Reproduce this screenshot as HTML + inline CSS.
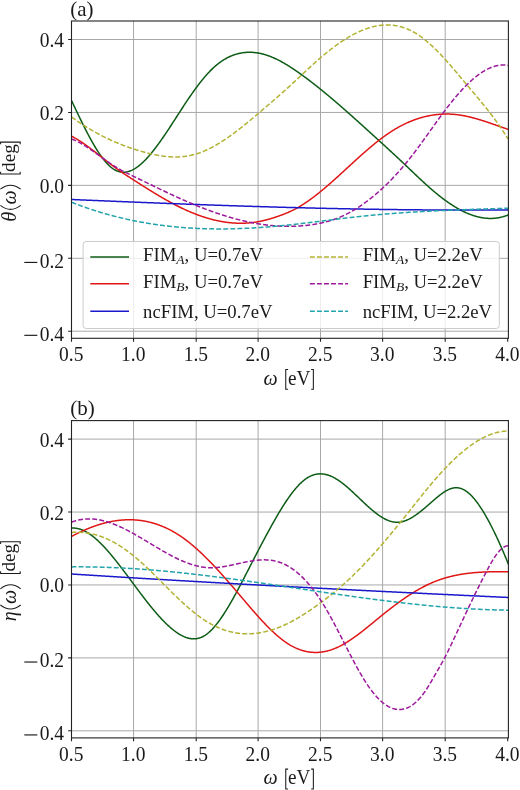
<!DOCTYPE html>
<html><head><meta charset="utf-8"><title>plot</title>
<style>
html,body{margin:0;padding:0;background:#fff;width:520px;height:790px;overflow:hidden}
svg{display:block;will-change:transform}
.t{font-family:"Liberation Serif",serif;font-size:19.50px;fill:#1a1a1a}
.lt{font-family:"Liberation Serif",serif;font-size:18.7px;fill:#1a1a1a}
</style></head><body>
<svg width="520" height="790" viewBox="0 0 520 790">
<rect width="520" height="790" fill="#fff"/>
<clipPath id="clip0"><rect x="71.50" y="21.00" width="436.90" height="317.30"/></clipPath>
<path d="M133.55 21.00 V338.30 M196.20 21.00 V338.30 M258.10 21.00 V338.30 M320.50 21.00 V338.30 M382.60 21.00 V338.30 M445.20 21.00 V338.30 M71.50 39.50 H508.40 M71.50 112.45 H508.40 M71.50 185.35 H508.40 M71.50 258.30 H508.40 M71.50 331.20 H508.40" stroke="#a8a8a8" stroke-width="1" fill="none"/>
<g clip-path="url(#clip0)" fill="none" stroke-width="1.50" stroke-linejoin="round">
<path d="M71.50 100.54 L72.0 101.60 72.5 102.66 73.0 103.71 73.5 104.77 74.0 105.82 74.5 106.88 75.0 107.93 75.5 108.98 76.0 110.03 76.5 111.08 77.0 112.13 77.5 113.18 78.0 114.22 78.5 115.26 79.0 116.29 79.5 117.33 80.0 118.36 80.5 119.39 81.0 120.41 81.5 121.43 82.0 122.45 82.5 123.46 83.0 124.46 83.5 125.47 84.0 126.46 84.5 127.46 85.0 128.44 85.5 129.43 86.0 130.40 86.5 131.37 87.0 132.34 87.5 133.29 88.0 134.24 88.5 135.19 89.0 136.13 89.5 137.06 90.0 137.98 90.5 138.89 91.0 139.80 91.5 140.70 92.0 141.59 92.5 142.47 93.0 143.35 93.5 144.21 94.0 145.07 94.5 145.91 95.0 146.75 95.5 147.58 96.0 148.39 96.5 149.20 97.0 150.00 97.5 150.78 98.0 151.56 98.5 152.32 99.0 153.08 99.5 153.82 100.0 154.55 100.5 155.27 101.0 155.97 101.5 156.67 102.0 157.35 102.5 158.02 103.0 158.67 103.5 159.31 104.0 159.94 104.5 160.56 105.0 161.16 105.5 161.75 106.0 162.32 106.5 162.88 107.0 163.43 107.5 163.96 108.0 164.47 108.5 164.97 109.0 165.46 109.5 165.93 110.0 166.38 110.5 166.82 111.0 167.24 111.5 167.64 112.0 168.03 112.5 168.40 113.0 168.76 113.5 169.09 114.0 169.41 114.5 169.71 115.0 170.00 115.5 170.26 116.0 170.51 116.5 170.74 117.0 170.95 117.5 171.15 118.0 171.33 118.5 171.50 119.0 171.64 119.5 171.77 120.0 171.89 120.5 171.99 121.0 172.07 121.5 172.13 122.0 172.19 122.5 172.22 123.0 172.24 123.5 172.25 124.0 172.24 124.5 172.21 125.0 172.17 125.5 172.12 126.0 172.05 126.5 171.97 127.0 171.87 127.5 171.76 128.0 171.63 128.5 171.49 129.0 171.34 129.5 171.18 130.0 171.00 130.5 170.81 131.0 170.60 131.5 170.39 132.0 170.16 132.5 169.91 133.0 169.66 133.5 169.39 134.0 169.11 134.5 168.82 135.0 168.52 135.5 168.20 136.0 167.88 136.5 167.54 137.0 167.19 137.5 166.84 138.0 166.47 138.5 166.09 139.0 165.69 139.5 165.29 140.0 164.88 140.5 164.46 141.0 164.03 141.5 163.59 142.0 163.14 142.5 162.68 143.0 162.21 143.5 161.73 144.0 161.24 144.5 160.75 145.0 160.24 145.5 159.73 146.0 159.20 146.5 158.67 147.0 158.13 147.5 157.59 148.0 157.03 148.5 156.47 149.0 155.90 149.5 155.33 150.0 154.74 150.5 154.15 151.0 153.55 151.5 152.95 152.0 152.34 152.5 151.72 153.0 151.09 153.5 150.46 154.0 149.83 154.5 149.18 155.0 148.54 155.5 147.88 156.0 147.22 156.5 146.56 157.0 145.89 157.5 145.21 158.0 144.53 158.5 143.85 159.0 143.16 159.5 142.46 160.0 141.76 160.5 141.06 161.0 140.35 161.5 139.64 162.0 138.92 162.5 138.20 163.0 137.48 163.5 136.75 164.0 136.02 164.5 135.28 165.0 134.55 165.5 133.81 166.0 133.06 166.5 132.32 167.0 131.57 167.5 130.82 168.0 130.06 168.5 129.31 169.0 128.55 169.5 127.79 170.0 127.02 170.5 126.26 171.0 125.50 171.5 124.73 172.0 123.96 172.5 123.19 173.0 122.42 173.5 121.65 174.0 120.87 174.5 120.10 175.0 119.33 175.5 118.55 176.0 117.78 176.5 117.00 177.0 116.23 177.5 115.46 178.0 114.68 178.5 113.91 179.0 113.13 179.5 112.36 180.0 111.59 180.5 110.82 181.0 110.05 181.5 109.28 182.0 108.51 182.5 107.74 183.0 106.98 183.5 106.21 184.0 105.45 184.5 104.69 185.0 103.94 185.5 103.18 186.0 102.43 186.5 101.68 187.0 100.93 187.5 100.18 188.0 99.44 188.5 98.70 189.0 97.97 189.5 97.23 190.0 96.50 190.5 95.78 191.0 95.05 191.5 94.34 192.0 93.62 192.5 92.91 193.0 92.20 193.5 91.50 194.0 90.80 194.5 90.10 195.0 89.41 195.5 88.72 196.0 88.04 196.5 87.36 197.0 86.69 197.5 86.02 198.0 85.35 198.5 84.70 199.0 84.04 199.5 83.39 200.0 82.75 200.5 82.11 201.0 81.48 201.5 80.85 202.0 80.23 202.5 79.61 203.0 79.00 203.5 78.40 204.0 77.80 204.5 77.21 205.0 76.62 205.5 76.04 206.0 75.47 206.5 74.90 207.0 74.34 207.5 73.79 208.0 73.24 208.5 72.70 209.0 72.17 209.5 71.64 210.0 71.13 210.5 70.61 211.0 70.11 211.5 69.61 212.0 69.12 212.5 68.64 213.0 68.17 213.5 67.70 214.0 67.25 214.5 66.80 215.0 66.35 215.5 65.92 216.0 65.49 216.5 65.07 217.0 64.66 217.5 64.26 218.0 63.86 218.5 63.47 219.0 63.09 219.5 62.72 220.0 62.35 220.5 61.99 221.0 61.64 221.5 61.29 222.0 60.95 222.5 60.62 223.0 60.30 223.5 59.98 224.0 59.67 224.5 59.37 225.0 59.07 225.5 58.79 226.0 58.50 226.5 58.23 227.0 57.96 227.5 57.70 228.0 57.44 228.5 57.20 229.0 56.95 229.5 56.72 230.0 56.49 230.5 56.27 231.0 56.05 231.5 55.84 232.0 55.64 232.5 55.45 233.0 55.26 233.5 55.07 234.0 54.89 234.5 54.72 235.0 54.56 235.5 54.40 236.0 54.25 236.5 54.10 237.0 53.96 237.5 53.82 238.0 53.69 238.5 53.57 239.0 53.45 239.5 53.34 240.0 53.24 240.5 53.14 241.0 53.04 241.5 52.95 242.0 52.87 242.5 52.79 243.0 52.72 243.5 52.65 244.0 52.59 244.5 52.54 245.0 52.49 245.5 52.44 246.0 52.40 246.5 52.37 247.0 52.34 247.5 52.31 248.0 52.30 248.5 52.28 249.0 52.27 249.5 52.27 250.0 52.27 250.5 52.28 251.0 52.30 251.5 52.31 252.0 52.34 252.5 52.36 253.0 52.40 253.5 52.44 254.0 52.48 254.5 52.53 255.0 52.58 255.5 52.64 256.0 52.70 256.5 52.77 257.0 52.84 257.5 52.92 258.0 53.00 258.5 53.09 259.0 53.18 259.5 53.28 260.0 53.38 260.5 53.48 261.0 53.59 261.5 53.71 262.0 53.83 262.5 53.95 263.0 54.08 263.5 54.22 264.0 54.35 264.5 54.50 265.0 54.64 265.5 54.79 266.0 54.95 266.5 55.11 267.0 55.27 267.5 55.44 268.0 55.62 268.5 55.79 269.0 55.98 269.5 56.16 270.0 56.35 270.5 56.54 271.0 56.74 271.5 56.94 272.0 57.15 272.5 57.36 273.0 57.57 273.5 57.79 274.0 58.01 274.5 58.24 275.0 58.46 275.5 58.70 276.0 58.93 276.5 59.17 277.0 59.41 277.5 59.66 278.0 59.91 278.5 60.16 279.0 60.42 279.5 60.68 280.0 60.94 280.5 61.20 281.0 61.47 281.5 61.75 282.0 62.02 282.5 62.30 283.0 62.58 283.5 62.86 284.0 63.15 284.5 63.44 285.0 63.73 285.5 64.03 286.0 64.33 286.5 64.63 287.0 64.93 287.5 65.23 288.0 65.54 288.5 65.85 289.0 66.17 289.5 66.48 290.0 66.80 290.5 67.12 291.0 67.44 291.5 67.77 292.0 68.09 292.5 68.42 293.0 68.75 293.5 69.09 294.0 69.42 294.5 69.76 295.0 70.10 295.5 70.44 296.0 70.78 296.5 71.13 297.0 71.47 297.5 71.82 298.0 72.17 298.5 72.52 299.0 72.87 299.5 73.23 300.0 73.58 300.5 73.94 301.0 74.30 301.5 74.66 302.0 75.02 302.5 75.38 303.0 75.75 303.5 76.11 304.0 76.48 304.5 76.84 305.0 77.21 305.5 77.58 306.0 77.95 306.5 78.33 307.0 78.70 307.5 79.08 308.0 79.45 308.5 79.83 309.0 80.21 309.5 80.59 310.0 80.97 310.5 81.35 311.0 81.73 311.5 82.12 312.0 82.50 312.5 82.89 313.0 83.28 313.5 83.67 314.0 84.06 314.5 84.45 315.0 84.84 315.5 85.23 316.0 85.63 316.5 86.02 317.0 86.42 317.5 86.81 318.0 87.21 318.5 87.61 319.0 88.01 319.5 88.41 320.0 88.82 320.5 89.22 321.0 89.62 321.5 90.03 322.0 90.44 322.5 90.84 323.0 91.25 323.5 91.66 324.0 92.07 324.5 92.48 325.0 92.89 325.5 93.30 326.0 93.72 326.5 94.13 327.0 94.55 327.5 94.96 328.0 95.38 328.5 95.80 329.0 96.21 329.5 96.63 330.0 97.05 330.5 97.47 331.0 97.90 331.5 98.32 332.0 98.74 332.5 99.17 333.0 99.59 333.5 100.02 334.0 100.44 334.5 100.87 335.0 101.30 335.5 101.72 336.0 102.15 336.5 102.58 337.0 103.01 337.5 103.44 338.0 103.87 338.5 104.31 339.0 104.74 339.5 105.17 340.0 105.61 340.5 106.04 341.0 106.48 341.5 106.91 342.0 107.35 342.5 107.78 343.0 108.22 343.5 108.66 344.0 109.10 344.5 109.54 345.0 109.98 345.5 110.42 346.0 110.86 346.5 111.30 347.0 111.74 347.5 112.18 348.0 112.62 348.5 113.07 349.0 113.51 349.5 113.95 350.0 114.40 350.5 114.84 351.0 115.29 351.5 115.73 352.0 116.18 352.5 116.63 353.0 117.07 353.5 117.52 354.0 117.97 354.5 118.41 355.0 118.86 355.5 119.31 356.0 119.76 356.5 120.21 357.0 120.66 357.5 121.11 358.0 121.56 358.5 122.01 359.0 122.46 359.5 122.91 360.0 123.36 360.5 123.81 361.0 124.26 361.5 124.71 362.0 125.16 362.5 125.61 363.0 126.06 363.5 126.52 364.0 126.97 364.5 127.42 365.0 127.87 365.5 128.33 366.0 128.78 366.5 129.23 367.0 129.69 367.5 130.14 368.0 130.59 368.5 131.05 369.0 131.50 369.5 131.95 370.0 132.41 370.5 132.86 371.0 133.31 371.5 133.77 372.0 134.22 372.5 134.67 373.0 135.13 373.5 135.58 374.0 136.04 374.5 136.49 375.0 136.94 375.5 137.40 376.0 137.85 376.5 138.31 377.0 138.76 377.5 139.22 378.0 139.67 378.5 140.13 379.0 140.58 379.5 141.04 380.0 141.49 380.5 141.95 381.0 142.41 381.5 142.86 382.0 143.32 382.5 143.77 383.0 144.23 383.5 144.69 384.0 145.15 384.5 145.60 385.0 146.06 385.5 146.52 386.0 146.98 386.5 147.44 387.0 147.90 387.5 148.36 388.0 148.82 388.5 149.28 389.0 149.74 389.5 150.20 390.0 150.66 390.5 151.12 391.0 151.58 391.5 152.04 392.0 152.50 392.5 152.97 393.0 153.43 393.5 153.89 394.0 154.36 394.5 154.82 395.0 155.29 395.5 155.75 396.0 156.22 396.5 156.68 397.0 157.15 397.5 157.61 398.0 158.08 398.5 158.55 399.0 159.02 399.5 159.49 400.0 159.95 400.5 160.42 401.0 160.89 401.5 161.36 402.0 161.84 402.5 162.31 403.0 162.78 403.5 163.25 404.0 163.72 404.5 164.20 405.0 164.67 405.5 165.15 406.0 165.62 406.5 166.10 407.0 166.57 407.5 167.05 408.0 167.53 408.5 168.00 409.0 168.48 409.5 168.96 410.0 169.43 410.5 169.91 411.0 170.39 411.5 170.86 412.0 171.34 412.5 171.82 413.0 172.29 413.5 172.77 414.0 173.25 414.5 173.72 415.0 174.20 415.5 174.67 416.0 175.15 416.5 175.62 417.0 176.09 417.5 176.56 418.0 177.04 418.5 177.51 419.0 177.98 419.5 178.45 420.0 178.91 420.5 179.38 421.0 179.85 421.5 180.31 422.0 180.78 422.5 181.24 423.0 181.70 423.5 182.16 424.0 182.62 424.5 183.08 425.0 183.54 425.5 183.99 426.0 184.45 426.5 184.90 427.0 185.35 427.5 185.80 428.0 186.24 428.5 186.69 429.0 187.13 429.5 187.58 430.0 188.02 430.5 188.45 431.0 188.89 431.5 189.32 432.0 189.76 432.5 190.19 433.0 190.61 433.5 191.04 434.0 191.46 434.5 191.88 435.0 192.30 435.5 192.72 436.0 193.13 436.5 193.54 437.0 193.95 437.5 194.36 438.0 194.76 438.5 195.17 439.0 195.57 439.5 195.96 440.0 196.36 440.5 196.75 441.0 197.14 441.5 197.52 442.0 197.91 442.5 198.29 443.0 198.67 443.5 199.04 444.0 199.42 444.5 199.79 445.0 200.15 445.5 200.52 446.0 200.88 446.5 201.24 447.0 201.59 447.5 201.95 448.0 202.30 448.5 202.64 449.0 202.99 449.5 203.33 450.0 203.67 450.5 204.00 451.0 204.33 451.5 204.66 452.0 204.99 452.5 205.31 453.0 205.63 453.5 205.94 454.0 206.25 454.5 206.56 455.0 206.87 455.5 207.17 456.0 207.47 456.5 207.76 457.0 208.06 457.5 208.35 458.0 208.63 458.5 208.91 459.0 209.19 459.5 209.46 460.0 209.73 460.5 210.00 461.0 210.27 461.5 210.52 462.0 210.78 462.5 211.03 463.0 211.28 463.5 211.53 464.0 211.77 464.5 212.01 465.0 212.24 465.5 212.47 466.0 212.69 466.5 212.92 467.0 213.13 467.5 213.35 468.0 213.56 468.5 213.76 469.0 213.96 469.5 214.16 470.0 214.35 470.5 214.54 471.0 214.73 471.5 214.91 472.0 215.09 472.5 215.26 473.0 215.43 473.5 215.59 474.0 215.75 474.5 215.91 475.0 216.06 475.5 216.20 476.0 216.35 476.5 216.48 477.0 216.62 477.5 216.74 478.0 216.87 478.5 216.99 479.0 217.10 479.5 217.21 480.0 217.32 480.5 217.42 481.0 217.52 481.5 217.61 482.0 217.69 482.5 217.78 483.0 217.85 483.5 217.93 484.0 217.99 484.5 218.06 485.0 218.12 485.5 218.17 486.0 218.22 486.5 218.26 487.0 218.30 487.5 218.33 488.0 218.36 488.5 218.38 489.0 218.40 489.5 218.41 490.0 218.42 490.5 218.42 491.0 218.42 491.5 218.41 492.0 218.40 492.5 218.38 493.0 218.36 493.5 218.33 494.0 218.29 494.5 218.25 495.0 218.21 495.5 218.16 496.0 218.10 496.5 218.04 497.0 217.97 497.5 217.90 498.0 217.82 498.5 217.74 499.0 217.65 499.5 217.55 500.0 217.45 500.5 217.34 501.0 217.23 501.5 217.11 502.0 216.99 502.5 216.86 503.0 216.73 503.5 216.58 504.0 216.44 504.5 216.28 505.0 216.13 505.5 215.96 506.0 215.79 506.5 215.61 507.0 215.43 507.5 215.24 508.0 215.05 508.1 215.01" stroke="#0c5c16"/>
<path d="M71.50 136.19 L72.0 136.44 72.5 136.70 73.0 136.96 73.5 137.23 74.0 137.50 74.5 137.78 75.0 138.06 75.5 138.34 76.0 138.63 76.5 138.92 77.0 139.22 77.5 139.52 78.0 139.83 78.5 140.14 79.0 140.45 79.5 140.77 80.0 141.08 80.5 141.41 81.0 141.73 81.5 142.06 82.0 142.40 82.5 142.73 83.0 143.07 83.5 143.42 84.0 143.76 84.5 144.11 85.0 144.46 85.5 144.81 86.0 145.17 86.5 145.53 87.0 145.89 87.5 146.25 88.0 146.62 88.5 146.99 89.0 147.36 89.5 147.73 90.0 148.10 90.5 148.48 91.0 148.85 91.5 149.23 92.0 149.61 92.5 150.00 93.0 150.38 93.5 150.76 94.0 151.15 94.5 151.54 95.0 151.93 95.5 152.32 96.0 152.71 96.5 153.10 97.0 153.49 97.5 153.88 98.0 154.28 98.5 154.67 99.0 155.06 99.5 155.46 100.0 155.85 100.5 156.25 101.0 156.64 101.5 157.04 102.0 157.43 102.5 157.83 103.0 158.22 103.5 158.62 104.0 159.01 104.5 159.41 105.0 159.80 105.5 160.19 106.0 160.59 106.5 160.98 107.0 161.37 107.5 161.76 108.0 162.15 108.5 162.53 109.0 162.92 109.5 163.30 110.0 163.69 110.5 164.07 111.0 164.45 111.5 164.83 112.0 165.21 112.5 165.58 113.0 165.96 113.5 166.33 114.0 166.70 114.5 167.07 115.0 167.43 115.5 167.80 116.0 168.16 116.5 168.52 117.0 168.88 117.5 169.23 118.0 169.58 118.5 169.94 119.0 170.28 119.5 170.63 120.0 170.98 120.5 171.32 121.0 171.67 121.5 172.01 122.0 172.35 122.5 172.68 123.0 173.02 123.5 173.36 124.0 173.69 124.5 174.03 125.0 174.36 125.5 174.69 126.0 175.02 126.5 175.35 127.0 175.68 127.5 176.00 128.0 176.33 128.5 176.65 129.0 176.98 129.5 177.30 130.0 177.63 130.5 177.95 131.0 178.27 131.5 178.60 132.0 178.92 132.5 179.24 133.0 179.56 133.5 179.88 134.0 180.21 134.5 180.53 135.0 180.85 135.5 181.17 136.0 181.49 136.5 181.81 137.0 182.13 137.5 182.45 138.0 182.77 138.5 183.09 139.0 183.41 139.5 183.73 140.0 184.05 140.5 184.36 141.0 184.68 141.5 185.00 142.0 185.32 142.5 185.63 143.0 185.95 143.5 186.27 144.0 186.58 144.5 186.90 145.0 187.21 145.5 187.53 146.0 187.84 146.5 188.15 147.0 188.47 147.5 188.78 148.0 189.09 148.5 189.40 149.0 189.71 149.5 190.02 150.0 190.33 150.5 190.64 151.0 190.95 151.5 191.26 152.0 191.56 152.5 191.87 153.0 192.18 153.5 192.48 154.0 192.78 154.5 193.09 155.0 193.39 155.5 193.69 156.0 193.99 156.5 194.29 157.0 194.59 157.5 194.89 158.0 195.19 158.5 195.49 159.0 195.78 159.5 196.08 160.0 196.37 160.5 196.67 161.0 196.96 161.5 197.25 162.0 197.54 162.5 197.83 163.0 198.12 163.5 198.41 164.0 198.69 164.5 198.98 165.0 199.26 165.5 199.55 166.0 199.83 166.5 200.11 167.0 200.39 167.5 200.67 168.0 200.95 168.5 201.22 169.0 201.50 169.5 201.77 170.0 202.05 170.5 202.32 171.0 202.59 171.5 202.86 172.0 203.13 172.5 203.39 173.0 203.66 173.5 203.92 174.0 204.19 174.5 204.45 175.0 204.71 175.5 204.97 176.0 205.23 176.5 205.48 177.0 205.74 177.5 205.99 178.0 206.24 178.5 206.49 179.0 206.74 179.5 206.99 180.0 207.24 180.5 207.48 181.0 207.73 181.5 207.97 182.0 208.21 182.5 208.45 183.0 208.68 183.5 208.92 184.0 209.15 184.5 209.38 185.0 209.61 185.5 209.84 186.0 210.07 186.5 210.30 187.0 210.52 187.5 210.74 188.0 210.96 188.5 211.18 189.0 211.40 189.5 211.61 190.0 211.83 190.5 212.04 191.0 212.25 191.5 212.46 192.0 212.66 192.5 212.87 193.0 213.07 193.5 213.27 194.0 213.47 194.5 213.67 195.0 213.87 195.5 214.06 196.0 214.25 196.5 214.44 197.0 214.63 197.5 214.82 198.0 215.01 198.5 215.19 199.0 215.37 199.5 215.55 200.0 215.73 200.5 215.90 201.0 216.08 201.5 216.25 202.0 216.42 202.5 216.59 203.0 216.75 203.5 216.92 204.0 217.08 204.5 217.24 205.0 217.40 205.5 217.56 206.0 217.71 206.5 217.86 207.0 218.01 207.5 218.16 208.0 218.31 208.5 218.46 209.0 218.60 209.5 218.74 210.0 218.88 210.5 219.01 211.0 219.15 211.5 219.28 212.0 219.41 212.5 219.54 213.0 219.67 213.5 219.79 214.0 219.91 214.5 220.04 215.0 220.15 215.5 220.27 216.0 220.38 216.5 220.50 217.0 220.61 217.5 220.71 218.0 220.82 218.5 220.92 219.0 221.02 219.5 221.12 220.0 221.22 220.5 221.31 221.0 221.41 221.5 221.50 222.0 221.59 222.5 221.67 223.0 221.76 223.5 221.84 224.0 221.92 224.5 221.99 225.0 222.07 225.5 222.14 226.0 222.21 226.5 222.28 227.0 222.35 227.5 222.41 228.0 222.47 228.5 222.53 229.0 222.59 229.5 222.64 230.0 222.69 230.5 222.74 231.0 222.79 231.5 222.84 232.0 222.88 232.5 222.92 233.0 222.96 233.5 222.99 234.0 223.03 234.5 223.06 235.0 223.09 235.5 223.11 236.0 223.14 236.5 223.16 237.0 223.18 237.5 223.20 238.0 223.21 238.5 223.22 239.0 223.23 239.5 223.24 240.0 223.24 240.5 223.25 241.0 223.24 241.5 223.24 242.0 223.24 242.5 223.23 243.0 223.22 243.5 223.21 244.0 223.19 244.5 223.17 245.0 223.15 245.5 223.13 246.0 223.10 246.5 223.08 247.0 223.04 247.5 223.01 248.0 222.98 248.5 222.94 249.0 222.90 249.5 222.85 250.0 222.81 250.5 222.76 251.0 222.71 251.5 222.65 252.0 222.60 252.5 222.54 253.0 222.48 253.5 222.41 254.0 222.34 254.5 222.27 255.0 222.20 255.5 222.13 256.0 222.05 256.5 221.97 257.0 221.88 257.5 221.80 258.0 221.71 258.5 221.62 259.0 221.53 259.5 221.43 260.0 221.33 260.5 221.23 261.0 221.13 261.5 221.02 262.0 220.91 262.5 220.80 263.0 220.69 263.5 220.58 264.0 220.46 264.5 220.34 265.0 220.22 265.5 220.09 266.0 219.97 266.5 219.84 267.0 219.71 267.5 219.57 268.0 219.44 268.5 219.30 269.0 219.16 269.5 219.02 270.0 218.88 270.5 218.73 271.0 218.58 271.5 218.43 272.0 218.28 272.5 218.13 273.0 217.97 273.5 217.81 274.0 217.66 274.5 217.49 275.0 217.33 275.5 217.17 276.0 217.00 276.5 216.83 277.0 216.66 277.5 216.49 278.0 216.32 278.5 216.14 279.0 215.96 279.5 215.79 280.0 215.61 280.5 215.42 281.0 215.24 281.5 215.05 282.0 214.87 282.5 214.68 283.0 214.49 283.5 214.29 284.0 214.10 284.5 213.90 285.0 213.70 285.5 213.50 286.0 213.29 286.5 213.08 287.0 212.87 287.5 212.66 288.0 212.44 288.5 212.22 289.0 212.00 289.5 211.78 290.0 211.55 290.5 211.32 291.0 211.09 291.5 210.85 292.0 210.61 292.5 210.37 293.0 210.12 293.5 209.87 294.0 209.62 294.5 209.36 295.0 209.10 295.5 208.84 296.0 208.57 296.5 208.30 297.0 208.02 297.5 207.74 298.0 207.46 298.5 207.17 299.0 206.89 299.5 206.59 300.0 206.30 300.5 206.00 301.0 205.69 301.5 205.39 302.0 205.08 302.5 204.76 303.0 204.45 303.5 204.13 304.0 203.80 304.5 203.48 305.0 203.15 305.5 202.82 306.0 202.48 306.5 202.14 307.0 201.80 307.5 201.46 308.0 201.11 308.5 200.76 309.0 200.41 309.5 200.05 310.0 199.70 310.5 199.34 311.0 198.97 311.5 198.61 312.0 198.24 312.5 197.87 313.0 197.49 313.5 197.12 314.0 196.74 314.5 196.36 315.0 195.97 315.5 195.59 316.0 195.20 316.5 194.81 317.0 194.42 317.5 194.02 318.0 193.63 318.5 193.23 319.0 192.83 319.5 192.42 320.0 192.02 320.5 191.61 321.0 191.20 321.5 190.79 322.0 190.38 322.5 189.97 323.0 189.55 323.5 189.13 324.0 188.71 324.5 188.29 325.0 187.87 325.5 187.44 326.0 187.02 326.5 186.59 327.0 186.16 327.5 185.73 328.0 185.30 328.5 184.86 329.0 184.43 329.5 183.99 330.0 183.56 330.5 183.12 331.0 182.68 331.5 182.24 332.0 181.79 332.5 181.35 333.0 180.91 333.5 180.46 334.0 180.01 334.5 179.57 335.0 179.12 335.5 178.67 336.0 178.22 336.5 177.77 337.0 177.32 337.5 176.86 338.0 176.41 338.5 175.96 339.0 175.50 339.5 175.05 340.0 174.59 340.5 174.13 341.0 173.68 341.5 173.22 342.0 172.76 342.5 172.30 343.0 171.85 343.5 171.39 344.0 170.93 344.5 170.47 345.0 170.01 345.5 169.55 346.0 169.09 346.5 168.63 347.0 168.17 347.5 167.71 348.0 167.25 348.5 166.79 349.0 166.33 349.5 165.87 350.0 165.41 350.5 164.95 351.0 164.50 351.5 164.04 352.0 163.58 352.5 163.12 353.0 162.66 353.5 162.20 354.0 161.75 354.5 161.29 355.0 160.84 355.5 160.38 356.0 159.93 356.5 159.47 357.0 159.02 357.5 158.56 358.0 158.11 358.5 157.66 359.0 157.21 359.5 156.76 360.0 156.31 360.5 155.86 361.0 155.42 361.5 154.97 362.0 154.53 362.5 154.08 363.0 153.64 363.5 153.20 364.0 152.76 364.5 152.32 365.0 151.88 365.5 151.44 366.0 151.01 366.5 150.57 367.0 150.14 367.5 149.71 368.0 149.28 368.5 148.85 369.0 148.42 369.5 148.00 370.0 147.57 370.5 147.15 371.0 146.73 371.5 146.31 372.0 145.90 372.5 145.48 373.0 145.07 373.5 144.66 374.0 144.25 374.5 143.84 375.0 143.43 375.5 143.03 376.0 142.63 376.5 142.23 377.0 141.83 377.5 141.43 378.0 141.04 378.5 140.65 379.0 140.26 379.5 139.87 380.0 139.49 380.5 139.11 381.0 138.73 381.5 138.35 382.0 137.97 382.5 137.60 383.0 137.23 383.5 136.87 384.0 136.50 384.5 136.14 385.0 135.78 385.5 135.42 386.0 135.07 386.5 134.72 387.0 134.37 387.5 134.02 388.0 133.68 388.5 133.34 389.0 133.01 389.5 132.67 390.0 132.34 390.5 132.01 391.0 131.69 391.5 131.37 392.0 131.05 392.5 130.73 393.0 130.42 393.5 130.11 394.0 129.81 394.5 129.50 395.0 129.20 395.5 128.91 396.0 128.61 396.5 128.32 397.0 128.03 397.5 127.75 398.0 127.46 398.5 127.19 399.0 126.91 399.5 126.64 400.0 126.37 400.5 126.10 401.0 125.83 401.5 125.57 402.0 125.31 402.5 125.06 403.0 124.81 403.5 124.56 404.0 124.31 404.5 124.07 405.0 123.83 405.5 123.59 406.0 123.36 406.5 123.13 407.0 122.90 407.5 122.67 408.0 122.45 408.5 122.23 409.0 122.01 409.5 121.80 410.0 121.59 410.5 121.38 411.0 121.18 411.5 120.97 412.0 120.78 412.5 120.58 413.0 120.39 413.5 120.20 414.0 120.01 414.5 119.82 415.0 119.64 415.5 119.47 416.0 119.29 416.5 119.12 417.0 118.95 417.5 118.78 418.0 118.62 418.5 118.46 419.0 118.30 419.5 118.14 420.0 117.99 420.5 117.84 421.0 117.70 421.5 117.55 422.0 117.41 422.5 117.28 423.0 117.14 423.5 117.01 424.0 116.88 424.5 116.75 425.0 116.63 425.5 116.51 426.0 116.39 426.5 116.28 427.0 116.17 427.5 116.06 428.0 115.95 428.5 115.85 429.0 115.75 429.5 115.65 430.0 115.56 430.5 115.47 431.0 115.38 431.5 115.29 432.0 115.21 432.5 115.13 433.0 115.06 433.5 114.98 434.0 114.91 434.5 114.84 435.0 114.78 435.5 114.71 436.0 114.65 436.5 114.60 437.0 114.54 437.5 114.49 438.0 114.44 438.5 114.40 439.0 114.35 439.5 114.31 440.0 114.28 440.5 114.24 441.0 114.21 441.5 114.18 442.0 114.16 442.5 114.13 443.0 114.11 443.5 114.09 444.0 114.08 444.5 114.07 445.0 114.06 445.5 114.05 446.0 114.05 446.5 114.05 447.0 114.05 447.5 114.05 448.0 114.06 448.5 114.07 449.0 114.09 449.5 114.10 450.0 114.12 450.5 114.14 451.0 114.17 451.5 114.19 452.0 114.22 452.5 114.26 453.0 114.29 453.5 114.33 454.0 114.37 454.5 114.42 455.0 114.46 455.5 114.51 456.0 114.56 456.5 114.62 457.0 114.68 457.5 114.74 458.0 114.80 458.5 114.87 459.0 114.93 459.5 115.01 460.0 115.08 460.5 115.16 461.0 115.24 461.5 115.32 462.0 115.40 462.5 115.49 463.0 115.58 463.5 115.67 464.0 115.76 464.5 115.86 465.0 115.96 465.5 116.06 466.0 116.16 466.5 116.27 467.0 116.37 467.5 116.48 468.0 116.60 468.5 116.71 469.0 116.83 469.5 116.94 470.0 117.06 470.5 117.18 471.0 117.31 471.5 117.43 472.0 117.56 472.5 117.69 473.0 117.82 473.5 117.95 474.0 118.09 474.5 118.22 475.0 118.36 475.5 118.50 476.0 118.64 476.5 118.79 477.0 118.93 477.5 119.07 478.0 119.22 478.5 119.37 479.0 119.52 479.5 119.67 480.0 119.82 480.5 119.97 481.0 120.13 481.5 120.29 482.0 120.44 482.5 120.60 483.0 120.76 483.5 120.92 484.0 121.08 484.5 121.24 485.0 121.41 485.5 121.57 486.0 121.74 486.5 121.90 487.0 122.07 487.5 122.24 488.0 122.40 488.5 122.57 489.0 122.74 489.5 122.91 490.0 123.08 490.5 123.25 491.0 123.43 491.5 123.60 492.0 123.77 492.5 123.94 493.0 124.12 493.5 124.29 494.0 124.47 494.5 124.64 495.0 124.82 495.5 124.99 496.0 125.17 496.5 125.34 497.0 125.52 497.5 125.69 498.0 125.87 498.5 126.05 499.0 126.22 499.5 126.40 500.0 126.57 500.5 126.75 501.0 126.92 501.5 127.10 502.0 127.28 502.5 127.45 503.0 127.62 503.5 127.80 504.0 127.97 504.5 128.15 505.0 128.32 505.5 128.49 506.0 128.66 506.5 128.84 507.0 129.01 507.5 129.18 508.0 129.35 508.1 129.38" stroke="#e01616"/>
<path d="M71.50 199.49 L72.0 199.51 72.5 199.54 73.0 199.56 73.5 199.58 74.0 199.60 74.5 199.62 75.0 199.64 75.5 199.66 76.0 199.69 76.5 199.71 77.0 199.73 77.5 199.75 78.0 199.77 78.5 199.79 79.0 199.81 79.5 199.83 80.0 199.86 80.5 199.88 81.0 199.90 81.5 199.92 82.0 199.94 82.5 199.96 83.0 199.98 83.5 200.00 84.0 200.03 84.5 200.05 85.0 200.07 85.5 200.09 86.0 200.11 86.5 200.13 87.0 200.15 87.5 200.17 88.0 200.20 88.5 200.22 89.0 200.24 89.5 200.26 90.0 200.28 90.5 200.30 91.0 200.32 91.5 200.34 92.0 200.36 92.5 200.39 93.0 200.41 93.5 200.43 94.0 200.45 94.5 200.47 95.0 200.49 95.5 200.51 96.0 200.53 96.5 200.55 97.0 200.57 97.5 200.60 98.0 200.62 98.5 200.64 99.0 200.66 99.5 200.68 100.0 200.70 100.5 200.72 101.0 200.74 101.5 200.76 102.0 200.78 102.5 200.81 103.0 200.83 103.5 200.85 104.0 200.87 104.5 200.89 105.0 200.91 105.5 200.93 106.0 200.95 106.5 200.97 107.0 200.99 107.5 201.01 108.0 201.03 108.5 201.05 109.0 201.08 109.5 201.10 110.0 201.12 110.5 201.14 111.0 201.16 111.5 201.18 112.0 201.20 112.5 201.22 113.0 201.24 113.5 201.26 114.0 201.28 114.5 201.30 115.0 201.32 115.5 201.34 116.0 201.36 116.5 201.39 117.0 201.41 117.5 201.43 118.0 201.45 118.5 201.47 119.0 201.49 119.5 201.51 120.0 201.53 120.5 201.55 121.0 201.57 121.5 201.59 122.0 201.61 122.5 201.63 123.0 201.65 123.5 201.67 124.0 201.69 124.5 201.71 125.0 201.73 125.5 201.75 126.0 201.77 126.5 201.79 127.0 201.82 127.5 201.84 128.0 201.86 128.5 201.88 129.0 201.90 129.5 201.92 130.0 201.94 130.5 201.96 131.0 201.98 131.5 202.00 132.0 202.02 132.5 202.04 133.0 202.06 133.5 202.08 134.0 202.10 134.5 202.12 135.0 202.14 135.5 202.16 136.0 202.18 136.5 202.20 137.0 202.22 137.5 202.24 138.0 202.26 138.5 202.28 139.0 202.30 139.5 202.32 140.0 202.34 140.5 202.36 141.0 202.38 141.5 202.40 142.0 202.42 142.5 202.44 143.0 202.46 143.5 202.48 144.0 202.50 144.5 202.52 145.0 202.54 145.5 202.56 146.0 202.58 146.5 202.60 147.0 202.62 147.5 202.64 148.0 202.66 148.5 202.68 149.0 202.70 149.5 202.72 150.0 202.74 150.5 202.76 151.0 202.77 151.5 202.79 152.0 202.81 152.5 202.83 153.0 202.85 153.5 202.87 154.0 202.89 154.5 202.91 155.0 202.93 155.5 202.95 156.0 202.97 156.5 202.99 157.0 203.01 157.5 203.03 158.0 203.05 158.5 203.07 159.0 203.09 159.5 203.11 160.0 203.13 160.5 203.15 161.0 203.16 161.5 203.18 162.0 203.20 162.5 203.22 163.0 203.24 163.5 203.26 164.0 203.28 164.5 203.30 165.0 203.32 165.5 203.34 166.0 203.36 166.5 203.38 167.0 203.40 167.5 203.42 168.0 203.43 168.5 203.45 169.0 203.47 169.5 203.49 170.0 203.51 170.5 203.53 171.0 203.55 171.5 203.57 172.0 203.59 172.5 203.61 173.0 203.62 173.5 203.64 174.0 203.66 174.5 203.68 175.0 203.70 175.5 203.72 176.0 203.74 176.5 203.76 177.0 203.78 177.5 203.79 178.0 203.81 178.5 203.83 179.0 203.85 179.5 203.87 180.0 203.89 180.5 203.91 181.0 203.93 181.5 203.94 182.0 203.96 182.5 203.98 183.0 204.00 183.5 204.02 184.0 204.04 184.5 204.06 185.0 204.07 185.5 204.09 186.0 204.11 186.5 204.13 187.0 204.15 187.5 204.17 188.0 204.18 188.5 204.20 189.0 204.22 189.5 204.24 190.0 204.26 190.5 204.28 191.0 204.29 191.5 204.31 192.0 204.33 192.5 204.35 193.0 204.37 193.5 204.39 194.0 204.40 194.5 204.42 195.0 204.44 195.5 204.46 196.0 204.48 196.5 204.50 197.0 204.51 197.5 204.53 198.0 204.55 198.5 204.57 199.0 204.59 199.5 204.60 200.0 204.62 200.5 204.64 201.0 204.66 201.5 204.67 202.0 204.69 202.5 204.71 203.0 204.73 203.5 204.75 204.0 204.76 204.5 204.78 205.0 204.80 205.5 204.82 206.0 204.83 206.5 204.85 207.0 204.87 207.5 204.89 208.0 204.91 208.5 204.92 209.0 204.94 209.5 204.96 210.0 204.98 210.5 204.99 211.0 205.01 211.5 205.03 212.0 205.05 212.5 205.06 213.0 205.08 213.5 205.10 214.0 205.12 214.5 205.13 215.0 205.15 215.5 205.17 216.0 205.18 216.5 205.20 217.0 205.22 217.5 205.24 218.0 205.25 218.5 205.27 219.0 205.29 219.5 205.30 220.0 205.32 220.5 205.34 221.0 205.36 221.5 205.37 222.0 205.39 222.5 205.41 223.0 205.42 223.5 205.44 224.0 205.46 224.5 205.48 225.0 205.49 225.5 205.51 226.0 205.53 226.5 205.54 227.0 205.56 227.5 205.58 228.0 205.59 228.5 205.61 229.0 205.63 229.5 205.64 230.0 205.66 230.5 205.68 231.0 205.69 231.5 205.71 232.0 205.73 232.5 205.74 233.0 205.76 233.5 205.78 234.0 205.79 234.5 205.81 235.0 205.82 235.5 205.84 236.0 205.86 236.5 205.87 237.0 205.89 237.5 205.91 238.0 205.92 238.5 205.94 239.0 205.96 239.5 205.97 240.0 205.99 240.5 206.00 241.0 206.02 241.5 206.04 242.0 206.05 242.5 206.07 243.0 206.08 243.5 206.10 244.0 206.12 244.5 206.13 245.0 206.15 245.5 206.16 246.0 206.18 246.5 206.20 247.0 206.21 247.5 206.23 248.0 206.24 248.5 206.26 249.0 206.28 249.5 206.29 250.0 206.31 250.5 206.32 251.0 206.34 251.5 206.35 252.0 206.37 252.5 206.38 253.0 206.40 253.5 206.42 254.0 206.43 254.5 206.45 255.0 206.46 255.5 206.48 256.0 206.49 256.5 206.51 257.0 206.52 257.5 206.54 258.0 206.55 258.5 206.57 259.0 206.58 259.5 206.60 260.0 206.62 260.5 206.63 261.0 206.65 261.5 206.66 262.0 206.68 262.5 206.69 263.0 206.71 263.5 206.72 264.0 206.74 264.5 206.75 265.0 206.77 265.5 206.78 266.0 206.80 266.5 206.81 267.0 206.82 267.5 206.84 268.0 206.85 268.5 206.87 269.0 206.88 269.5 206.90 270.0 206.91 270.5 206.93 271.0 206.94 271.5 206.96 272.0 206.97 272.5 206.99 273.0 207.00 273.5 207.01 274.0 207.03 274.5 207.04 275.0 207.06 275.5 207.07 276.0 207.09 276.5 207.10 277.0 207.12 277.5 207.13 278.0 207.14 278.5 207.16 279.0 207.17 279.5 207.19 280.0 207.20 280.5 207.21 281.0 207.23 281.5 207.24 282.0 207.26 282.5 207.27 283.0 207.28 283.5 207.30 284.0 207.31 284.5 207.33 285.0 207.34 285.5 207.35 286.0 207.37 286.5 207.38 287.0 207.39 287.5 207.41 288.0 207.42 288.5 207.44 289.0 207.45 289.5 207.46 290.0 207.48 290.5 207.49 291.0 207.50 291.5 207.52 292.0 207.53 292.5 207.54 293.0 207.56 293.5 207.57 294.0 207.58 294.5 207.60 295.0 207.61 295.5 207.62 296.0 207.64 296.5 207.65 297.0 207.66 297.5 207.68 298.0 207.69 298.5 207.70 299.0 207.72 299.5 207.73 300.0 207.74 300.5 207.75 301.0 207.77 301.5 207.78 302.0 207.79 302.5 207.81 303.0 207.82 303.5 207.83 304.0 207.84 304.5 207.86 305.0 207.87 305.5 207.88 306.0 207.89 306.5 207.91 307.0 207.92 307.5 207.93 308.0 207.94 308.5 207.96 309.0 207.97 309.5 207.98 310.0 207.99 310.5 208.01 311.0 208.02 311.5 208.03 312.0 208.04 312.5 208.05 313.0 208.07 313.5 208.08 314.0 208.09 314.5 208.10 315.0 208.11 315.5 208.13 316.0 208.14 316.5 208.15 317.0 208.16 317.5 208.17 318.0 208.19 318.5 208.20 319.0 208.21 319.5 208.22 320.0 208.23 320.5 208.24 321.0 208.26 321.5 208.27 322.0 208.28 322.5 208.29 323.0 208.30 323.5 208.31 324.0 208.33 324.5 208.34 325.0 208.35 325.5 208.36 326.0 208.37 326.5 208.38 327.0 208.39 327.5 208.40 328.0 208.42 328.5 208.43 329.0 208.44 329.5 208.45 330.0 208.46 330.5 208.47 331.0 208.48 331.5 208.49 332.0 208.50 332.5 208.51 333.0 208.53 333.5 208.54 334.0 208.55 334.5 208.56 335.0 208.57 335.5 208.58 336.0 208.59 336.5 208.60 337.0 208.61 337.5 208.62 338.0 208.63 338.5 208.64 339.0 208.65 339.5 208.66 340.0 208.67 340.5 208.68 341.0 208.69 341.5 208.70 342.0 208.71 342.5 208.73 343.0 208.74 343.5 208.75 344.0 208.76 344.5 208.77 345.0 208.78 345.5 208.79 346.0 208.80 346.5 208.81 347.0 208.82 347.5 208.83 348.0 208.83 348.5 208.84 349.0 208.85 349.5 208.86 350.0 208.87 350.5 208.88 351.0 208.89 351.5 208.90 352.0 208.91 352.5 208.92 353.0 208.93 353.5 208.94 354.0 208.95 354.5 208.96 355.0 208.97 355.5 208.98 356.0 208.99 356.5 209.00 357.0 209.01 357.5 209.01 358.0 209.02 358.5 209.03 359.0 209.04 359.5 209.05 360.0 209.06 360.5 209.07 361.0 209.08 361.5 209.09 362.0 209.10 362.5 209.10 363.0 209.11 363.5 209.12 364.0 209.13 364.5 209.14 365.0 209.15 365.5 209.16 366.0 209.16 366.5 209.17 367.0 209.18 367.5 209.19 368.0 209.20 368.5 209.21 369.0 209.21 369.5 209.22 370.0 209.23 370.5 209.24 371.0 209.25 371.5 209.26 372.0 209.26 372.5 209.27 373.0 209.28 373.5 209.29 374.0 209.30 374.5 209.30 375.0 209.31 375.5 209.32 376.0 209.33 376.5 209.33 377.0 209.34 377.5 209.35 378.0 209.36 378.5 209.37 379.0 209.37 379.5 209.38 380.0 209.39 380.5 209.40 381.0 209.40 381.5 209.41 382.0 209.42 382.5 209.42 383.0 209.43 383.5 209.44 384.0 209.45 384.5 209.45 385.0 209.46 385.5 209.47 386.0 209.47 386.5 209.48 387.0 209.49 387.5 209.50 388.0 209.50 388.5 209.51 389.0 209.52 389.5 209.52 390.0 209.53 390.5 209.54 391.0 209.54 391.5 209.55 392.0 209.56 392.5 209.56 393.0 209.57 393.5 209.57 394.0 209.58 394.5 209.59 395.0 209.59 395.5 209.60 396.0 209.61 396.5 209.61 397.0 209.62 397.5 209.62 398.0 209.63 398.5 209.64 399.0 209.64 399.5 209.65 400.0 209.65 400.5 209.66 401.0 209.67 401.5 209.67 402.0 209.68 402.5 209.68 403.0 209.69 403.5 209.69 404.0 209.70 404.5 209.71 405.0 209.71 405.5 209.72 406.0 209.72 406.5 209.73 407.0 209.73 407.5 209.74 408.0 209.74 408.5 209.75 409.0 209.75 409.5 209.76 410.0 209.76 410.5 209.77 411.0 209.77 411.5 209.78 412.0 209.78 412.5 209.79 413.0 209.79 413.5 209.80 414.0 209.80 414.5 209.81 415.0 209.81 415.5 209.82 416.0 209.82 416.5 209.83 417.0 209.83 417.5 209.84 418.0 209.84 418.5 209.84 419.0 209.85 419.5 209.85 420.0 209.86 420.5 209.86 421.0 209.87 421.5 209.87 422.0 209.87 422.5 209.88 423.0 209.88 423.5 209.89 424.0 209.89 424.5 209.89 425.0 209.90 425.5 209.90 426.0 209.90 426.5 209.91 427.0 209.91 427.5 209.92 428.0 209.92 428.5 209.92 429.0 209.93 429.5 209.93 430.0 209.93 430.5 209.94 431.0 209.94 431.5 209.94 432.0 209.95 432.5 209.95 433.0 209.95 433.5 209.96 434.0 209.96 434.5 209.96 435.0 209.96 435.5 209.97 436.0 209.97 436.5 209.97 437.0 209.98 437.5 209.98 438.0 209.98 438.5 209.98 439.0 209.99 439.5 209.99 440.0 209.99 440.5 209.99 441.0 210.00 441.5 210.00 442.0 210.00 442.5 210.00 443.0 210.01 443.5 210.01 444.0 210.01 444.5 210.01 445.0 210.01 445.5 210.02 446.0 210.02 446.5 210.02 447.0 210.02 447.5 210.02 448.0 210.03 448.5 210.03 449.0 210.03 449.5 210.03 450.0 210.03 450.5 210.03 451.0 210.04 451.5 210.04 452.0 210.04 452.5 210.04 453.0 210.04 453.5 210.04 454.0 210.04 454.5 210.04 455.0 210.05 455.5 210.05 456.0 210.05 456.5 210.05 457.0 210.05 457.5 210.05 458.0 210.05 458.5 210.05 459.0 210.05 459.5 210.05 460.0 210.05 460.5 210.06 461.0 210.06 461.5 210.06 462.0 210.06 462.5 210.06 463.0 210.06 463.5 210.06 464.0 210.06 464.5 210.06 465.0 210.06 465.5 210.06 466.0 210.06 466.5 210.06 467.0 210.06 467.5 210.06 468.0 210.06 468.5 210.06 469.0 210.06 469.5 210.06 470.0 210.06 470.5 210.06 471.0 210.06 471.5 210.06 472.0 210.06 472.5 210.06 473.0 210.06 473.5 210.06 474.0 210.06 474.5 210.05 475.0 210.05 475.5 210.05 476.0 210.05 476.5 210.05 477.0 210.05 477.5 210.05 478.0 210.05 478.5 210.05 479.0 210.05 479.5 210.05 480.0 210.04 480.5 210.04 481.0 210.04 481.5 210.04 482.0 210.04 482.5 210.04 483.0 210.04 483.5 210.03 484.0 210.03 484.5 210.03 485.0 210.03 485.5 210.03 486.0 210.03 486.5 210.02 487.0 210.02 487.5 210.02 488.0 210.02 488.5 210.02 489.0 210.01 489.5 210.01 490.0 210.01 490.5 210.01 491.0 210.01 491.5 210.00 492.0 210.00 492.5 210.00 493.0 210.00 493.5 209.99 494.0 209.99 494.5 209.99 495.0 209.99 495.5 209.98 496.0 209.98 496.5 209.98 497.0 209.97 497.5 209.97 498.0 209.97 498.5 209.97 499.0 209.96 499.5 209.96 500.0 209.96 500.5 209.95 501.0 209.95 501.5 209.95 502.0 209.94 502.5 209.94 503.0 209.94 503.5 209.93 504.0 209.93 504.5 209.93 505.0 209.92 505.5 209.92 506.0 209.91 506.5 209.91 507.0 209.91 507.5 209.90 508.0 209.90" stroke="#1a18cc"/>
<path d="M71.50 116.92 L72.0 117.28 72.5 117.65 73.0 118.01 73.5 118.37 74.0 118.73 74.5 119.08 75.0 119.44 75.5 119.79 76.0 120.14 76.5 120.49 77.0 120.83 77.5 121.18 78.0 121.52 78.5 121.86 79.0 122.20 79.5 122.54 80.0 122.87 80.5 123.21 81.0 123.54 81.5 123.87 82.0 124.19 82.5 124.52 83.0 124.84 83.5 125.17 84.0 125.49 84.5 125.80 85.0 126.12 85.5 126.43 86.0 126.75 86.5 127.06 87.0 127.37 87.5 127.68 88.0 127.98 88.5 128.28 89.0 128.59 89.5 128.89 90.0 129.19 90.5 129.48 91.0 129.78 91.5 130.07 92.0 130.36 92.5 130.65 93.0 130.94 93.5 131.23 94.0 131.51 94.5 131.79 95.0 132.07 95.5 132.35 96.0 132.63 96.5 132.91 97.0 133.18 97.5 133.45 98.0 133.72 98.5 133.99 99.0 134.26 99.5 134.53 100.0 134.79 100.5 135.05 101.0 135.31 101.5 135.57 102.0 135.83 102.5 136.08 103.0 136.34 103.5 136.59 104.0 136.84 104.5 137.09 105.0 137.34 105.5 137.59 106.0 137.83 106.5 138.07 107.0 138.31 107.5 138.55 108.0 138.79 108.5 139.03 109.0 139.26 109.5 139.50 110.0 139.73 110.5 139.96 111.0 140.19 111.5 140.41 112.0 140.64 112.5 140.86 113.0 141.09 113.5 141.31 114.0 141.53 114.5 141.74 115.0 141.96 115.5 142.17 116.0 142.39 116.5 142.60 117.0 142.81 117.5 143.02 118.0 143.23 118.5 143.43 119.0 143.64 119.5 143.84 120.0 144.04 120.5 144.24 121.0 144.44 121.5 144.64 122.0 144.83 122.5 145.03 123.0 145.22 123.5 145.41 124.0 145.60 124.5 145.79 125.0 145.98 125.5 146.16 126.0 146.35 126.5 146.53 127.0 146.71 127.5 146.89 128.0 147.07 128.5 147.25 129.0 147.43 129.5 147.60 130.0 147.77 130.5 147.95 131.0 148.12 131.5 148.29 132.0 148.45 132.5 148.62 133.0 148.79 133.5 148.95 134.0 149.11 134.5 149.28 135.0 149.44 135.5 149.59 136.0 149.75 136.5 149.91 137.0 150.06 137.5 150.22 138.0 150.37 138.5 150.52 139.0 150.67 139.5 150.82 140.0 150.97 140.5 151.11 141.0 151.26 141.5 151.40 142.0 151.55 142.5 151.69 143.0 151.83 143.5 151.97 144.0 152.10 144.5 152.24 145.0 152.38 145.5 152.51 146.0 152.64 146.5 152.77 147.0 152.90 147.5 153.03 148.0 153.16 148.5 153.28 149.0 153.40 149.5 153.53 150.0 153.65 150.5 153.77 151.0 153.88 151.5 154.00 152.0 154.11 152.5 154.22 153.0 154.33 153.5 154.44 154.0 154.55 154.5 154.65 155.0 154.76 155.5 154.86 156.0 154.96 156.5 155.05 157.0 155.15 157.5 155.24 158.0 155.33 158.5 155.42 159.0 155.51 159.5 155.59 160.0 155.67 160.5 155.75 161.0 155.83 161.5 155.91 162.0 155.98 162.5 156.05 163.0 156.12 163.5 156.19 164.0 156.25 164.5 156.31 165.0 156.37 165.5 156.43 166.0 156.48 166.5 156.53 167.0 156.58 167.5 156.63 168.0 156.67 168.5 156.71 169.0 156.75 169.5 156.78 170.0 156.82 170.5 156.85 171.0 156.87 171.5 156.90 172.0 156.92 172.5 156.94 173.0 156.95 173.5 156.97 174.0 156.98 174.5 156.98 175.0 156.99 175.5 156.99 176.0 156.98 176.5 156.98 177.0 156.97 177.5 156.96 178.0 156.94 178.5 156.92 179.0 156.90 179.5 156.88 180.0 156.85 180.5 156.82 181.0 156.78 181.5 156.74 182.0 156.70 182.5 156.66 183.0 156.61 183.5 156.56 184.0 156.50 184.5 156.44 185.0 156.38 185.5 156.31 186.0 156.24 186.5 156.17 187.0 156.09 187.5 156.01 188.0 155.92 188.5 155.83 189.0 155.74 189.5 155.64 190.0 155.54 190.5 155.44 191.0 155.33 191.5 155.22 192.0 155.10 192.5 154.98 193.0 154.85 193.5 154.73 194.0 154.59 194.5 154.46 195.0 154.32 195.5 154.17 196.0 154.02 196.5 153.87 197.0 153.71 197.5 153.55 198.0 153.38 198.5 153.22 199.0 153.04 199.5 152.87 200.0 152.69 200.5 152.50 201.0 152.32 201.5 152.12 202.0 151.93 202.5 151.73 203.0 151.53 203.5 151.32 204.0 151.11 204.5 150.90 205.0 150.68 205.5 150.46 206.0 150.24 206.5 150.01 207.0 149.78 207.5 149.55 208.0 149.31 208.5 149.07 209.0 148.83 209.5 148.58 210.0 148.33 210.5 148.08 211.0 147.82 211.5 147.56 212.0 147.30 212.5 147.04 213.0 146.77 213.5 146.50 214.0 146.22 214.5 145.94 215.0 145.66 215.5 145.38 216.0 145.09 216.5 144.81 217.0 144.51 217.5 144.22 218.0 143.92 218.5 143.62 219.0 143.32 219.5 143.01 220.0 142.71 220.5 142.39 221.0 142.08 221.5 141.77 222.0 141.45 222.5 141.13 223.0 140.80 223.5 140.48 224.0 140.15 224.5 139.82 225.0 139.49 225.5 139.15 226.0 138.81 226.5 138.47 227.0 138.13 227.5 137.79 228.0 137.44 228.5 137.09 229.0 136.74 229.5 136.39 230.0 136.03 230.5 135.67 231.0 135.32 231.5 134.95 232.0 134.59 232.5 134.23 233.0 133.86 233.5 133.49 234.0 133.12 234.5 132.75 235.0 132.37 235.5 132.00 236.0 131.62 236.5 131.24 237.0 130.86 237.5 130.48 238.0 130.09 238.5 129.71 239.0 129.32 239.5 128.93 240.0 128.54 240.5 128.15 241.0 127.75 241.5 127.36 242.0 126.96 242.5 126.56 243.0 126.17 243.5 125.77 244.0 125.36 244.5 124.96 245.0 124.56 245.5 124.15 246.0 123.75 246.5 123.34 247.0 122.93 247.5 122.52 248.0 122.11 248.5 121.70 249.0 121.28 249.5 120.87 250.0 120.46 250.5 120.04 251.0 119.62 251.5 119.21 252.0 118.79 252.5 118.37 253.0 117.95 253.5 117.53 254.0 117.11 254.5 116.69 255.0 116.26 255.5 115.84 256.0 115.42 256.5 114.99 257.0 114.57 257.5 114.14 258.0 113.72 258.5 113.29 259.0 112.86 259.5 112.44 260.0 112.01 260.5 111.58 261.0 111.15 261.5 110.72 262.0 110.30 262.5 109.87 263.0 109.44 263.5 109.01 264.0 108.58 264.5 108.15 265.0 107.72 265.5 107.29 266.0 106.86 266.5 106.43 267.0 106.00 267.5 105.57 268.0 105.14 268.5 104.71 269.0 104.28 269.5 103.85 270.0 103.42 270.5 102.99 271.0 102.56 271.5 102.13 272.0 101.70 272.5 101.27 273.0 100.84 273.5 100.41 274.0 99.98 274.5 99.54 275.0 99.11 275.5 98.68 276.0 98.24 276.5 97.81 277.0 97.38 277.5 96.94 278.0 96.50 278.5 96.07 279.0 95.63 279.5 95.19 280.0 94.75 280.5 94.32 281.0 93.88 281.5 93.44 282.0 92.99 282.5 92.55 283.0 92.11 283.5 91.67 284.0 91.22 284.5 90.78 285.0 90.33 285.5 89.88 286.0 89.43 286.5 88.98 287.0 88.53 287.5 88.08 288.0 87.63 288.5 87.18 289.0 86.72 289.5 86.26 290.0 85.81 290.5 85.35 291.0 84.89 291.5 84.43 292.0 83.97 292.5 83.50 293.0 83.04 293.5 82.58 294.0 82.11 294.5 81.65 295.0 81.18 295.5 80.71 296.0 80.24 296.5 79.78 297.0 79.31 297.5 78.84 298.0 78.37 298.5 77.90 299.0 77.43 299.5 76.96 300.0 76.49 300.5 76.02 301.0 75.55 301.5 75.08 302.0 74.61 302.5 74.14 303.0 73.67 303.5 73.20 304.0 72.73 304.5 72.27 305.0 71.80 305.5 71.33 306.0 70.86 306.5 70.40 307.0 69.93 307.5 69.47 308.0 69.00 308.5 68.54 309.0 68.08 309.5 67.62 310.0 67.16 310.5 66.70 311.0 66.24 311.5 65.79 312.0 65.33 312.5 64.88 313.0 64.42 313.5 63.97 314.0 63.52 314.5 63.07 315.0 62.63 315.5 62.18 316.0 61.74 316.5 61.30 317.0 60.86 317.5 60.42 318.0 59.98 318.5 59.54 319.0 59.11 319.5 58.68 320.0 58.25 320.5 57.82 321.0 57.39 321.5 56.97 322.0 56.54 322.5 56.12 323.0 55.70 323.5 55.28 324.0 54.87 324.5 54.45 325.0 54.04 325.5 53.63 326.0 53.22 326.5 52.82 327.0 52.41 327.5 52.01 328.0 51.61 328.5 51.21 329.0 50.81 329.5 50.42 330.0 50.03 330.5 49.64 331.0 49.25 331.5 48.86 332.0 48.48 332.5 48.10 333.0 47.72 333.5 47.35 334.0 46.97 334.5 46.60 335.0 46.23 335.5 45.86 336.0 45.50 336.5 45.14 337.0 44.78 337.5 44.42 338.0 44.07 338.5 43.71 339.0 43.36 339.5 43.02 340.0 42.67 340.5 42.33 341.0 41.99 341.5 41.65 342.0 41.32 342.5 40.99 343.0 40.66 343.5 40.34 344.0 40.01 344.5 39.69 345.0 39.37 345.5 39.06 346.0 38.75 346.5 38.44 347.0 38.13 347.5 37.83 348.0 37.53 348.5 37.23 349.0 36.94 349.5 36.65 350.0 36.36 350.5 36.07 351.0 35.79 351.5 35.51 352.0 35.24 352.5 34.96 353.0 34.69 353.5 34.43 354.0 34.16 354.5 33.90 355.0 33.65 355.5 33.39 356.0 33.14 356.5 32.90 357.0 32.65 357.5 32.41 358.0 32.18 358.5 31.94 359.0 31.71 359.5 31.49 360.0 31.26 360.5 31.04 361.0 30.83 361.5 30.61 362.0 30.40 362.5 30.20 363.0 30.00 363.5 29.80 364.0 29.60 364.5 29.41 365.0 29.22 365.5 29.04 366.0 28.86 366.5 28.68 367.0 28.51 367.5 28.34 368.0 28.18 368.5 28.02 369.0 27.86 369.5 27.71 370.0 27.56 370.5 27.41 371.0 27.27 371.5 27.13 372.0 27.00 372.5 26.87 373.0 26.74 373.5 26.62 374.0 26.51 374.5 26.39 375.0 26.28 375.5 26.18 376.0 26.08 376.5 25.98 377.0 25.89 377.5 25.80 378.0 25.71 378.5 25.63 379.0 25.56 379.5 25.49 380.0 25.42 380.5 25.36 381.0 25.30 381.5 25.25 382.0 25.20 382.5 25.15 383.0 25.11 383.5 25.08 384.0 25.05 384.5 25.02 385.0 25.00 385.5 24.98 386.0 24.97 386.5 24.96 387.0 24.95 387.5 24.95 388.0 24.96 388.5 24.97 389.0 24.98 389.5 25.00 390.0 25.03 390.5 25.06 391.0 25.09 391.5 25.13 392.0 25.17 392.5 25.22 393.0 25.28 393.5 25.34 394.0 25.40 394.5 25.47 395.0 25.54 395.5 25.62 396.0 25.70 396.5 25.79 397.0 25.88 397.5 25.98 398.0 26.09 398.5 26.20 399.0 26.31 399.5 26.43 400.0 26.55 400.5 26.68 401.0 26.82 401.5 26.96 402.0 27.11 402.5 27.26 403.0 27.41 403.5 27.57 404.0 27.74 404.5 27.91 405.0 28.09 405.5 28.28 406.0 28.46 406.5 28.66 407.0 28.86 407.5 29.06 408.0 29.28 408.5 29.49 409.0 29.71 409.5 29.94 410.0 30.18 410.5 30.41 411.0 30.66 411.5 30.91 412.0 31.17 412.5 31.43 413.0 31.70 413.5 31.97 414.0 32.25 414.5 32.54 415.0 32.83 415.5 33.12 416.0 33.43 416.5 33.74 417.0 34.05 417.5 34.37 418.0 34.70 418.5 35.03 419.0 35.37 419.5 35.71 420.0 36.06 420.5 36.41 421.0 36.77 421.5 37.13 422.0 37.50 422.5 37.88 423.0 38.26 423.5 38.64 424.0 39.03 424.5 39.43 425.0 39.83 425.5 40.23 426.0 40.64 426.5 41.06 427.0 41.47 427.5 41.90 428.0 42.33 428.5 42.76 429.0 43.20 429.5 43.64 430.0 44.08 430.5 44.53 431.0 44.99 431.5 45.45 432.0 45.91 432.5 46.37 433.0 46.85 433.5 47.32 434.0 47.80 434.5 48.28 435.0 48.77 435.5 49.26 436.0 49.75 436.5 50.25 437.0 50.75 437.5 51.25 438.0 51.76 438.5 52.27 439.0 52.79 439.5 53.30 440.0 53.83 440.5 54.35 441.0 54.88 441.5 55.41 442.0 55.94 442.5 56.48 443.0 57.02 443.5 57.56 444.0 58.10 444.5 58.65 445.0 59.20 445.5 59.76 446.0 60.31 446.5 60.87 447.0 61.43 447.5 61.99 448.0 62.56 448.5 63.13 449.0 63.70 449.5 64.27 450.0 64.84 450.5 65.42 451.0 65.99 451.5 66.57 452.0 67.15 452.5 67.74 453.0 68.32 453.5 68.91 454.0 69.49 454.5 70.08 455.0 70.67 455.5 71.26 456.0 71.85 456.5 72.44 457.0 73.04 457.5 73.63 458.0 74.23 458.5 74.82 459.0 75.42 459.5 76.02 460.0 76.61 460.5 77.21 461.0 77.81 461.5 78.41 462.0 79.01 462.5 79.61 463.0 80.21 463.5 80.80 464.0 81.40 464.5 82.00 465.0 82.60 465.5 83.20 466.0 83.80 466.5 84.39 467.0 84.99 467.5 85.59 468.0 86.18 468.5 86.77 469.0 87.37 469.5 87.96 470.0 88.56 470.5 89.15 471.0 89.74 471.5 90.33 472.0 90.92 472.5 91.52 473.0 92.11 473.5 92.70 474.0 93.29 474.5 93.89 475.0 94.48 475.5 95.07 476.0 95.67 476.5 96.26 477.0 96.86 477.5 97.46 478.0 98.05 478.5 98.65 479.0 99.25 479.5 99.85 480.0 100.46 480.5 101.06 481.0 101.67 481.5 102.27 482.0 102.88 482.5 103.49 483.0 104.11 483.5 104.72 484.0 105.34 484.5 105.95 485.0 106.57 485.5 107.20 486.0 107.82 486.5 108.45 487.0 109.08 487.5 109.71 488.0 110.35 488.5 110.99 489.0 111.63 489.5 112.27 490.0 112.92 490.5 113.57 491.0 114.22 491.5 114.88 492.0 115.54 492.5 116.20 493.0 116.87 493.5 117.54 494.0 118.21 494.5 118.89 495.0 119.58 495.5 120.26 496.0 120.95 496.5 121.65 497.0 122.35 497.5 123.05 498.0 123.76 498.5 124.47 499.0 125.18 499.5 125.91 500.0 126.63 500.5 127.36 501.0 128.10 501.5 128.84 502.0 129.59 502.5 130.34 503.0 131.09 503.5 131.86 504.0 132.62 504.5 133.40 505.0 134.18 505.5 134.96 506.0 135.75 506.5 136.55 507.0 137.35 507.5 138.16 508.0 138.97" stroke="#b2b232" stroke-dasharray="4.9 2.15"/>
<path d="M71.50 138.98 L72.0 139.17 72.5 139.36 73.0 139.56 73.5 139.76 74.0 139.97 74.5 140.18 75.0 140.40 75.5 140.63 76.0 140.86 76.5 141.10 77.0 141.34 77.5 141.59 78.0 141.84 78.5 142.10 79.0 142.36 79.5 142.62 80.0 142.90 80.5 143.17 81.0 143.45 81.5 143.74 82.0 144.02 82.5 144.32 83.0 144.61 83.5 144.91 84.0 145.22 84.5 145.53 85.0 145.84 85.5 146.15 86.0 146.47 86.5 146.79 87.0 147.11 87.5 147.44 88.0 147.77 88.5 148.10 89.0 148.44 89.5 148.77 90.0 149.11 90.5 149.45 91.0 149.80 91.5 150.14 92.0 150.49 92.5 150.84 93.0 151.19 93.5 151.54 94.0 151.90 94.5 152.25 95.0 152.61 95.5 152.97 96.0 153.32 96.5 153.68 97.0 154.04 97.5 154.40 98.0 154.77 98.5 155.13 99.0 155.49 99.5 155.85 100.0 156.21 100.5 156.58 101.0 156.94 101.5 157.30 102.0 157.66 102.5 158.02 103.0 158.38 103.5 158.74 104.0 159.10 104.5 159.46 105.0 159.81 105.5 160.17 106.0 160.52 106.5 160.87 107.0 161.22 107.5 161.57 108.0 161.92 108.5 162.27 109.0 162.61 109.5 162.95 110.0 163.29 110.5 163.63 111.0 163.96 111.5 164.30 112.0 164.63 112.5 164.95 113.0 165.28 113.5 165.60 114.0 165.91 114.5 166.23 115.0 166.54 115.5 166.85 116.0 167.15 116.5 167.45 117.0 167.75 117.5 168.05 118.0 168.34 118.5 168.63 119.0 168.91 119.5 169.19 120.0 169.48 120.5 169.75 121.0 170.03 121.5 170.30 122.0 170.57 122.5 170.84 123.0 171.11 123.5 171.37 124.0 171.63 124.5 171.89 125.0 172.15 125.5 172.41 126.0 172.66 126.5 172.91 127.0 173.17 127.5 173.42 128.0 173.67 128.5 173.91 129.0 174.16 129.5 174.41 130.0 174.65 130.5 174.89 131.0 175.14 131.5 175.38 132.0 175.62 132.5 175.86 133.0 176.10 133.5 176.34 134.0 176.58 134.5 176.82 135.0 177.06 135.5 177.30 136.0 177.54 136.5 177.78 137.0 178.02 137.5 178.26 138.0 178.50 138.5 178.74 139.0 178.98 139.5 179.22 140.0 179.46 140.5 179.70 141.0 179.94 141.5 180.18 142.0 180.43 142.5 180.67 143.0 180.91 143.5 181.15 144.0 181.39 144.5 181.63 145.0 181.88 145.5 182.12 146.0 182.36 146.5 182.60 147.0 182.84 147.5 183.09 148.0 183.33 148.5 183.57 149.0 183.81 149.5 184.06 150.0 184.30 150.5 184.54 151.0 184.78 151.5 185.02 152.0 185.27 152.5 185.51 153.0 185.75 153.5 185.99 154.0 186.23 154.5 186.48 155.0 186.72 155.5 186.96 156.0 187.20 156.5 187.44 157.0 187.68 157.5 187.92 158.0 188.16 158.5 188.40 159.0 188.64 159.5 188.88 160.0 189.12 160.5 189.36 161.0 189.60 161.5 189.84 162.0 190.08 162.5 190.32 163.0 190.56 163.5 190.80 164.0 191.04 164.5 191.27 165.0 191.51 165.5 191.75 166.0 191.99 166.5 192.22 167.0 192.46 167.5 192.70 168.0 192.93 168.5 193.17 169.0 193.40 169.5 193.64 170.0 193.87 170.5 194.11 171.0 194.34 171.5 194.57 172.0 194.80 172.5 195.04 173.0 195.27 173.5 195.50 174.0 195.73 174.5 195.96 175.0 196.19 175.5 196.42 176.0 196.65 176.5 196.88 177.0 197.11 177.5 197.34 178.0 197.56 178.5 197.79 179.0 198.02 179.5 198.24 180.0 198.47 180.5 198.69 181.0 198.92 181.5 199.14 182.0 199.36 182.5 199.58 183.0 199.81 183.5 200.03 184.0 200.25 184.5 200.47 185.0 200.69 185.5 200.91 186.0 201.12 186.5 201.34 187.0 201.56 187.5 201.77 188.0 201.99 188.5 202.20 189.0 202.42 189.5 202.63 190.0 202.84 190.5 203.06 191.0 203.27 191.5 203.48 192.0 203.69 192.5 203.90 193.0 204.11 193.5 204.31 194.0 204.52 194.5 204.73 195.0 204.93 195.5 205.14 196.0 205.34 196.5 205.55 197.0 205.75 197.5 205.95 198.0 206.15 198.5 206.35 199.0 206.55 199.5 206.75 200.0 206.95 200.5 207.15 201.0 207.34 201.5 207.54 202.0 207.73 202.5 207.93 203.0 208.12 203.5 208.32 204.0 208.51 204.5 208.70 205.0 208.89 205.5 209.08 206.0 209.27 206.5 209.46 207.0 209.64 207.5 209.83 208.0 210.02 208.5 210.20 209.0 210.39 209.5 210.57 210.0 210.75 210.5 210.93 211.0 211.11 211.5 211.29 212.0 211.47 212.5 211.65 213.0 211.83 213.5 212.00 214.0 212.18 214.5 212.35 215.0 212.53 215.5 212.70 216.0 212.87 216.5 213.04 217.0 213.21 217.5 213.38 218.0 213.55 218.5 213.72 219.0 213.89 219.5 214.05 220.0 214.22 220.5 214.38 221.0 214.54 221.5 214.70 222.0 214.87 222.5 215.03 223.0 215.19 223.5 215.34 224.0 215.50 224.5 215.66 225.0 215.81 225.5 215.97 226.0 216.12 226.5 216.27 227.0 216.42 227.5 216.57 228.0 216.72 228.5 216.87 229.0 217.02 229.5 217.17 230.0 217.31 230.5 217.46 231.0 217.60 231.5 217.74 232.0 217.89 232.5 218.03 233.0 218.17 233.5 218.30 234.0 218.44 234.5 218.58 235.0 218.71 235.5 218.85 236.0 218.98 236.5 219.11 237.0 219.24 237.5 219.37 238.0 219.50 238.5 219.63 239.0 219.76 239.5 219.88 240.0 220.01 240.5 220.13 241.0 220.26 241.5 220.38 242.0 220.50 242.5 220.62 243.0 220.74 243.5 220.85 244.0 220.97 244.5 221.08 245.0 221.20 245.5 221.31 246.0 221.42 246.5 221.53 247.0 221.64 247.5 221.75 248.0 221.86 248.5 221.96 249.0 222.07 249.5 222.17 250.0 222.27 250.5 222.37 251.0 222.47 251.5 222.57 252.0 222.67 252.5 222.77 253.0 222.86 253.5 222.96 254.0 223.05 254.5 223.14 255.0 223.23 255.5 223.32 256.0 223.41 256.5 223.50 257.0 223.58 257.5 223.67 258.0 223.75 258.5 223.83 259.0 223.91 259.5 223.99 260.0 224.07 260.5 224.15 261.0 224.23 261.5 224.30 262.0 224.37 262.5 224.45 263.0 224.52 263.5 224.59 264.0 224.65 264.5 224.72 265.0 224.79 265.5 224.85 266.0 224.92 266.5 224.98 267.0 225.04 267.5 225.10 268.0 225.16 268.5 225.21 269.0 225.27 269.5 225.32 270.0 225.37 270.5 225.43 271.0 225.48 271.5 225.53 272.0 225.57 272.5 225.62 273.0 225.66 273.5 225.71 274.0 225.75 274.5 225.79 275.0 225.83 275.5 225.87 276.0 225.90 276.5 225.94 277.0 225.97 277.5 226.01 278.0 226.04 278.5 226.07 279.0 226.10 279.5 226.12 280.0 226.15 280.5 226.17 281.0 226.19 281.5 226.22 282.0 226.24 282.5 226.25 283.0 226.27 283.5 226.29 284.0 226.30 284.5 226.31 285.0 226.33 285.5 226.34 286.0 226.34 286.5 226.35 287.0 226.36 287.5 226.36 288.0 226.36 288.5 226.36 289.0 226.36 289.5 226.36 290.0 226.36 290.5 226.35 291.0 226.35 291.5 226.34 292.0 226.33 292.5 226.32 293.0 226.31 293.5 226.30 294.0 226.28 294.5 226.26 295.0 226.24 295.5 226.23 296.0 226.20 296.5 226.18 297.0 226.16 297.5 226.13 298.0 226.10 298.5 226.07 299.0 226.04 299.5 226.01 300.0 225.98 300.5 225.94 301.0 225.91 301.5 225.87 302.0 225.83 302.5 225.79 303.0 225.74 303.5 225.70 304.0 225.65 304.5 225.60 305.0 225.55 305.5 225.50 306.0 225.45 306.5 225.40 307.0 225.34 307.5 225.28 308.0 225.22 308.5 225.16 309.0 225.10 309.5 225.04 310.0 224.97 310.5 224.90 311.0 224.83 311.5 224.76 312.0 224.69 312.5 224.62 313.0 224.54 313.5 224.46 314.0 224.38 314.5 224.30 315.0 224.22 315.5 224.13 316.0 224.04 316.5 223.95 317.0 223.86 317.5 223.77 318.0 223.67 318.5 223.58 319.0 223.48 319.5 223.38 320.0 223.27 320.5 223.17 321.0 223.06 321.5 222.95 322.0 222.84 322.5 222.72 323.0 222.60 323.5 222.49 324.0 222.36 324.5 222.24 325.0 222.11 325.5 221.99 326.0 221.86 326.5 221.72 327.0 221.59 327.5 221.45 328.0 221.31 328.5 221.17 329.0 221.02 329.5 220.87 330.0 220.72 330.5 220.57 331.0 220.41 331.5 220.25 332.0 220.09 332.5 219.93 333.0 219.76 333.5 219.59 334.0 219.42 334.5 219.25 335.0 219.07 335.5 218.89 336.0 218.71 336.5 218.52 337.0 218.33 337.5 218.14 338.0 217.95 338.5 217.75 339.0 217.55 339.5 217.35 340.0 217.14 340.5 216.93 341.0 216.72 341.5 216.51 342.0 216.29 342.5 216.07 343.0 215.84 343.5 215.61 344.0 215.38 344.5 215.15 345.0 214.91 345.5 214.67 346.0 214.43 346.5 214.18 347.0 213.93 347.5 213.68 348.0 213.42 348.5 213.16 349.0 212.89 349.5 212.63 350.0 212.36 350.5 212.08 351.0 211.81 351.5 211.53 352.0 211.24 352.5 210.95 353.0 210.66 353.5 210.37 354.0 210.07 354.5 209.77 355.0 209.47 355.5 209.16 356.0 208.85 356.5 208.54 357.0 208.23 357.5 207.91 358.0 207.58 358.5 207.26 359.0 206.93 359.5 206.60 360.0 206.26 360.5 205.93 361.0 205.59 361.5 205.24 362.0 204.90 362.5 204.55 363.0 204.19 363.5 203.84 364.0 203.48 364.5 203.12 365.0 202.76 365.5 202.39 366.0 202.02 366.5 201.65 367.0 201.27 367.5 200.89 368.0 200.51 368.5 200.13 369.0 199.74 369.5 199.35 370.0 198.96 370.5 198.56 371.0 198.16 371.5 197.76 372.0 197.36 372.5 196.95 373.0 196.55 373.5 196.13 374.0 195.72 374.5 195.30 375.0 194.88 375.5 194.46 376.0 194.04 376.5 193.61 377.0 193.18 377.5 192.75 378.0 192.31 378.5 191.87 379.0 191.43 379.5 190.98 380.0 190.54 380.5 190.09 381.0 189.63 381.5 189.18 382.0 188.72 382.5 188.26 383.0 187.79 383.5 187.33 384.0 186.86 384.5 186.38 385.0 185.91 385.5 185.43 386.0 184.95 386.5 184.46 387.0 183.97 387.5 183.48 388.0 182.99 388.5 182.49 389.0 181.99 389.5 181.49 390.0 180.99 390.5 180.48 391.0 179.97 391.5 179.45 392.0 178.93 392.5 178.41 393.0 177.89 393.5 177.36 394.0 176.83 394.5 176.30 395.0 175.76 395.5 175.22 396.0 174.68 396.5 174.14 397.0 173.59 397.5 173.04 398.0 172.48 398.5 171.93 399.0 171.36 399.5 170.80 400.0 170.23 400.5 169.66 401.0 169.09 401.5 168.51 402.0 167.93 402.5 167.35 403.0 166.76 403.5 166.17 404.0 165.58 404.5 164.99 405.0 164.39 405.5 163.78 406.0 163.18 406.5 162.57 407.0 161.96 407.5 161.34 408.0 160.72 408.5 160.10 409.0 159.47 409.5 158.85 410.0 158.21 410.5 157.58 411.0 156.94 411.5 156.30 412.0 155.65 412.5 155.00 413.0 154.35 413.5 153.70 414.0 153.04 414.5 152.38 415.0 151.72 415.5 151.06 416.0 150.39 416.5 149.72 417.0 149.05 417.5 148.38 418.0 147.70 418.5 147.02 419.0 146.34 419.5 145.66 420.0 144.98 420.5 144.30 421.0 143.61 421.5 142.92 422.0 142.23 422.5 141.54 423.0 140.85 423.5 140.16 424.0 139.46 424.5 138.77 425.0 138.07 425.5 137.37 426.0 136.68 426.5 135.98 427.0 135.28 427.5 134.58 428.0 133.88 428.5 133.18 429.0 132.48 429.5 131.78 430.0 131.08 430.5 130.38 431.0 129.68 431.5 128.98 432.0 128.28 432.5 127.58 433.0 126.88 433.5 126.18 434.0 125.48 434.5 124.78 435.0 124.09 435.5 123.39 436.0 122.70 436.5 122.00 437.0 121.31 437.5 120.62 438.0 119.93 438.5 119.24 439.0 118.55 439.5 117.87 440.0 117.18 440.5 116.50 441.0 115.82 441.5 115.14 442.0 114.46 442.5 113.79 443.0 113.11 443.5 112.44 444.0 111.77 444.5 111.11 445.0 110.44 445.5 109.78 446.0 109.12 446.5 108.46 447.0 107.81 447.5 107.16 448.0 106.51 448.5 105.87 449.0 105.23 449.5 104.59 450.0 103.95 450.5 103.32 451.0 102.69 451.5 102.06 452.0 101.44 452.5 100.82 453.0 100.21 453.5 99.60 454.0 98.99 454.5 98.39 455.0 97.79 455.5 97.19 456.0 96.60 456.5 96.01 457.0 95.43 457.5 94.85 458.0 94.27 458.5 93.70 459.0 93.14 459.5 92.57 460.0 92.02 460.5 91.46 461.0 90.91 461.5 90.37 462.0 89.83 462.5 89.29 463.0 88.76 463.5 88.23 464.0 87.71 464.5 87.19 465.0 86.68 465.5 86.17 466.0 85.66 466.5 85.16 467.0 84.67 467.5 84.18 468.0 83.69 468.5 83.21 469.0 82.74 469.5 82.27 470.0 81.80 470.5 81.34 471.0 80.89 471.5 80.44 472.0 79.99 472.5 79.55 473.0 79.12 473.5 78.69 474.0 78.27 474.5 77.85 475.0 77.44 475.5 77.03 476.0 76.63 476.5 76.24 477.0 75.85 477.5 75.47 478.0 75.09 478.5 74.72 479.0 74.35 479.5 73.99 480.0 73.64 480.5 73.29 481.0 72.95 481.5 72.62 482.0 72.29 482.5 71.97 483.0 71.66 483.5 71.35 484.0 71.05 484.5 70.75 485.0 70.46 485.5 70.18 486.0 69.91 486.5 69.64 487.0 69.38 487.5 69.12 488.0 68.88 488.5 68.64 489.0 68.40 489.5 68.18 490.0 67.96 490.5 67.75 491.0 67.54 491.5 67.35 492.0 67.16 492.5 66.98 493.0 66.80 493.5 66.64 494.0 66.48 494.5 66.33 495.0 66.19 495.5 66.05 496.0 65.92 496.5 65.81 497.0 65.69 497.5 65.59 498.0 65.50 498.5 65.41 499.0 65.33 499.5 65.26 500.0 65.20 500.5 65.15 501.0 65.10 501.5 65.06 502.0 65.04 502.5 65.02 503.0 65.01 503.5 65.01 504.0 65.01 504.5 65.03 505.0 65.05 505.5 65.09 506.0 65.13 506.5 65.18 507.0 65.24 507.5 65.31 508.0 65.39" stroke="#9c189c" stroke-dasharray="4.9 2.15"/>
<path d="M71.50 202.23 L72.0 202.42 72.5 202.62 73.0 202.82 73.5 203.01 74.0 203.21 74.5 203.40 75.0 203.59 75.5 203.79 76.0 203.98 76.5 204.17 77.0 204.36 77.5 204.54 78.0 204.73 78.5 204.92 79.0 205.11 79.5 205.29 80.0 205.48 80.5 205.66 81.0 205.84 81.5 206.02 82.0 206.20 82.5 206.38 83.0 206.56 83.5 206.74 84.0 206.92 84.5 207.10 85.0 207.27 85.5 207.45 86.0 207.62 86.5 207.80 87.0 207.97 87.5 208.14 88.0 208.31 88.5 208.48 89.0 208.65 89.5 208.82 90.0 208.99 90.5 209.16 91.0 209.32 91.5 209.49 92.0 209.65 92.5 209.82 93.0 209.98 93.5 210.14 94.0 210.30 94.5 210.46 95.0 210.62 95.5 210.78 96.0 210.94 96.5 211.10 97.0 211.26 97.5 211.41 98.0 211.57 98.5 211.72 99.0 211.87 99.5 212.03 100.0 212.18 100.5 212.33 101.0 212.48 101.5 212.63 102.0 212.78 102.5 212.93 103.0 213.07 103.5 213.22 104.0 213.37 104.5 213.51 105.0 213.66 105.5 213.80 106.0 213.94 106.5 214.08 107.0 214.23 107.5 214.37 108.0 214.50 108.5 214.64 109.0 214.78 109.5 214.92 110.0 215.06 110.5 215.19 111.0 215.33 111.5 215.46 112.0 215.59 112.5 215.73 113.0 215.86 113.5 215.99 114.0 216.12 114.5 216.25 115.0 216.38 115.5 216.51 116.0 216.64 116.5 216.76 117.0 216.89 117.5 217.01 118.0 217.14 118.5 217.26 119.0 217.39 119.5 217.51 120.0 217.63 120.5 217.75 121.0 217.87 121.5 217.99 122.0 218.11 122.5 218.23 123.0 218.34 123.5 218.46 124.0 218.58 124.5 218.69 125.0 218.81 125.5 218.92 126.0 219.03 126.5 219.14 127.0 219.26 127.5 219.37 128.0 219.48 128.5 219.59 129.0 219.69 129.5 219.80 130.0 219.91 130.5 220.02 131.0 220.12 131.5 220.23 132.0 220.33 132.5 220.43 133.0 220.54 133.5 220.64 134.0 220.74 134.5 220.84 135.0 220.94 135.5 221.04 136.0 221.14 136.5 221.24 137.0 221.34 137.5 221.43 138.0 221.53 138.5 221.62 139.0 221.72 139.5 221.81 140.0 221.91 140.5 222.00 141.0 222.09 141.5 222.18 142.0 222.27 142.5 222.36 143.0 222.45 143.5 222.54 144.0 222.63 144.5 222.72 145.0 222.80 145.5 222.89 146.0 222.97 146.5 223.06 147.0 223.14 147.5 223.22 148.0 223.31 148.5 223.39 149.0 223.47 149.5 223.55 150.0 223.63 150.5 223.71 151.0 223.79 151.5 223.87 152.0 223.94 152.5 224.02 153.0 224.10 153.5 224.17 154.0 224.25 154.5 224.32 155.0 224.39 155.5 224.47 156.0 224.54 156.5 224.61 157.0 224.68 157.5 224.75 158.0 224.82 158.5 224.89 159.0 224.96 159.5 225.03 160.0 225.09 160.5 225.16 161.0 225.23 161.5 225.29 162.0 225.35 162.5 225.42 163.0 225.48 163.5 225.54 164.0 225.61 164.5 225.67 165.0 225.73 165.5 225.79 166.0 225.85 166.5 225.91 167.0 225.97 167.5 226.02 168.0 226.08 168.5 226.14 169.0 226.19 169.5 226.25 170.0 226.30 170.5 226.36 171.0 226.41 171.5 226.46 172.0 226.52 172.5 226.57 173.0 226.62 173.5 226.67 174.0 226.72 174.5 226.77 175.0 226.82 175.5 226.86 176.0 226.91 176.5 226.96 177.0 227.00 177.5 227.05 178.0 227.10 178.5 227.14 179.0 227.18 179.5 227.23 180.0 227.27 180.5 227.31 181.0 227.35 181.5 227.39 182.0 227.44 182.5 227.48 183.0 227.51 183.5 227.55 184.0 227.59 184.5 227.63 185.0 227.67 185.5 227.70 186.0 227.74 186.5 227.77 187.0 227.81 187.5 227.84 188.0 227.88 188.5 227.91 189.0 227.94 189.5 227.97 190.0 228.01 190.5 228.04 191.0 228.07 191.5 228.10 192.0 228.13 192.5 228.15 193.0 228.18 193.5 228.21 194.0 228.24 194.5 228.26 195.0 228.29 195.5 228.31 196.0 228.34 196.5 228.36 197.0 228.39 197.5 228.41 198.0 228.43 198.5 228.46 199.0 228.48 199.5 228.50 200.0 228.52 200.5 228.54 201.0 228.56 201.5 228.58 202.0 228.60 202.5 228.61 203.0 228.63 203.5 228.65 204.0 228.66 204.5 228.68 205.0 228.70 205.5 228.71 206.0 228.72 206.5 228.74 207.0 228.75 207.5 228.76 208.0 228.78 208.5 228.79 209.0 228.80 209.5 228.81 210.0 228.82 210.5 228.83 211.0 228.84 211.5 228.85 212.0 228.86 212.5 228.86 213.0 228.87 213.5 228.88 214.0 228.88 214.5 228.89 215.0 228.90 215.5 228.90 216.0 228.90 216.5 228.91 217.0 228.91 217.5 228.91 218.0 228.92 218.5 228.92 219.0 228.92 219.5 228.92 220.0 228.92 220.5 228.92 221.0 228.92 221.5 228.92 222.0 228.92 222.5 228.92 223.0 228.91 223.5 228.91 224.0 228.91 224.5 228.90 225.0 228.90 225.5 228.89 226.0 228.89 226.5 228.88 227.0 228.88 227.5 228.87 228.0 228.86 228.5 228.86 229.0 228.85 229.5 228.84 230.0 228.83 230.5 228.82 231.0 228.81 231.5 228.80 232.0 228.79 232.5 228.78 233.0 228.77 233.5 228.76 234.0 228.74 234.5 228.73 235.0 228.72 235.5 228.70 236.0 228.69 236.5 228.67 237.0 228.66 237.5 228.64 238.0 228.63 238.5 228.61 239.0 228.59 239.5 228.58 240.0 228.56 240.5 228.54 241.0 228.52 241.5 228.50 242.0 228.48 242.5 228.46 243.0 228.44 243.5 228.42 244.0 228.40 244.5 228.38 245.0 228.36 245.5 228.34 246.0 228.31 246.5 228.29 247.0 228.27 247.5 228.24 248.0 228.22 248.5 228.19 249.0 228.17 249.5 228.14 250.0 228.12 250.5 228.09 251.0 228.06 251.5 228.04 252.0 228.01 252.5 227.98 253.0 227.95 253.5 227.92 254.0 227.89 254.5 227.86 255.0 227.83 255.5 227.80 256.0 227.77 256.5 227.74 257.0 227.71 257.5 227.68 258.0 227.65 258.5 227.61 259.0 227.58 259.5 227.55 260.0 227.51 260.5 227.48 261.0 227.45 261.5 227.41 262.0 227.37 262.5 227.34 263.0 227.30 263.5 227.27 264.0 227.23 264.5 227.19 265.0 227.16 265.5 227.12 266.0 227.08 266.5 227.04 267.0 227.00 267.5 226.96 268.0 226.92 268.5 226.88 269.0 226.84 269.5 226.80 270.0 226.76 270.5 226.72 271.0 226.68 271.5 226.63 272.0 226.59 272.5 226.55 273.0 226.51 273.5 226.46 274.0 226.42 274.5 226.37 275.0 226.33 275.5 226.29 276.0 226.24 276.5 226.19 277.0 226.15 277.5 226.10 278.0 226.06 278.5 226.01 279.0 225.96 279.5 225.91 280.0 225.87 280.5 225.82 281.0 225.77 281.5 225.72 282.0 225.67 282.5 225.62 283.0 225.57 283.5 225.52 284.0 225.47 284.5 225.42 285.0 225.37 285.5 225.32 286.0 225.27 286.5 225.22 287.0 225.16 287.5 225.11 288.0 225.06 288.5 225.00 289.0 224.95 289.5 224.90 290.0 224.84 290.5 224.79 291.0 224.74 291.5 224.68 292.0 224.63 292.5 224.57 293.0 224.52 293.5 224.46 294.0 224.40 294.5 224.35 295.0 224.29 295.5 224.24 296.0 224.18 296.5 224.12 297.0 224.06 297.5 224.01 298.0 223.95 298.5 223.89 299.0 223.83 299.5 223.78 300.0 223.72 300.5 223.66 301.0 223.60 301.5 223.54 302.0 223.48 302.5 223.42 303.0 223.36 303.5 223.30 304.0 223.25 304.5 223.19 305.0 223.13 305.5 223.07 306.0 223.01 306.5 222.94 307.0 222.88 307.5 222.82 308.0 222.76 308.5 222.70 309.0 222.64 309.5 222.58 310.0 222.52 310.5 222.46 311.0 222.40 311.5 222.33 312.0 222.27 312.5 222.21 313.0 222.15 313.5 222.09 314.0 222.02 314.5 221.96 315.0 221.90 315.5 221.84 316.0 221.78 316.5 221.71 317.0 221.65 317.5 221.59 318.0 221.53 318.5 221.46 319.0 221.40 319.5 221.34 320.0 221.27 320.5 221.21 321.0 221.15 321.5 221.09 322.0 221.02 322.5 220.96 323.0 220.90 323.5 220.83 324.0 220.77 324.5 220.71 325.0 220.65 325.5 220.58 326.0 220.52 326.5 220.46 327.0 220.39 327.5 220.33 328.0 220.27 328.5 220.21 329.0 220.14 329.5 220.08 330.0 220.02 330.5 219.95 331.0 219.89 331.5 219.83 332.0 219.77 332.5 219.70 333.0 219.64 333.5 219.58 334.0 219.52 334.5 219.45 335.0 219.39 335.5 219.33 336.0 219.27 336.5 219.21 337.0 219.14 337.5 219.08 338.0 219.02 338.5 218.96 339.0 218.90 339.5 218.84 340.0 218.78 340.5 218.71 341.0 218.65 341.5 218.59 342.0 218.53 342.5 218.47 343.0 218.41 343.5 218.35 344.0 218.29 344.5 218.23 345.0 218.17 345.5 218.11 346.0 218.05 346.5 217.99 347.0 217.93 347.5 217.87 348.0 217.81 348.5 217.75 349.0 217.70 349.5 217.64 350.0 217.58 350.5 217.52 351.0 217.46 351.5 217.41 352.0 217.35 352.5 217.29 353.0 217.23 353.5 217.18 354.0 217.12 354.5 217.06 355.0 217.01 355.5 216.95 356.0 216.90 356.5 216.84 357.0 216.79 357.5 216.73 358.0 216.68 358.5 216.62 359.0 216.57 359.5 216.51 360.0 216.46 360.5 216.41 361.0 216.35 361.5 216.30 362.0 216.25 362.5 216.20 363.0 216.14 363.5 216.09 364.0 216.04 364.5 215.99 365.0 215.94 365.5 215.89 366.0 215.84 366.5 215.79 367.0 215.74 367.5 215.69 368.0 215.64 368.5 215.59 369.0 215.54 369.5 215.49 370.0 215.44 370.5 215.39 371.0 215.34 371.5 215.30 372.0 215.25 372.5 215.20 373.0 215.15 373.5 215.11 374.0 215.06 374.5 215.02 375.0 214.97 375.5 214.92 376.0 214.88 376.5 214.83 377.0 214.79 377.5 214.74 378.0 214.70 378.5 214.65 379.0 214.61 379.5 214.56 380.0 214.52 380.5 214.48 381.0 214.43 381.5 214.39 382.0 214.35 382.5 214.30 383.0 214.26 383.5 214.22 384.0 214.18 384.5 214.14 385.0 214.09 385.5 214.05 386.0 214.01 386.5 213.97 387.0 213.93 387.5 213.89 388.0 213.85 388.5 213.81 389.0 213.77 389.5 213.73 390.0 213.69 390.5 213.65 391.0 213.61 391.5 213.57 392.0 213.54 392.5 213.50 393.0 213.46 393.5 213.42 394.0 213.38 394.5 213.35 395.0 213.31 395.5 213.27 396.0 213.23 396.5 213.20 397.0 213.16 397.5 213.12 398.0 213.09 398.5 213.05 399.0 213.02 399.5 212.98 400.0 212.95 400.5 212.91 401.0 212.88 401.5 212.84 402.0 212.81 402.5 212.77 403.0 212.74 403.5 212.70 404.0 212.67 404.5 212.64 405.0 212.60 405.5 212.57 406.0 212.54 406.5 212.50 407.0 212.47 407.5 212.44 408.0 212.40 408.5 212.37 409.0 212.34 409.5 212.31 410.0 212.28 410.5 212.24 411.0 212.21 411.5 212.18 412.0 212.15 412.5 212.12 413.0 212.09 413.5 212.06 414.0 212.03 414.5 212.00 415.0 211.97 415.5 211.94 416.0 211.91 416.5 211.88 417.0 211.85 417.5 211.82 418.0 211.79 418.5 211.76 419.0 211.73 419.5 211.70 420.0 211.68 420.5 211.65 421.0 211.62 421.5 211.59 422.0 211.56 422.5 211.54 423.0 211.51 423.5 211.48 424.0 211.45 424.5 211.43 425.0 211.40 425.5 211.37 426.0 211.35 426.5 211.32 427.0 211.29 427.5 211.27 428.0 211.24 428.5 211.21 429.0 211.19 429.5 211.16 430.0 211.14 430.5 211.11 431.0 211.09 431.5 211.06 432.0 211.04 432.5 211.01 433.0 210.99 433.5 210.96 434.0 210.94 434.5 210.91 435.0 210.89 435.5 210.86 436.0 210.84 436.5 210.82 437.0 210.79 437.5 210.77 438.0 210.75 438.5 210.72 439.0 210.70 439.5 210.68 440.0 210.65 440.5 210.63 441.0 210.61 441.5 210.58 442.0 210.56 442.5 210.54 443.0 210.52 443.5 210.49 444.0 210.47 444.5 210.45 445.0 210.43 445.5 210.41 446.0 210.38 446.5 210.36 447.0 210.34 447.5 210.32 448.0 210.30 448.5 210.28 449.0 210.26 449.5 210.24 450.0 210.21 450.5 210.19 451.0 210.17 451.5 210.15 452.0 210.13 452.5 210.11 453.0 210.09 453.5 210.07 454.0 210.05 454.5 210.03 455.0 210.01 455.5 209.99 456.0 209.97 456.5 209.95 457.0 209.93 457.5 209.91 458.0 209.89 458.5 209.87 459.0 209.85 459.5 209.83 460.0 209.82 460.5 209.80 461.0 209.78 461.5 209.76 462.0 209.74 462.5 209.72 463.0 209.70 463.5 209.68 464.0 209.67 464.5 209.65 465.0 209.63 465.5 209.61 466.0 209.59 466.5 209.57 467.0 209.56 467.5 209.54 468.0 209.52 468.5 209.50 469.0 209.48 469.5 209.47 470.0 209.45 470.5 209.43 471.0 209.41 471.5 209.40 472.0 209.38 472.5 209.36 473.0 209.34 473.5 209.33 474.0 209.31 474.5 209.29 475.0 209.27 475.5 209.26 476.0 209.24 476.5 209.22 477.0 209.21 477.5 209.19 478.0 209.17 478.5 209.16 479.0 209.14 479.5 209.12 480.0 209.11 480.5 209.09 481.0 209.07 481.5 209.06 482.0 209.04 482.5 209.02 483.0 209.01 483.5 208.99 484.0 208.97 484.5 208.96 485.0 208.94 485.5 208.92 486.0 208.91 486.5 208.89 487.0 208.88 487.5 208.86 488.0 208.84 488.5 208.83 489.0 208.81 489.5 208.80 490.0 208.78 490.5 208.76 491.0 208.75 491.5 208.73 492.0 208.72 492.5 208.70 493.0 208.68 493.5 208.67 494.0 208.65 494.5 208.64 495.0 208.62 495.5 208.60 496.0 208.59 496.5 208.57 497.0 208.56 497.5 208.54 498.0 208.53 498.5 208.51 499.0 208.49 499.5 208.48 500.0 208.46 500.5 208.45 501.0 208.43 501.5 208.42 502.0 208.40 502.5 208.38 503.0 208.37 503.5 208.35 504.0 208.34 504.5 208.32 505.0 208.31 505.5 208.29 506.0 208.27 506.5 208.26 507.0 208.24 507.5 208.23 508.0 208.21 508.1 208.21" stroke="#22a4ac" stroke-dasharray="4.9 2.15"/>
</g>
<rect x="83.10" y="241.50" width="416.20" height="87.00" rx="3" ry="3" fill="#fff" fill-opacity="0.8" stroke="#cccccc" stroke-width="1"/>
<path d="M90.3 256.90 H129" stroke="#0c5c16" stroke-width="1.50"/>
<path d="M309.9 256.90 H348" stroke="#b2b232" stroke-width="1.50" stroke-dasharray="4.9 2.15"/>
<text x="143.10" y="260.50" class="lt">FIM<tspan font-style="italic" font-size="13.5" dy="3.5">A</tspan><tspan dy="-3.5">, U=0.7eV</tspan></text>
<text x="362.70" y="260.50" class="lt">FIM<tspan font-style="italic" font-size="13.5" dy="3.5">A</tspan><tspan dy="-3.5">, U=2.2eV</tspan></text>
<path d="M90.3 283.80 H129" stroke="#e01616" stroke-width="1.50"/>
<path d="M309.9 283.80 H348" stroke="#9c189c" stroke-width="1.50" stroke-dasharray="4.9 2.15"/>
<text x="143.10" y="287.80" class="lt">FIM<tspan font-style="italic" font-size="13.5" dy="3.5">B</tspan><tspan dy="-3.5">, U=0.7eV</tspan></text>
<text x="362.70" y="287.80" class="lt">FIM<tspan font-style="italic" font-size="13.5" dy="3.5">B</tspan><tspan dy="-3.5">, U=2.2eV</tspan></text>
<path d="M90.3 311.20 H129" stroke="#1a18cc" stroke-width="1.50"/>
<path d="M309.9 311.20 H348" stroke="#22a4ac" stroke-width="1.50" stroke-dasharray="4.9 2.15"/>
<text x="143.10" y="318.30" class="lt">ncFIM, U=0.7eV</text>
<text x="362.70" y="318.30" class="lt">ncFIM, U=2.2eV</text>
<rect x="71.50" y="21.00" width="436.90" height="317.30" fill="none" stroke="#222" stroke-width="1.1"/>
<path d="M71.50 338.30 v3.4 M133.55 338.30 v3.4 M196.20 338.30 v3.4 M258.10 338.30 v3.4 M320.50 338.30 v3.4 M382.60 338.30 v3.4 M445.20 338.30 v3.4 M507.70 338.30 v3.4 M71.50 39.50 h-3.4 M71.50 112.45 h-3.4 M71.50 185.35 h-3.4 M71.50 258.30 h-3.4 M71.50 331.20 h-3.4" stroke="#222" stroke-width="1.1" fill="none"/>
<text transform="translate(71.20 360.90) scale(1 1.075)" text-anchor="middle" class="t">0.5</text>
<text transform="translate(133.25 360.90) scale(1 1.075)" text-anchor="middle" class="t">1.0</text>
<text transform="translate(195.90 360.90) scale(1 1.075)" text-anchor="middle" class="t">1.5</text>
<text transform="translate(257.80 360.90) scale(1 1.075)" text-anchor="middle" class="t">2.0</text>
<text transform="translate(320.20 360.90) scale(1 1.075)" text-anchor="middle" class="t">2.5</text>
<text transform="translate(382.30 360.90) scale(1 1.075)" text-anchor="middle" class="t">3.0</text>
<text transform="translate(444.90 360.90) scale(1 1.075)" text-anchor="middle" class="t">3.5</text>
<text transform="translate(507.40 360.90) scale(1 1.075)" text-anchor="middle" class="t">4.0</text>
<text transform="translate(64.00 47.00) scale(1 1.075)" text-anchor="end" class="t">0.4</text>
<text transform="translate(64.00 119.95) scale(1 1.075)" text-anchor="end" class="t">0.2</text>
<text transform="translate(64.00 192.85) scale(1 1.075)" text-anchor="end" class="t">0.0</text>
<text transform="translate(64.00 267.80) scale(1 1.075)" text-anchor="end" class="t">0.2</text>
<rect x="24.3" y="261.85" width="13" height="1.15" fill="#1a1a1a"/>
<text transform="translate(64.00 340.70) scale(1 1.075)" text-anchor="end" class="t">0.4</text>
<rect x="24.3" y="334.75" width="13" height="1.15" fill="#1a1a1a"/>
<text x="263.4" y="384.50" class="t" style="font-size:20px;font-style:italic">ω</text>
<path d="M288.1 369.50 H285.75 V389.30 H288.1 M311.2 369.50 H313.35 V389.30 H311.2" stroke="#1a1a1a" stroke-width="1.05" fill="none"/>
<text x="288.0" y="384.50" class="t" style="font-size:20px" textLength="22.4" lengthAdjust="spacingAndGlyphs">eV</text>
<g transform="translate(15.7 0) rotate(-90)"><text x="-221.80" y="0" class="t" style="font-size:20.5px;font-style:italic">θ</text><text x="-204.52" y="0" class="t" style="font-size:20px;font-style:italic">ω</text><text x="-171.90" y="-0.8" class="t" style="font-size:19.5px" textLength="27.6" lengthAdjust="spacingAndGlyphs">deg</text></g>
<path d="M0.4 205.40 Q10.5 213.40 20.7 205.40 M0.4 189.20 Q10.5 181.20 20.7 189.20 M0.6 171.70 V173.90 H20.2 V171.70 M0.6 144.30 V142.10 H20.2 V144.30" stroke="#1a1a1a" stroke-width="1.05" fill="none"/>
<text x="70.30" y="15.60" class="t" style="font-size:21px">(a)</text>
<clipPath id="clip399"><rect x="71.50" y="420.60" width="436.90" height="317.30"/></clipPath>
<path d="M133.55 420.60 V737.90 M196.20 420.60 V737.90 M258.10 420.60 V737.90 M320.50 420.60 V737.90 M382.60 420.60 V737.90 M445.20 420.60 V737.90 M71.50 439.10 H508.40 M71.50 512.05 H508.40 M71.50 584.95 H508.40 M71.50 657.90 H508.40 M71.50 730.80 H508.40" stroke="#a8a8a8" stroke-width="1" fill="none"/>
<g clip-path="url(#clip399)" fill="none" stroke-width="1.50" stroke-linejoin="round">
<path d="M71.50 528.11 L72.0 528.07 72.5 528.05 73.0 528.05 73.5 528.05 74.0 528.07 74.5 528.10 75.0 528.14 75.5 528.19 76.0 528.25 76.5 528.33 77.0 528.41 77.5 528.51 78.0 528.62 78.5 528.74 79.0 528.87 79.5 529.01 80.0 529.16 80.5 529.32 81.0 529.49 81.5 529.67 82.0 529.87 82.5 530.07 83.0 530.28 83.5 530.50 84.0 530.74 84.5 530.98 85.0 531.23 85.5 531.49 86.0 531.76 86.5 532.04 87.0 532.33 87.5 532.63 88.0 532.93 88.5 533.25 89.0 533.57 89.5 533.91 90.0 534.25 90.5 534.60 91.0 534.95 91.5 535.32 92.0 535.69 92.5 536.07 93.0 536.46 93.5 536.86 94.0 537.26 94.5 537.68 95.0 538.09 95.5 538.52 96.0 538.95 96.5 539.40 97.0 539.84 97.5 540.30 98.0 540.76 98.5 541.23 99.0 541.70 99.5 542.18 100.0 542.67 100.5 543.16 101.0 543.66 101.5 544.16 102.0 544.67 102.5 545.19 103.0 545.71 103.5 546.24 104.0 546.77 104.5 547.31 105.0 547.85 105.5 548.40 106.0 548.95 106.5 549.51 107.0 550.07 107.5 550.64 108.0 551.21 108.5 551.79 109.0 552.37 109.5 552.95 110.0 553.54 110.5 554.14 111.0 554.73 111.5 555.33 112.0 555.94 112.5 556.54 113.0 557.15 113.5 557.77 114.0 558.39 114.5 559.01 115.0 559.63 115.5 560.26 116.0 560.88 116.5 561.52 117.0 562.15 117.5 562.79 118.0 563.43 118.5 564.07 119.0 564.71 119.5 565.36 120.0 566.00 120.5 566.65 121.0 567.31 121.5 567.96 122.0 568.61 122.5 569.27 123.0 569.93 123.5 570.59 124.0 571.25 124.5 571.91 125.0 572.58 125.5 573.24 126.0 573.91 126.5 574.57 127.0 575.24 127.5 575.91 128.0 576.58 128.5 577.25 129.0 577.92 129.5 578.59 130.0 579.27 130.5 579.94 131.0 580.61 131.5 581.28 132.0 581.96 132.5 582.63 133.0 583.30 133.5 583.97 134.0 584.65 134.5 585.32 135.0 585.99 135.5 586.66 136.0 587.33 136.5 588.00 137.0 588.67 137.5 589.34 138.0 590.01 138.5 590.67 139.0 591.34 139.5 592.00 140.0 592.67 140.5 593.33 141.0 593.99 141.5 594.65 142.0 595.31 142.5 595.96 143.0 596.62 143.5 597.27 144.0 597.92 144.5 598.57 145.0 599.22 145.5 599.86 146.0 600.51 146.5 601.15 147.0 601.78 147.5 602.42 148.0 603.05 148.5 603.68 149.0 604.31 149.5 604.94 150.0 605.56 150.5 606.18 151.0 606.79 151.5 607.41 152.0 608.02 152.5 608.63 153.0 609.23 153.5 609.83 154.0 610.43 154.5 611.02 155.0 611.61 155.5 612.19 156.0 612.78 156.5 613.35 157.0 613.93 157.5 614.50 158.0 615.07 158.5 615.63 159.0 616.18 159.5 616.74 160.0 617.29 160.5 617.83 161.0 618.37 161.5 618.90 162.0 619.43 162.5 619.96 163.0 620.48 163.5 621.00 164.0 621.51 164.5 622.01 165.0 622.51 165.5 623.00 166.0 623.49 166.5 623.98 167.0 624.45 167.5 624.93 168.0 625.39 168.5 625.85 169.0 626.31 169.5 626.76 170.0 627.20 170.5 627.63 171.0 628.06 171.5 628.49 172.0 628.91 172.5 629.32 173.0 629.72 173.5 630.12 174.0 630.51 174.5 630.89 175.0 631.27 175.5 631.64 176.0 632.00 176.5 632.35 177.0 632.70 177.5 633.04 178.0 633.37 178.5 633.69 179.0 634.00 179.5 634.31 180.0 634.60 180.5 634.89 181.0 635.17 181.5 635.44 182.0 635.70 182.5 635.95 183.0 636.19 183.5 636.42 184.0 636.65 184.5 636.86 185.0 637.06 185.5 637.25 186.0 637.44 186.5 637.61 187.0 637.77 187.5 637.92 188.0 638.06 188.5 638.19 189.0 638.30 189.5 638.41 190.0 638.51 190.5 638.59 191.0 638.66 191.5 638.72 192.0 638.77 192.5 638.80 193.0 638.83 193.5 638.84 194.0 638.84 194.5 638.82 195.0 638.79 195.5 638.75 196.0 638.70 196.5 638.64 197.0 638.56 197.5 638.46 198.0 638.36 198.5 638.23 199.0 638.10 199.5 637.95 200.0 637.79 200.5 637.61 201.0 637.42 201.5 637.21 202.0 636.99 202.5 636.76 203.0 636.51 203.5 636.24 204.0 635.96 204.5 635.66 205.0 635.35 205.5 635.02 206.0 634.68 206.5 634.32 207.0 633.94 207.5 633.56 208.0 633.15 208.5 632.74 209.0 632.30 209.5 631.86 210.0 631.40 210.5 630.93 211.0 630.44 211.5 629.94 212.0 629.43 212.5 628.91 213.0 628.37 213.5 627.82 214.0 627.26 214.5 626.68 215.0 626.10 215.5 625.50 216.0 624.89 216.5 624.27 217.0 623.64 217.5 622.99 218.0 622.34 218.5 621.68 219.0 621.00 219.5 620.32 220.0 619.62 220.5 618.92 221.0 618.21 221.5 617.48 222.0 616.75 222.5 616.01 223.0 615.26 223.5 614.50 224.0 613.74 224.5 612.96 225.0 612.18 225.5 611.39 226.0 610.59 226.5 609.78 227.0 608.97 227.5 608.14 228.0 607.32 228.5 606.48 229.0 605.64 229.5 604.79 230.0 603.94 230.5 603.07 231.0 602.21 231.5 601.33 232.0 600.45 232.5 599.57 233.0 598.68 233.5 597.78 234.0 596.88 234.5 595.98 235.0 595.07 235.5 594.15 236.0 593.24 236.5 592.31 237.0 591.39 237.5 590.45 238.0 589.52 238.5 588.58 239.0 587.64 239.5 586.69 240.0 585.75 240.5 584.80 241.0 583.84 241.5 582.89 242.0 581.93 242.5 580.97 243.0 580.00 243.5 579.04 244.0 578.07 244.5 577.11 245.0 576.14 245.5 575.17 246.0 574.19 246.5 573.22 247.0 572.25 247.5 571.28 248.0 570.30 248.5 569.33 249.0 568.35 249.5 567.38 250.0 566.41 250.5 565.43 251.0 564.46 251.5 563.49 252.0 562.52 252.5 561.55 253.0 560.58 253.5 559.61 254.0 558.64 254.5 557.67 255.0 556.71 255.5 555.74 256.0 554.78 256.5 553.82 257.0 552.86 257.5 551.90 258.0 550.94 258.5 549.98 259.0 549.02 259.5 548.07 260.0 547.11 260.5 546.16 261.0 545.21 261.5 544.26 262.0 543.32 262.5 542.37 263.0 541.43 263.5 540.49 264.0 539.55 264.5 538.61 265.0 537.68 265.5 536.74 266.0 535.81 266.5 534.88 267.0 533.96 267.5 533.03 268.0 532.11 268.5 531.19 269.0 530.28 269.5 529.36 270.0 528.45 270.5 527.54 271.0 526.64 271.5 525.73 272.0 524.83 272.5 523.94 273.0 523.04 273.5 522.15 274.0 521.27 274.5 520.39 275.0 519.51 275.5 518.64 276.0 517.77 276.5 516.90 277.0 516.04 277.5 515.19 278.0 514.34 278.5 513.49 279.0 512.65 279.5 511.82 280.0 510.99 280.5 510.16 281.0 509.34 281.5 508.53 282.0 507.73 282.5 506.93 283.0 506.13 283.5 505.34 284.0 504.56 284.5 503.79 285.0 503.02 285.5 502.26 286.0 501.50 286.5 500.76 287.0 500.02 287.5 499.29 288.0 498.56 288.5 497.85 289.0 497.14 289.5 496.44 290.0 495.75 290.5 495.06 291.0 494.39 291.5 493.72 292.0 493.06 292.5 492.41 293.0 491.77 293.5 491.14 294.0 490.52 294.5 489.91 295.0 489.30 295.5 488.71 296.0 488.13 296.5 487.55 297.0 486.99 297.5 486.44 298.0 485.89 298.5 485.36 299.0 484.84 299.5 484.33 300.0 483.83 300.5 483.34 301.0 482.87 301.5 482.40 302.0 481.94 302.5 481.50 303.0 481.07 303.5 480.65 304.0 480.25 304.5 479.85 305.0 479.47 305.5 479.10 306.0 478.74 306.5 478.40 307.0 478.06 307.5 477.75 308.0 477.44 308.5 477.15 309.0 476.87 309.5 476.60 310.0 476.35 310.5 476.11 311.0 475.88 311.5 475.66 312.0 475.46 312.5 475.27 313.0 475.09 313.5 474.93 314.0 474.77 314.5 474.63 315.0 474.50 315.5 474.39 316.0 474.28 316.5 474.19 317.0 474.11 317.5 474.04 318.0 473.98 318.5 473.93 319.0 473.89 319.5 473.87 320.0 473.85 320.5 473.85 321.0 473.86 321.5 473.88 322.0 473.91 322.5 473.95 323.0 474.00 323.5 474.06 324.0 474.13 324.5 474.22 325.0 474.31 325.5 474.41 326.0 474.53 326.5 474.65 327.0 474.78 327.5 474.93 328.0 475.08 328.5 475.24 329.0 475.41 329.5 475.60 330.0 475.79 330.5 475.99 331.0 476.20 331.5 476.42 332.0 476.64 332.5 476.88 333.0 477.13 333.5 477.38 334.0 477.64 334.5 477.91 335.0 478.19 335.5 478.48 336.0 478.78 336.5 479.08 337.0 479.39 337.5 479.71 338.0 480.03 338.5 480.37 339.0 480.71 339.5 481.05 340.0 481.40 340.5 481.76 341.0 482.13 341.5 482.50 342.0 482.88 342.5 483.26 343.0 483.65 343.5 484.04 344.0 484.44 344.5 484.85 345.0 485.26 345.5 485.67 346.0 486.09 346.5 486.51 347.0 486.94 347.5 487.37 348.0 487.80 348.5 488.24 349.0 488.68 349.5 489.13 350.0 489.58 350.5 490.03 351.0 490.49 351.5 490.94 352.0 491.40 352.5 491.87 353.0 492.33 353.5 492.80 354.0 493.26 354.5 493.73 355.0 494.21 355.5 494.68 356.0 495.15 356.5 495.63 357.0 496.10 357.5 496.58 358.0 497.06 358.5 497.54 359.0 498.01 359.5 498.49 360.0 498.97 360.5 499.45 361.0 499.92 361.5 500.40 362.0 500.88 362.5 501.35 363.0 501.82 363.5 502.30 364.0 502.77 364.5 503.24 365.0 503.70 365.5 504.17 366.0 504.63 366.5 505.09 367.0 505.55 367.5 506.00 368.0 506.46 368.5 506.91 369.0 507.35 369.5 507.80 370.0 508.23 370.5 508.67 371.0 509.10 371.5 509.53 372.0 509.95 372.5 510.37 373.0 510.79 373.5 511.20 374.0 511.61 374.5 512.01 375.0 512.40 375.5 512.79 376.0 513.18 376.5 513.56 377.0 513.93 377.5 514.30 378.0 514.66 378.5 515.02 379.0 515.36 379.5 515.71 380.0 516.04 380.5 516.37 381.0 516.69 381.5 517.01 382.0 517.31 382.5 517.61 383.0 517.91 383.5 518.19 384.0 518.47 384.5 518.73 385.0 518.99 385.5 519.24 386.0 519.49 386.5 519.72 387.0 519.94 387.5 520.16 388.0 520.36 388.5 520.56 389.0 520.75 389.5 520.92 390.0 521.09 390.5 521.25 391.0 521.39 391.5 521.53 392.0 521.65 392.5 521.77 393.0 521.87 393.5 521.97 394.0 522.05 394.5 522.12 395.0 522.17 395.5 522.22 396.0 522.25 396.5 522.28 397.0 522.29 397.5 522.28 398.0 522.27 398.5 522.24 399.0 522.20 399.5 522.15 400.0 522.09 400.5 522.01 401.0 521.92 401.5 521.83 402.0 521.72 402.5 521.60 403.0 521.46 403.5 521.32 404.0 521.17 404.5 521.01 405.0 520.83 405.5 520.65 406.0 520.46 406.5 520.25 407.0 520.04 407.5 519.82 408.0 519.59 408.5 519.35 409.0 519.11 409.5 518.85 410.0 518.59 410.5 518.32 411.0 518.04 411.5 517.75 412.0 517.46 412.5 517.15 413.0 516.85 413.5 516.53 414.0 516.21 414.5 515.88 415.0 515.54 415.5 515.20 416.0 514.86 416.5 514.50 417.0 514.14 417.5 513.78 418.0 513.41 418.5 513.04 419.0 512.66 419.5 512.27 420.0 511.89 420.5 511.50 421.0 511.10 421.5 510.70 422.0 510.30 422.5 509.89 423.0 509.48 423.5 509.06 424.0 508.65 424.5 508.23 425.0 507.81 425.5 507.38 426.0 506.96 426.5 506.53 427.0 506.10 427.5 505.67 428.0 505.23 428.5 504.80 429.0 504.36 429.5 503.93 430.0 503.49 430.5 503.05 431.0 502.62 431.5 502.18 432.0 501.74 432.5 501.30 433.0 500.87 433.5 500.43 434.0 500.00 434.5 499.56 435.0 499.13 435.5 498.70 436.0 498.28 436.5 497.85 437.0 497.44 437.5 497.02 438.0 496.61 438.5 496.20 439.0 495.80 439.5 495.40 440.0 495.01 440.5 494.63 441.0 494.25 441.5 493.88 442.0 493.52 442.5 493.16 443.0 492.81 443.5 492.47 444.0 492.14 444.5 491.82 445.0 491.50 445.5 491.20 446.0 490.90 446.5 490.62 447.0 490.35 447.5 490.09 448.0 489.84 448.5 489.60 449.0 489.38 449.5 489.16 450.0 488.96 450.5 488.78 451.0 488.61 451.5 488.45 452.0 488.30 452.5 488.18 453.0 488.06 453.5 487.96 454.0 487.88 454.5 487.82 455.0 487.77 455.5 487.74 456.0 487.72 456.5 487.73 457.0 487.75 457.5 487.78 458.0 487.84 458.5 487.91 459.0 488.00 459.5 488.11 460.0 488.23 460.5 488.37 461.0 488.53 461.5 488.71 462.0 488.90 462.5 489.11 463.0 489.34 463.5 489.59 464.0 489.85 464.5 490.13 465.0 490.43 465.5 490.74 466.0 491.07 466.5 491.42 467.0 491.78 467.5 492.16 468.0 492.56 468.5 492.97 469.0 493.40 469.5 493.85 470.0 494.31 470.5 494.79 471.0 495.28 471.5 495.78 472.0 496.31 472.5 496.84 473.0 497.39 473.5 497.96 474.0 498.54 474.5 499.13 475.0 499.74 475.5 500.36 476.0 501.00 476.5 501.65 477.0 502.31 477.5 502.98 478.0 503.67 478.5 504.37 479.0 505.08 479.5 505.81 480.0 506.55 480.5 507.30 481.0 508.06 481.5 508.83 482.0 509.62 482.5 510.41 483.0 511.22 483.5 512.04 484.0 512.87 484.5 513.71 485.0 514.56 485.5 515.42 486.0 516.29 486.5 517.17 487.0 518.06 487.5 518.97 488.0 519.88 488.5 520.80 489.0 521.72 489.5 522.66 490.0 523.61 490.5 524.56 491.0 525.53 491.5 526.50 492.0 527.48 492.5 528.47 493.0 529.47 493.5 530.48 494.0 531.50 494.5 532.52 495.0 533.55 495.5 534.59 496.0 535.64 496.5 536.70 497.0 537.77 497.5 538.84 498.0 539.92 498.5 541.01 499.0 542.11 499.5 543.22 500.0 544.33 500.5 545.46 501.0 546.59 501.5 547.73 502.0 548.87 502.5 550.03 503.0 551.19 503.5 552.36 504.0 553.54 504.5 554.72 505.0 555.92 505.5 557.12 506.0 558.32 506.5 559.54 507.0 560.76 507.5 561.99 508.0 563.23 508.5 564.48" stroke="#0c5c16"/>
<path d="M71.50 536.50 L72.0 536.23 72.5 535.96 73.0 535.69 73.5 535.43 74.0 535.17 74.5 534.91 75.0 534.65 75.5 534.39 76.0 534.14 76.5 533.89 77.0 533.64 77.5 533.39 78.0 533.14 78.5 532.90 79.0 532.66 79.5 532.41 80.0 532.18 80.5 531.94 81.0 531.70 81.5 531.47 82.0 531.24 82.5 531.01 83.0 530.79 83.5 530.56 84.0 530.34 84.5 530.12 85.0 529.90 85.5 529.68 86.0 529.47 86.5 529.26 87.0 529.05 87.5 528.84 88.0 528.63 88.5 528.43 89.0 528.23 89.5 528.03 90.0 527.83 90.5 527.63 91.0 527.44 91.5 527.25 92.0 527.06 92.5 526.87 93.0 526.69 93.5 526.51 94.0 526.33 94.5 526.15 95.0 525.97 95.5 525.80 96.0 525.63 96.5 525.46 97.0 525.29 97.5 525.13 98.0 524.97 98.5 524.81 99.0 524.65 99.5 524.49 100.0 524.34 100.5 524.19 101.0 524.04 101.5 523.90 102.0 523.75 102.5 523.61 103.0 523.47 103.5 523.34 104.0 523.20 104.5 523.07 105.0 522.94 105.5 522.82 106.0 522.69 106.5 522.57 107.0 522.45 107.5 522.33 108.0 522.22 108.5 522.11 109.0 522.00 109.5 521.89 110.0 521.79 110.5 521.68 111.0 521.58 111.5 521.49 112.0 521.39 112.5 521.30 113.0 521.21 113.5 521.12 114.0 521.04 114.5 520.96 115.0 520.88 115.5 520.80 116.0 520.73 116.5 520.66 117.0 520.59 117.5 520.52 118.0 520.46 118.5 520.40 119.0 520.34 119.5 520.28 120.0 520.23 120.5 520.18 121.0 520.13 121.5 520.09 122.0 520.05 122.5 520.01 123.0 519.97 123.5 519.94 124.0 519.90 124.5 519.88 125.0 519.85 125.5 519.83 126.0 519.81 126.5 519.79 127.0 519.77 127.5 519.76 128.0 519.75 128.5 519.75 129.0 519.74 129.5 519.74 130.0 519.75 130.5 519.75 131.0 519.76 131.5 519.77 132.0 519.78 132.5 519.80 133.0 519.82 133.5 519.84 134.0 519.87 134.5 519.90 135.0 519.93 135.5 519.96 136.0 520.00 136.5 520.04 137.0 520.08 137.5 520.13 138.0 520.17 138.5 520.23 139.0 520.28 139.5 520.34 140.0 520.40 140.5 520.46 141.0 520.53 141.5 520.60 142.0 520.67 142.5 520.75 143.0 520.83 143.5 520.91 144.0 521.00 144.5 521.08 145.0 521.18 145.5 521.27 146.0 521.37 146.5 521.47 147.0 521.57 147.5 521.68 148.0 521.79 148.5 521.90 149.0 522.02 149.5 522.14 150.0 522.26 150.5 522.39 151.0 522.52 151.5 522.65 152.0 522.79 152.5 522.93 153.0 523.07 153.5 523.21 154.0 523.36 154.5 523.52 155.0 523.67 155.5 523.83 156.0 523.99 156.5 524.16 157.0 524.32 157.5 524.50 158.0 524.67 158.5 524.85 159.0 525.03 159.5 525.22 160.0 525.41 160.5 525.60 161.0 525.79 161.5 525.99 162.0 526.19 162.5 526.40 163.0 526.61 163.5 526.82 164.0 527.04 164.5 527.26 165.0 527.48 165.5 527.70 166.0 527.93 166.5 528.17 167.0 528.40 167.5 528.64 168.0 528.89 168.5 529.13 169.0 529.39 169.5 529.64 170.0 529.90 170.5 530.16 171.0 530.42 171.5 530.69 172.0 530.96 172.5 531.24 173.0 531.52 173.5 531.80 174.0 532.09 174.5 532.38 175.0 532.67 175.5 532.97 176.0 533.27 176.5 533.57 177.0 533.88 177.5 534.19 178.0 534.51 178.5 534.83 179.0 535.15 179.5 535.48 180.0 535.81 180.5 536.14 181.0 536.48 181.5 536.82 182.0 537.16 182.5 537.51 183.0 537.87 183.5 538.22 184.0 538.58 184.5 538.95 185.0 539.31 185.5 539.68 186.0 540.06 186.5 540.44 187.0 540.82 187.5 541.21 188.0 541.59 188.5 541.99 189.0 542.38 189.5 542.78 190.0 543.19 190.5 543.59 191.0 544.00 191.5 544.41 192.0 544.83 192.5 545.25 193.0 545.67 193.5 546.10 194.0 546.53 194.5 546.96 195.0 547.39 195.5 547.83 196.0 548.27 196.5 548.72 197.0 549.16 197.5 549.61 198.0 550.07 198.5 550.52 199.0 550.98 199.5 551.44 200.0 551.91 200.5 552.37 201.0 552.84 201.5 553.32 202.0 553.79 202.5 554.27 203.0 554.75 203.5 555.23 204.0 555.72 204.5 556.21 205.0 556.70 205.5 557.19 206.0 557.68 206.5 558.18 207.0 558.68 207.5 559.18 208.0 559.69 208.5 560.20 209.0 560.71 209.5 561.22 210.0 561.73 210.5 562.25 211.0 562.76 211.5 563.28 212.0 563.81 212.5 564.33 213.0 564.86 213.5 565.38 214.0 565.91 214.5 566.45 215.0 566.98 215.5 567.52 216.0 568.05 216.5 568.59 217.0 569.13 217.5 569.68 218.0 570.22 218.5 570.77 219.0 571.32 219.5 571.86 220.0 572.42 220.5 572.97 221.0 573.52 221.5 574.08 222.0 574.63 222.5 575.19 223.0 575.75 223.5 576.31 224.0 576.88 224.5 577.44 225.0 578.01 225.5 578.57 226.0 579.14 226.5 579.71 227.0 580.28 227.5 580.85 228.0 581.42 228.5 582.00 229.0 582.57 229.5 583.15 230.0 583.72 230.5 584.30 231.0 584.88 231.5 585.46 232.0 586.04 232.5 586.62 233.0 587.20 233.5 587.78 234.0 588.36 234.5 588.95 235.0 589.53 235.5 590.12 236.0 590.70 236.5 591.29 237.0 591.88 237.5 592.46 238.0 593.05 238.5 593.64 239.0 594.23 239.5 594.82 240.0 595.41 240.5 596.00 241.0 596.59 241.5 597.18 242.0 597.77 242.5 598.36 243.0 598.95 243.5 599.54 244.0 600.13 244.5 600.72 245.0 601.31 245.5 601.89 246.0 602.48 246.5 603.07 247.0 603.66 247.5 604.24 248.0 604.83 248.5 605.42 249.0 606.00 249.5 606.58 250.0 607.17 250.5 607.75 251.0 608.33 251.5 608.91 252.0 609.48 252.5 610.06 253.0 610.64 253.5 611.21 254.0 611.78 254.5 612.35 255.0 612.92 255.5 613.49 256.0 614.06 256.5 614.62 257.0 615.18 257.5 615.74 258.0 616.30 258.5 616.86 259.0 617.41 259.5 617.96 260.0 618.51 260.5 619.06 261.0 619.60 261.5 620.15 262.0 620.69 262.5 621.22 263.0 621.76 263.5 622.29 264.0 622.82 264.5 623.35 265.0 623.87 265.5 624.39 266.0 624.91 266.5 625.43 267.0 625.94 267.5 626.45 268.0 626.95 268.5 627.45 269.0 627.95 269.5 628.45 270.0 628.94 270.5 629.43 271.0 629.91 271.5 630.39 272.0 630.87 272.5 631.34 273.0 631.81 273.5 632.28 274.0 632.74 274.5 633.20 275.0 633.65 275.5 634.10 276.0 634.54 276.5 634.98 277.0 635.42 277.5 635.85 278.0 636.28 278.5 636.70 279.0 637.12 279.5 637.53 280.0 637.94 280.5 638.34 281.0 638.74 281.5 639.13 282.0 639.52 282.5 639.90 283.0 640.28 283.5 640.65 284.0 641.02 284.5 641.38 285.0 641.74 285.5 642.09 286.0 642.44 286.5 642.78 287.0 643.11 287.5 643.44 288.0 643.76 288.5 644.08 289.0 644.39 289.5 644.70 290.0 644.99 290.5 645.29 291.0 645.57 291.5 645.86 292.0 646.13 292.5 646.40 293.0 646.66 293.5 646.92 294.0 647.17 294.5 647.41 295.0 647.65 295.5 647.89 296.0 648.11 296.5 648.33 297.0 648.55 297.5 648.76 298.0 648.96 298.5 649.16 299.0 649.35 299.5 649.54 300.0 649.72 300.5 649.89 301.0 650.06 301.5 650.22 302.0 650.38 302.5 650.53 303.0 650.67 303.5 650.81 304.0 650.94 304.5 651.07 305.0 651.19 305.5 651.31 306.0 651.42 306.5 651.53 307.0 651.62 307.5 651.72 308.0 651.81 308.5 651.89 309.0 651.96 309.5 652.03 310.0 652.10 310.5 652.16 311.0 652.21 311.5 652.26 312.0 652.30 312.5 652.34 313.0 652.37 313.5 652.40 314.0 652.42 314.5 652.43 315.0 652.44 315.5 652.44 316.0 652.44 316.5 652.43 317.0 652.42 317.5 652.40 318.0 652.38 318.5 652.35 319.0 652.32 319.5 652.27 320.0 652.23 320.5 652.18 321.0 652.12 321.5 652.06 322.0 651.99 322.5 651.92 323.0 651.84 323.5 651.76 324.0 651.67 324.5 651.58 325.0 651.48 325.5 651.37 326.0 651.26 326.5 651.15 327.0 651.03 327.5 650.90 328.0 650.77 328.5 650.63 329.0 650.49 329.5 650.35 330.0 650.19 330.5 650.04 331.0 649.87 331.5 649.71 332.0 649.53 332.5 649.36 333.0 649.17 333.5 648.99 334.0 648.79 334.5 648.59 335.0 648.39 335.5 648.18 336.0 647.97 336.5 647.75 337.0 647.53 337.5 647.30 338.0 647.06 338.5 646.83 339.0 646.58 339.5 646.34 340.0 646.09 340.5 645.83 341.0 645.57 341.5 645.31 342.0 645.04 342.5 644.76 343.0 644.49 343.5 644.20 344.0 643.92 344.5 643.63 345.0 643.34 345.5 643.04 346.0 642.74 346.5 642.43 347.0 642.13 347.5 641.81 348.0 641.50 348.5 641.18 349.0 640.86 349.5 640.53 350.0 640.20 350.5 639.87 351.0 639.54 351.5 639.20 352.0 638.86 352.5 638.51 353.0 638.17 353.5 637.82 354.0 637.47 354.5 637.11 355.0 636.75 355.5 636.39 356.0 636.03 356.5 635.66 357.0 635.30 357.5 634.93 358.0 634.56 358.5 634.18 359.0 633.80 359.5 633.43 360.0 633.05 360.5 632.66 361.0 632.28 361.5 631.89 362.0 631.50 362.5 631.12 363.0 630.72 363.5 630.33 364.0 629.94 364.5 629.54 365.0 629.15 365.5 628.75 366.0 628.35 366.5 627.95 367.0 627.55 367.5 627.14 368.0 626.74 368.5 626.33 369.0 625.93 369.5 625.52 370.0 625.12 370.5 624.71 371.0 624.30 371.5 623.89 372.0 623.48 372.5 623.07 373.0 622.66 373.5 622.25 374.0 621.84 374.5 621.43 375.0 621.02 375.5 620.61 376.0 620.20 376.5 619.79 377.0 619.38 377.5 618.97 378.0 618.56 378.5 618.15 379.0 617.74 379.5 617.33 380.0 616.92 380.5 616.51 381.0 616.11 381.5 615.70 382.0 615.30 382.5 614.89 383.0 614.49 383.5 614.09 384.0 613.68 384.5 613.28 385.0 612.88 385.5 612.49 386.0 612.09 386.5 611.69 387.0 611.30 387.5 610.90 388.0 610.51 388.5 610.12 389.0 609.73 389.5 609.34 390.0 608.95 390.5 608.56 391.0 608.18 391.5 607.80 392.0 607.41 392.5 607.03 393.0 606.65 393.5 606.27 394.0 605.90 394.5 605.52 395.0 605.14 395.5 604.77 396.0 604.40 396.5 604.03 397.0 603.66 397.5 603.29 398.0 602.93 398.5 602.57 399.0 602.20 399.5 601.84 400.0 601.48 400.5 601.13 401.0 600.77 401.5 600.42 402.0 600.06 402.5 599.71 403.0 599.36 403.5 599.02 404.0 598.67 404.5 598.33 405.0 597.98 405.5 597.64 406.0 597.31 406.5 596.97 407.0 596.64 407.5 596.30 408.0 595.97 408.5 595.64 409.0 595.32 409.5 594.99 410.0 594.67 410.5 594.35 411.0 594.03 411.5 593.71 412.0 593.40 412.5 593.09 413.0 592.77 413.5 592.47 414.0 592.16 414.5 591.86 415.0 591.55 415.5 591.25 416.0 590.96 416.5 590.66 417.0 590.37 417.5 590.08 418.0 589.79 418.5 589.50 419.0 589.22 419.5 588.94 420.0 588.66 420.5 588.38 421.0 588.11 421.5 587.84 422.0 587.57 422.5 587.30 423.0 587.04 423.5 586.78 424.0 586.52 424.5 586.26 425.0 586.01 425.5 585.75 426.0 585.50 426.5 585.26 427.0 585.01 427.5 584.77 428.0 584.53 428.5 584.30 429.0 584.07 429.5 583.84 430.0 583.61 430.5 583.38 431.0 583.16 431.5 582.94 432.0 582.73 432.5 582.51 433.0 582.30 433.5 582.09 434.0 581.89 434.5 581.68 435.0 581.48 435.5 581.29 436.0 581.09 436.5 580.90 437.0 580.71 437.5 580.52 438.0 580.34 438.5 580.16 439.0 579.98 439.5 579.80 440.0 579.63 440.5 579.46 441.0 579.29 441.5 579.12 442.0 578.96 442.5 578.79 443.0 578.63 443.5 578.48 444.0 578.32 444.5 578.17 445.0 578.02 445.5 577.87 446.0 577.73 446.5 577.58 447.0 577.44 447.5 577.30 448.0 577.17 448.5 577.03 449.0 576.90 449.5 576.77 450.0 576.64 450.5 576.52 451.0 576.39 451.5 576.27 452.0 576.15 452.5 576.04 453.0 575.92 453.5 575.81 454.0 575.70 454.5 575.59 455.0 575.48 455.5 575.37 456.0 575.27 456.5 575.17 457.0 575.07 457.5 574.97 458.0 574.88 458.5 574.78 459.0 574.69 459.5 574.60 460.0 574.51 460.5 574.42 461.0 574.34 461.5 574.26 462.0 574.18 462.5 574.10 463.0 574.02 463.5 573.94 464.0 573.87 464.5 573.79 465.0 573.72 465.5 573.65 466.0 573.58 466.5 573.52 467.0 573.45 467.5 573.39 468.0 573.33 468.5 573.27 469.0 573.21 469.5 573.15 470.0 573.09 470.5 573.04 471.0 572.98 471.5 572.93 472.0 572.88 472.5 572.83 473.0 572.79 473.5 572.74 474.0 572.69 474.5 572.65 475.0 572.61 475.5 572.57 476.0 572.52 476.5 572.49 477.0 572.45 477.5 572.41 478.0 572.38 478.5 572.34 479.0 572.31 479.5 572.28 480.0 572.25 480.5 572.22 481.0 572.19 481.5 572.16 482.0 572.13 482.5 572.11 483.0 572.08 483.5 572.06 484.0 572.03 484.5 572.01 485.0 571.99 485.5 571.97 486.0 571.95 486.5 571.93 487.0 571.92 487.5 571.90 488.0 571.88 488.5 571.87 489.0 571.85 489.5 571.84 490.0 571.83 490.5 571.82 491.0 571.80 491.5 571.79 492.0 571.78 492.5 571.77 493.0 571.77 493.5 571.76 494.0 571.75 494.5 571.74 495.0 571.74 495.5 571.73 496.0 571.73 496.5 571.72 497.0 571.72 497.5 571.71 498.0 571.71 498.5 571.71 499.0 571.70 499.5 571.70 500.0 571.70 500.5 571.70 501.0 571.70 501.5 571.70 502.0 571.70 502.5 571.70 503.0 571.70 503.5 571.70 504.0 571.70 504.5 571.70 505.0 571.70 505.5 571.70 506.0 571.70 506.5 571.70 507.0 571.71 507.5 571.71 508.0 571.71 508.5 571.71 509.0 571.71" stroke="#e01616"/>
<path d="M71.50 574.01 L72.0 574.04 72.5 574.07 73.0 574.11 73.5 574.14 74.0 574.17 74.5 574.20 75.0 574.23 75.5 574.27 76.0 574.30 76.5 574.33 77.0 574.36 77.5 574.39 78.0 574.42 78.5 574.46 79.0 574.49 79.5 574.52 80.0 574.55 80.5 574.58 81.0 574.62 81.5 574.65 82.0 574.68 82.5 574.71 83.0 574.74 83.5 574.77 84.0 574.81 84.5 574.84 85.0 574.87 85.5 574.90 86.0 574.93 86.5 574.96 87.0 574.99 87.5 575.03 88.0 575.06 88.5 575.09 89.0 575.12 89.5 575.15 90.0 575.18 90.5 575.22 91.0 575.25 91.5 575.28 92.0 575.31 92.5 575.34 93.0 575.37 93.5 575.40 94.0 575.44 94.5 575.47 95.0 575.50 95.5 575.53 96.0 575.56 96.5 575.59 97.0 575.62 97.5 575.65 98.0 575.69 98.5 575.72 99.0 575.75 99.5 575.78 100.0 575.81 100.5 575.84 101.0 575.87 101.5 575.90 102.0 575.93 102.5 575.97 103.0 576.00 103.5 576.03 104.0 576.06 104.5 576.09 105.0 576.12 105.5 576.15 106.0 576.18 106.5 576.21 107.0 576.25 107.5 576.28 108.0 576.31 108.5 576.34 109.0 576.37 109.5 576.40 110.0 576.43 110.5 576.46 111.0 576.49 111.5 576.52 112.0 576.55 112.5 576.58 113.0 576.62 113.5 576.65 114.0 576.68 114.5 576.71 115.0 576.74 115.5 576.77 116.0 576.80 116.5 576.83 117.0 576.86 117.5 576.89 118.0 576.92 118.5 576.95 119.0 576.98 119.5 577.01 120.0 577.05 120.5 577.08 121.0 577.11 121.5 577.14 122.0 577.17 122.5 577.20 123.0 577.23 123.5 577.26 124.0 577.29 124.5 577.32 125.0 577.35 125.5 577.38 126.0 577.41 126.5 577.44 127.0 577.47 127.5 577.50 128.0 577.53 128.5 577.56 129.0 577.59 129.5 577.62 130.0 577.65 130.5 577.68 131.0 577.71 131.5 577.74 132.0 577.77 132.5 577.80 133.0 577.84 133.5 577.87 134.0 577.90 134.5 577.93 135.0 577.96 135.5 577.99 136.0 578.02 136.5 578.05 137.0 578.08 137.5 578.11 138.0 578.14 138.5 578.17 139.0 578.20 139.5 578.23 140.0 578.26 140.5 578.29 141.0 578.32 141.5 578.35 142.0 578.38 142.5 578.41 143.0 578.44 143.5 578.47 144.0 578.50 144.5 578.53 145.0 578.56 145.5 578.59 146.0 578.62 146.5 578.65 147.0 578.68 147.5 578.71 148.0 578.74 148.5 578.76 149.0 578.79 149.5 578.82 150.0 578.85 150.5 578.88 151.0 578.91 151.5 578.94 152.0 578.97 152.5 579.00 153.0 579.03 153.5 579.06 154.0 579.09 154.5 579.12 155.0 579.15 155.5 579.18 156.0 579.21 156.5 579.24 157.0 579.27 157.5 579.30 158.0 579.33 158.5 579.36 159.0 579.39 159.5 579.42 160.0 579.45 160.5 579.48 161.0 579.50 161.5 579.53 162.0 579.56 162.5 579.59 163.0 579.62 163.5 579.65 164.0 579.68 164.5 579.71 165.0 579.74 165.5 579.77 166.0 579.80 166.5 579.83 167.0 579.86 167.5 579.89 168.0 579.92 168.5 579.94 169.0 579.97 169.5 580.00 170.0 580.03 170.5 580.06 171.0 580.09 171.5 580.12 172.0 580.15 172.5 580.18 173.0 580.21 173.5 580.24 174.0 580.27 174.5 580.29 175.0 580.32 175.5 580.35 176.0 580.38 176.5 580.41 177.0 580.44 177.5 580.47 178.0 580.50 178.5 580.53 179.0 580.56 179.5 580.59 180.0 580.61 180.5 580.64 181.0 580.67 181.5 580.70 182.0 580.73 182.5 580.76 183.0 580.79 183.5 580.82 184.0 580.85 184.5 580.87 185.0 580.90 185.5 580.93 186.0 580.96 186.5 580.99 187.0 581.02 187.5 581.05 188.0 581.08 188.5 581.10 189.0 581.13 189.5 581.16 190.0 581.19 190.5 581.22 191.0 581.25 191.5 581.28 192.0 581.30 192.5 581.33 193.0 581.36 193.5 581.39 194.0 581.42 194.5 581.45 195.0 581.48 195.5 581.50 196.0 581.53 196.5 581.56 197.0 581.59 197.5 581.62 198.0 581.65 198.5 581.68 199.0 581.70 199.5 581.73 200.0 581.76 200.5 581.79 201.0 581.82 201.5 581.85 202.0 581.88 202.5 581.90 203.0 581.93 203.5 581.96 204.0 581.99 204.5 582.02 205.0 582.05 205.5 582.07 206.0 582.10 206.5 582.13 207.0 582.16 207.5 582.19 208.0 582.21 208.5 582.24 209.0 582.27 209.5 582.30 210.0 582.33 210.5 582.36 211.0 582.38 211.5 582.41 212.0 582.44 212.5 582.47 213.0 582.50 213.5 582.52 214.0 582.55 214.5 582.58 215.0 582.61 215.5 582.64 216.0 582.67 216.5 582.69 217.0 582.72 217.5 582.75 218.0 582.78 218.5 582.81 219.0 582.83 219.5 582.86 220.0 582.89 220.5 582.92 221.0 582.94 221.5 582.97 222.0 583.00 222.5 583.03 223.0 583.06 223.5 583.08 224.0 583.11 224.5 583.14 225.0 583.17 225.5 583.20 226.0 583.22 226.5 583.25 227.0 583.28 227.5 583.31 228.0 583.33 228.5 583.36 229.0 583.39 229.5 583.42 230.0 583.45 230.5 583.47 231.0 583.50 231.5 583.53 232.0 583.56 232.5 583.58 233.0 583.61 233.5 583.64 234.0 583.67 234.5 583.69 235.0 583.72 235.5 583.75 236.0 583.78 236.5 583.81 237.0 583.83 237.5 583.86 238.0 583.89 238.5 583.92 239.0 583.94 239.5 583.97 240.0 584.00 240.5 584.03 241.0 584.05 241.5 584.08 242.0 584.11 242.5 584.14 243.0 584.16 243.5 584.19 244.0 584.22 244.5 584.24 245.0 584.27 245.5 584.30 246.0 584.33 246.5 584.35 247.0 584.38 247.5 584.41 248.0 584.44 248.5 584.46 249.0 584.49 249.5 584.52 250.0 584.55 250.5 584.57 251.0 584.60 251.5 584.63 252.0 584.65 252.5 584.68 253.0 584.71 253.5 584.74 254.0 584.76 254.5 584.79 255.0 584.82 255.5 584.84 256.0 584.87 256.5 584.90 257.0 584.93 257.5 584.95 258.0 584.98 258.5 585.01 259.0 585.03 259.5 585.06 260.0 585.09 260.5 585.12 261.0 585.14 261.5 585.17 262.0 585.20 262.5 585.22 263.0 585.25 263.5 585.28 264.0 585.30 264.5 585.33 265.0 585.36 265.5 585.39 266.0 585.41 266.5 585.44 267.0 585.47 267.5 585.49 268.0 585.52 268.5 585.55 269.0 585.57 269.5 585.60 270.0 585.63 270.5 585.65 271.0 585.68 271.5 585.71 272.0 585.73 272.5 585.76 273.0 585.79 273.5 585.82 274.0 585.84 274.5 585.87 275.0 585.90 275.5 585.92 276.0 585.95 276.5 585.98 277.0 586.00 277.5 586.03 278.0 586.06 278.5 586.08 279.0 586.11 279.5 586.14 280.0 586.16 280.5 586.19 281.0 586.22 281.5 586.24 282.0 586.27 282.5 586.30 283.0 586.32 283.5 586.35 284.0 586.38 284.5 586.40 285.0 586.43 285.5 586.45 286.0 586.48 286.5 586.51 287.0 586.53 287.5 586.56 288.0 586.59 288.5 586.61 289.0 586.64 289.5 586.67 290.0 586.69 290.5 586.72 291.0 586.75 291.5 586.77 292.0 586.80 292.5 586.83 293.0 586.85 293.5 586.88 294.0 586.90 294.5 586.93 295.0 586.96 295.5 586.98 296.0 587.01 296.5 587.04 297.0 587.06 297.5 587.09 298.0 587.11 298.5 587.14 299.0 587.17 299.5 587.19 300.0 587.22 300.5 587.25 301.0 587.27 301.5 587.30 302.0 587.32 302.5 587.35 303.0 587.38 303.5 587.40 304.0 587.43 304.5 587.46 305.0 587.48 305.5 587.51 306.0 587.53 306.5 587.56 307.0 587.59 307.5 587.61 308.0 587.64 308.5 587.66 309.0 587.69 309.5 587.72 310.0 587.74 310.5 587.77 311.0 587.79 311.5 587.82 312.0 587.85 312.5 587.87 313.0 587.90 313.5 587.92 314.0 587.95 314.5 587.98 315.0 588.00 315.5 588.03 316.0 588.05 316.5 588.08 317.0 588.11 317.5 588.13 318.0 588.16 318.5 588.18 319.0 588.21 319.5 588.24 320.0 588.26 320.5 588.29 321.0 588.31 321.5 588.34 322.0 588.37 322.5 588.39 323.0 588.42 323.5 588.44 324.0 588.47 324.5 588.49 325.0 588.52 325.5 588.55 326.0 588.57 326.5 588.60 327.0 588.62 327.5 588.65 328.0 588.67 328.5 588.70 329.0 588.73 329.5 588.75 330.0 588.78 330.5 588.80 331.0 588.83 331.5 588.85 332.0 588.88 332.5 588.91 333.0 588.93 333.5 588.96 334.0 588.98 334.5 589.01 335.0 589.03 335.5 589.06 336.0 589.08 336.5 589.11 337.0 589.14 337.5 589.16 338.0 589.19 338.5 589.21 339.0 589.24 339.5 589.26 340.0 589.29 340.5 589.31 341.0 589.34 341.5 589.37 342.0 589.39 342.5 589.42 343.0 589.44 343.5 589.47 344.0 589.49 344.5 589.52 345.0 589.54 345.5 589.57 346.0 589.59 346.5 589.62 347.0 589.65 347.5 589.67 348.0 589.70 348.5 589.72 349.0 589.75 349.5 589.77 350.0 589.80 350.5 589.82 351.0 589.85 351.5 589.87 352.0 589.90 352.5 589.92 353.0 589.95 353.5 589.97 354.0 590.00 354.5 590.03 355.0 590.05 355.5 590.08 356.0 590.10 356.5 590.13 357.0 590.15 357.5 590.18 358.0 590.20 358.5 590.23 359.0 590.25 359.5 590.28 360.0 590.30 360.5 590.33 361.0 590.35 361.5 590.38 362.0 590.40 362.5 590.43 363.0 590.45 363.5 590.48 364.0 590.50 364.5 590.53 365.0 590.55 365.5 590.58 366.0 590.60 366.5 590.63 367.0 590.65 367.5 590.68 368.0 590.70 368.5 590.73 369.0 590.75 369.5 590.78 370.0 590.80 370.5 590.83 371.0 590.85 371.5 590.88 372.0 590.90 372.5 590.93 373.0 590.95 373.5 590.98 374.0 591.00 374.5 591.03 375.0 591.05 375.5 591.08 376.0 591.10 376.5 591.13 377.0 591.15 377.5 591.18 378.0 591.20 378.5 591.23 379.0 591.25 379.5 591.28 380.0 591.30 380.5 591.33 381.0 591.35 381.5 591.38 382.0 591.40 382.5 591.43 383.0 591.45 383.5 591.48 384.0 591.50 384.5 591.53 385.0 591.55 385.5 591.58 386.0 591.60 386.5 591.63 387.0 591.65 387.5 591.68 388.0 591.70 388.5 591.73 389.0 591.75 389.5 591.77 390.0 591.80 390.5 591.82 391.0 591.85 391.5 591.87 392.0 591.90 392.5 591.92 393.0 591.95 393.5 591.97 394.0 592.00 394.5 592.02 395.0 592.05 395.5 592.07 396.0 592.10 396.5 592.12 397.0 592.14 397.5 592.17 398.0 592.19 398.5 592.22 399.0 592.24 399.5 592.27 400.0 592.29 400.5 592.32 401.0 592.34 401.5 592.37 402.0 592.39 402.5 592.42 403.0 592.44 403.5 592.46 404.0 592.49 404.5 592.51 405.0 592.54 405.5 592.56 406.0 592.59 406.5 592.61 407.0 592.64 407.5 592.66 408.0 592.68 408.5 592.71 409.0 592.73 409.5 592.76 410.0 592.78 410.5 592.81 411.0 592.83 411.5 592.86 412.0 592.88 412.5 592.90 413.0 592.93 413.5 592.95 414.0 592.98 414.5 593.00 415.0 593.03 415.5 593.05 416.0 593.08 416.5 593.10 417.0 593.12 417.5 593.15 418.0 593.17 418.5 593.20 419.0 593.22 419.5 593.25 420.0 593.27 420.5 593.29 421.0 593.32 421.5 593.34 422.0 593.37 422.5 593.39 423.0 593.42 423.5 593.44 424.0 593.46 424.5 593.49 425.0 593.51 425.5 593.54 426.0 593.56 426.5 593.59 427.0 593.61 427.5 593.63 428.0 593.66 428.5 593.68 429.0 593.71 429.5 593.73 430.0 593.75 430.5 593.78 431.0 593.80 431.5 593.83 432.0 593.85 432.5 593.88 433.0 593.90 433.5 593.92 434.0 593.95 434.5 593.97 435.0 594.00 435.5 594.02 436.0 594.04 436.5 594.07 437.0 594.09 437.5 594.12 438.0 594.14 438.5 594.16 439.0 594.19 439.5 594.21 440.0 594.24 440.5 594.26 441.0 594.29 441.5 594.31 442.0 594.33 442.5 594.36 443.0 594.38 443.5 594.41 444.0 594.43 444.5 594.45 445.0 594.48 445.5 594.50 446.0 594.53 446.5 594.55 447.0 594.57 447.5 594.60 448.0 594.62 448.5 594.65 449.0 594.67 449.5 594.69 450.0 594.72 450.5 594.74 451.0 594.76 451.5 594.79 452.0 594.81 452.5 594.84 453.0 594.86 453.5 594.88 454.0 594.91 454.5 594.93 455.0 594.96 455.5 594.98 456.0 595.00 456.5 595.03 457.0 595.05 457.5 595.08 458.0 595.10 458.5 595.12 459.0 595.15 459.5 595.17 460.0 595.19 460.5 595.22 461.0 595.24 461.5 595.27 462.0 595.29 462.5 595.31 463.0 595.34 463.5 595.36 464.0 595.39 464.5 595.41 465.0 595.43 465.5 595.46 466.0 595.48 466.5 595.50 467.0 595.53 467.5 595.55 468.0 595.58 468.5 595.60 469.0 595.62 469.5 595.65 470.0 595.67 470.5 595.69 471.0 595.72 471.5 595.74 472.0 595.77 472.5 595.79 473.0 595.81 473.5 595.84 474.0 595.86 474.5 595.88 475.0 595.91 475.5 595.93 476.0 595.95 476.5 595.98 477.0 596.00 477.5 596.03 478.0 596.05 478.5 596.07 479.0 596.10 479.5 596.12 480.0 596.14 480.5 596.17 481.0 596.19 481.5 596.21 482.0 596.24 482.5 596.26 483.0 596.29 483.5 596.31 484.0 596.33 484.5 596.36 485.0 596.38 485.5 596.40 486.0 596.43 486.5 596.45 487.0 596.47 487.5 596.50 488.0 596.52 488.5 596.54 489.0 596.57 489.5 596.59 490.0 596.62 490.5 596.64 491.0 596.66 491.5 596.69 492.0 596.71 492.5 596.73 493.0 596.76 493.5 596.78 494.0 596.80 494.5 596.83 495.0 596.85 495.5 596.87 496.0 596.90 496.5 596.92 497.0 596.94 497.5 596.97 498.0 596.99 498.5 597.01 499.0 597.04 499.5 597.06 500.0 597.09 500.5 597.11 501.0 597.13 501.5 597.16 502.0 597.18 502.5 597.20 503.0 597.23 503.5 597.25 504.0 597.27 504.5 597.30 505.0 597.32 505.5 597.34 506.0 597.37 506.5 597.39 507.0 597.41 507.5 597.44 508.0 597.46 508.5 597.48 509.0 597.51" stroke="#1a18cc"/>
<path d="M71.50 532.51 L72.0 532.47 72.5 532.43 73.0 532.40 73.5 532.37 74.0 532.34 74.5 532.32 75.0 532.30 75.5 532.28 76.0 532.27 76.5 532.26 77.0 532.26 77.5 532.26 78.0 532.26 78.5 532.27 79.0 532.28 79.5 532.29 80.0 532.31 80.5 532.33 81.0 532.36 81.5 532.39 82.0 532.42 82.5 532.46 83.0 532.50 83.5 532.55 84.0 532.60 84.5 532.65 85.0 532.70 85.5 532.76 86.0 532.83 86.5 532.90 87.0 532.97 87.5 533.04 88.0 533.12 88.5 533.21 89.0 533.29 89.5 533.38 90.0 533.48 90.5 533.58 91.0 533.68 91.5 533.78 92.0 533.89 92.5 534.01 93.0 534.12 93.5 534.24 94.0 534.37 94.5 534.50 95.0 534.63 95.5 534.76 96.0 534.90 96.5 535.05 97.0 535.19 97.5 535.34 98.0 535.50 98.5 535.66 99.0 535.82 99.5 535.98 100.0 536.15 100.5 536.33 101.0 536.50 101.5 536.68 102.0 536.87 102.5 537.06 103.0 537.25 103.5 537.44 104.0 537.64 104.5 537.85 105.0 538.05 105.5 538.26 106.0 538.48 106.5 538.70 107.0 538.92 107.5 539.14 108.0 539.37 108.5 539.60 109.0 539.84 109.5 540.08 110.0 540.32 110.5 540.57 111.0 540.82 111.5 541.08 112.0 541.34 112.5 541.60 113.0 541.87 113.5 542.14 114.0 542.41 114.5 542.69 115.0 542.97 115.5 543.25 116.0 543.54 116.5 543.83 117.0 544.13 117.5 544.43 118.0 544.73 118.5 545.04 119.0 545.35 119.5 545.66 120.0 545.98 120.5 546.30 121.0 546.62 121.5 546.95 122.0 547.28 122.5 547.62 123.0 547.96 123.5 548.30 124.0 548.64 124.5 548.99 125.0 549.34 125.5 549.70 126.0 550.06 126.5 550.42 127.0 550.79 127.5 551.15 128.0 551.53 128.5 551.90 129.0 552.28 129.5 552.66 130.0 553.04 130.5 553.43 131.0 553.82 131.5 554.21 132.0 554.61 132.5 555.01 133.0 555.41 133.5 555.81 134.0 556.22 134.5 556.63 135.0 557.04 135.5 557.46 136.0 557.88 136.5 558.30 137.0 558.72 137.5 559.15 138.0 559.57 138.5 560.01 139.0 560.44 139.5 560.88 140.0 561.32 140.5 561.76 141.0 562.20 141.5 562.65 142.0 563.10 142.5 563.55 143.0 564.00 143.5 564.46 144.0 564.92 144.5 565.38 145.0 565.84 145.5 566.30 146.0 566.77 146.5 567.24 147.0 567.71 147.5 568.19 148.0 568.66 148.5 569.14 149.0 569.62 149.5 570.10 150.0 570.58 150.5 571.06 151.0 571.55 151.5 572.03 152.0 572.52 152.5 573.01 153.0 573.50 153.5 573.99 154.0 574.49 154.5 574.98 155.0 575.47 155.5 575.97 156.0 576.47 156.5 576.97 157.0 577.46 157.5 577.96 158.0 578.46 158.5 578.96 159.0 579.46 159.5 579.97 160.0 580.47 160.5 580.97 161.0 581.47 161.5 581.97 162.0 582.48 162.5 582.98 163.0 583.48 163.5 583.99 164.0 584.49 164.5 584.99 165.0 585.49 165.5 586.00 166.0 586.50 166.5 587.00 167.0 587.50 167.5 588.00 168.0 588.50 168.5 589.00 169.0 589.50 169.5 590.00 170.0 590.49 170.5 590.99 171.0 591.48 171.5 591.98 172.0 592.47 172.5 592.96 173.0 593.45 173.5 593.94 174.0 594.43 174.5 594.92 175.0 595.41 175.5 595.89 176.0 596.37 176.5 596.85 177.0 597.33 177.5 597.81 178.0 598.29 178.5 598.77 179.0 599.24 179.5 599.71 180.0 600.18 180.5 600.65 181.0 601.12 181.5 601.58 182.0 602.04 182.5 602.50 183.0 602.96 183.5 603.42 184.0 603.87 184.5 604.33 185.0 604.78 185.5 605.22 186.0 605.67 186.5 606.11 187.0 606.55 187.5 606.99 188.0 607.43 188.5 607.86 189.0 608.29 189.5 608.72 190.0 609.15 190.5 609.57 191.0 609.99 191.5 610.41 192.0 610.82 192.5 611.23 193.0 611.64 193.5 612.05 194.0 612.45 194.5 612.85 195.0 613.25 195.5 613.64 196.0 614.03 196.5 614.42 197.0 614.80 197.5 615.18 198.0 615.56 198.5 615.93 199.0 616.30 199.5 616.67 200.0 617.03 200.5 617.39 201.0 617.74 201.5 618.09 202.0 618.44 202.5 618.79 203.0 619.13 203.5 619.46 204.0 619.80 204.5 620.12 205.0 620.45 205.5 620.77 206.0 621.09 206.5 621.40 207.0 621.71 207.5 622.01 208.0 622.31 208.5 622.61 209.0 622.90 209.5 623.19 210.0 623.47 210.5 623.76 211.0 624.03 211.5 624.30 212.0 624.57 212.5 624.84 213.0 625.10 213.5 625.36 214.0 625.61 214.5 625.86 215.0 626.10 215.5 626.34 216.0 626.58 216.5 626.81 217.0 627.04 217.5 627.27 218.0 627.49 218.5 627.71 219.0 627.92 219.5 628.13 220.0 628.34 220.5 628.54 221.0 628.74 221.5 628.93 222.0 629.12 222.5 629.31 223.0 629.49 223.5 629.67 224.0 629.84 224.5 630.02 225.0 630.18 225.5 630.35 226.0 630.51 226.5 630.66 227.0 630.81 227.5 630.96 228.0 631.11 228.5 631.25 229.0 631.38 229.5 631.52 230.0 631.65 230.5 631.77 231.0 631.89 231.5 632.01 232.0 632.13 232.5 632.24 233.0 632.34 233.5 632.45 234.0 632.55 234.5 632.64 235.0 632.73 235.5 632.82 236.0 632.91 236.5 632.99 237.0 633.06 237.5 633.14 238.0 633.21 238.5 633.27 239.0 633.33 239.5 633.39 240.0 633.45 240.5 633.50 241.0 633.54 241.5 633.59 242.0 633.63 242.5 633.67 243.0 633.70 243.5 633.73 244.0 633.75 244.5 633.78 245.0 633.79 245.5 633.81 246.0 633.82 246.5 633.83 247.0 633.83 247.5 633.83 248.0 633.83 248.5 633.83 249.0 633.82 249.5 633.80 250.0 633.79 250.5 633.77 251.0 633.74 251.5 633.72 252.0 633.69 252.5 633.65 253.0 633.62 253.5 633.58 254.0 633.53 254.5 633.49 255.0 633.44 255.5 633.38 256.0 633.33 256.5 633.27 257.0 633.20 257.5 633.14 258.0 633.07 258.5 632.99 259.0 632.92 259.5 632.84 260.0 632.75 260.5 632.67 261.0 632.58 261.5 632.49 262.0 632.39 262.5 632.29 263.0 632.19 263.5 632.09 264.0 631.98 264.5 631.87 265.0 631.75 265.5 631.63 266.0 631.51 266.5 631.39 267.0 631.26 267.5 631.13 268.0 631.00 268.5 630.87 269.0 630.73 269.5 630.58 270.0 630.44 270.5 630.29 271.0 630.14 271.5 629.99 272.0 629.83 272.5 629.67 273.0 629.51 273.5 629.34 274.0 629.18 274.5 629.00 275.0 628.83 275.5 628.65 276.0 628.47 276.5 628.29 277.0 628.11 277.5 627.92 278.0 627.73 278.5 627.53 279.0 627.34 279.5 627.14 280.0 626.94 280.5 626.73 281.0 626.52 281.5 626.31 282.0 626.10 282.5 625.88 283.0 625.67 283.5 625.45 284.0 625.22 284.5 625.00 285.0 624.77 285.5 624.53 286.0 624.30 286.5 624.06 287.0 623.82 287.5 623.58 288.0 623.34 288.5 623.09 289.0 622.84 289.5 622.59 290.0 622.33 290.5 622.08 291.0 621.82 291.5 621.55 292.0 621.29 292.5 621.02 293.0 620.75 293.5 620.48 294.0 620.21 294.5 619.93 295.0 619.65 295.5 619.37 296.0 619.09 296.5 618.80 297.0 618.51 297.5 618.22 298.0 617.93 298.5 617.64 299.0 617.34 299.5 617.04 300.0 616.74 300.5 616.44 301.0 616.13 301.5 615.82 302.0 615.52 302.5 615.20 303.0 614.89 303.5 614.58 304.0 614.26 304.5 613.94 305.0 613.62 305.5 613.30 306.0 612.97 306.5 612.65 307.0 612.32 307.5 611.99 308.0 611.66 308.5 611.32 309.0 610.99 309.5 610.65 310.0 610.31 310.5 609.97 311.0 609.63 311.5 609.29 312.0 608.94 312.5 608.60 313.0 608.25 313.5 607.90 314.0 607.55 314.5 607.20 315.0 606.84 315.5 606.49 316.0 606.13 316.5 605.77 317.0 605.41 317.5 605.05 318.0 604.69 318.5 604.32 319.0 603.96 319.5 603.59 320.0 603.23 320.5 602.86 321.0 602.49 321.5 602.12 322.0 601.74 322.5 601.37 323.0 600.99 323.5 600.62 324.0 600.24 324.5 599.86 325.0 599.48 325.5 599.10 326.0 598.72 326.5 598.33 327.0 597.95 327.5 597.56 328.0 597.17 328.5 596.78 329.0 596.39 329.5 596.00 330.0 595.60 330.5 595.21 331.0 594.81 331.5 594.41 332.0 594.01 332.5 593.60 333.0 593.20 333.5 592.79 334.0 592.39 334.5 591.98 335.0 591.57 335.5 591.16 336.0 590.74 336.5 590.32 337.0 589.91 337.5 589.49 338.0 589.07 338.5 588.64 339.0 588.22 339.5 587.79 340.0 587.36 340.5 586.93 341.0 586.50 341.5 586.06 342.0 585.63 342.5 585.19 343.0 584.75 343.5 584.31 344.0 583.86 344.5 583.42 345.0 582.97 345.5 582.52 346.0 582.07 346.5 581.61 347.0 581.15 347.5 580.70 348.0 580.23 348.5 579.77 349.0 579.31 349.5 578.84 350.0 578.37 350.5 577.90 351.0 577.42 351.5 576.95 352.0 576.47 352.5 575.99 353.0 575.51 353.5 575.02 354.0 574.53 354.5 574.05 355.0 573.56 355.5 573.06 356.0 572.57 356.5 572.07 357.0 571.57 357.5 571.07 358.0 570.57 358.5 570.06 359.0 569.56 359.5 569.05 360.0 568.54 360.5 568.03 361.0 567.51 361.5 566.99 362.0 566.48 362.5 565.96 363.0 565.44 363.5 564.91 364.0 564.39 364.5 563.86 365.0 563.33 365.5 562.80 366.0 562.27 366.5 561.73 367.0 561.20 367.5 560.66 368.0 560.12 368.5 559.58 369.0 559.04 369.5 558.49 370.0 557.95 370.5 557.40 371.0 556.85 371.5 556.30 372.0 555.75 372.5 555.20 373.0 554.64 373.5 554.09 374.0 553.53 374.5 552.97 375.0 552.41 375.5 551.84 376.0 551.28 376.5 550.71 377.0 550.15 377.5 549.58 378.0 549.01 378.5 548.44 379.0 547.87 379.5 547.29 380.0 546.72 380.5 546.14 381.0 545.56 381.5 544.98 382.0 544.40 382.5 543.82 383.0 543.24 383.5 542.66 384.0 542.07 384.5 541.48 385.0 540.90 385.5 540.31 386.0 539.72 386.5 539.13 387.0 538.53 387.5 537.94 388.0 537.35 388.5 536.75 389.0 536.15 389.5 535.56 390.0 534.96 390.5 534.36 391.0 533.76 391.5 533.16 392.0 532.55 392.5 531.95 393.0 531.34 393.5 530.74 394.0 530.13 394.5 529.52 395.0 528.92 395.5 528.31 396.0 527.70 396.5 527.09 397.0 526.47 397.5 525.86 398.0 525.25 398.5 524.63 399.0 524.02 399.5 523.40 400.0 522.78 400.5 522.17 401.0 521.55 401.5 520.93 402.0 520.31 402.5 519.69 403.0 519.07 403.5 518.45 404.0 517.82 404.5 517.20 405.0 516.58 405.5 515.95 406.0 515.33 406.5 514.70 407.0 514.08 407.5 513.45 408.0 512.82 408.5 512.20 409.0 511.57 409.5 510.94 410.0 510.31 410.5 509.68 411.0 509.05 411.5 508.43 412.0 507.80 412.5 507.17 413.0 506.54 413.5 505.91 414.0 505.28 414.5 504.65 415.0 504.02 415.5 503.39 416.0 502.76 416.5 502.14 417.0 501.51 417.5 500.88 418.0 500.25 418.5 499.63 419.0 499.00 419.5 498.38 420.0 497.75 420.5 497.13 421.0 496.51 421.5 495.89 422.0 495.27 422.5 494.65 423.0 494.03 423.5 493.41 424.0 492.79 424.5 492.18 425.0 491.56 425.5 490.95 426.0 490.34 426.5 489.73 427.0 489.12 427.5 488.51 428.0 487.91 428.5 487.30 429.0 486.70 429.5 486.10 430.0 485.50 430.5 484.90 431.0 484.31 431.5 483.71 432.0 483.12 432.5 482.53 433.0 481.94 433.5 481.36 434.0 480.77 434.5 480.19 435.0 479.61 435.5 479.04 436.0 478.46 436.5 477.89 437.0 477.32 437.5 476.75 438.0 476.19 438.5 475.63 439.0 475.06 439.5 474.51 440.0 473.95 440.5 473.40 441.0 472.85 441.5 472.30 442.0 471.75 442.5 471.21 443.0 470.67 443.5 470.13 444.0 469.60 444.5 469.07 445.0 468.54 445.5 468.01 446.0 467.48 446.5 466.96 447.0 466.44 447.5 465.93 448.0 465.42 448.5 464.91 449.0 464.40 449.5 463.89 450.0 463.39 450.5 462.89 451.0 462.40 451.5 461.90 452.0 461.41 452.5 460.93 453.0 460.44 453.5 459.96 454.0 459.49 454.5 459.01 455.0 458.54 455.5 458.07 456.0 457.61 456.5 457.15 457.0 456.69 457.5 456.23 458.0 455.78 458.5 455.33 459.0 454.89 459.5 454.44 460.0 454.01 460.5 453.57 461.0 453.14 461.5 452.71 462.0 452.28 462.5 451.86 463.0 451.45 463.5 451.03 464.0 450.62 464.5 450.21 465.0 449.81 465.5 449.41 466.0 449.01 466.5 448.62 467.0 448.23 467.5 447.84 468.0 447.46 468.5 447.09 469.0 446.71 469.5 446.34 470.0 445.97 470.5 445.61 471.0 445.25 471.5 444.90 472.0 444.55 472.5 444.20 473.0 443.86 473.5 443.52 474.0 443.18 474.5 442.85 475.0 442.52 475.5 442.20 476.0 441.88 476.5 441.57 477.0 441.26 477.5 440.95 478.0 440.65 478.5 440.35 479.0 440.05 479.5 439.76 480.0 439.48 480.5 439.20 481.0 438.92 481.5 438.65 482.0 438.38 482.5 438.12 483.0 437.86 483.5 437.60 484.0 437.35 484.5 437.11 485.0 436.86 485.5 436.63 486.0 436.39 486.5 436.17 487.0 435.94 487.5 435.72 488.0 435.51 488.5 435.30 489.0 435.10 489.5 434.90 490.0 434.70 490.5 434.51 491.0 434.32 491.5 434.14 492.0 433.97 492.5 433.80 493.0 433.63 493.5 433.47 494.0 433.31 494.5 433.16 495.0 433.01 495.5 432.87 496.0 432.73 496.5 432.60 497.0 432.47 497.5 432.35 498.0 432.23 498.5 432.12 499.0 432.02 499.5 431.91 500.0 431.82 500.5 431.73 501.0 431.64 501.5 431.56 502.0 431.49 502.5 431.42 503.0 431.35 503.5 431.29 504.0 431.24 504.5 431.19 505.0 431.15 505.5 431.11 506.0 431.08 506.5 431.05 507.0 431.03 507.5 431.01 508.0 431.00 508.5 431.00 508.7 430.99" stroke="#b2b232" stroke-dasharray="4.9 2.15"/>
<path d="M71.50 522.21 L72.0 522.01 72.5 521.83 73.0 521.64 73.5 521.47 74.0 521.30 74.5 521.13 75.0 520.98 75.5 520.83 76.0 520.68 76.5 520.54 77.0 520.41 77.5 520.28 78.0 520.16 78.5 520.04 79.0 519.93 79.5 519.83 80.0 519.73 80.5 519.64 81.0 519.55 81.5 519.47 82.0 519.39 82.5 519.32 83.0 519.26 83.5 519.20 84.0 519.14 84.5 519.09 85.0 519.05 85.5 519.01 86.0 518.98 86.5 518.95 87.0 518.93 87.5 518.91 88.0 518.89 88.5 518.89 89.0 518.88 89.5 518.89 90.0 518.89 90.5 518.90 91.0 518.92 91.5 518.94 92.0 518.97 92.5 519.00 93.0 519.04 93.5 519.08 94.0 519.12 94.5 519.17 95.0 519.22 95.5 519.28 96.0 519.34 96.5 519.41 97.0 519.48 97.5 519.56 98.0 519.64 98.5 519.72 99.0 519.81 99.5 519.90 100.0 520.00 100.5 520.10 101.0 520.20 101.5 520.31 102.0 520.43 102.5 520.54 103.0 520.66 103.5 520.79 104.0 520.91 104.5 521.05 105.0 521.18 105.5 521.32 106.0 521.46 106.5 521.61 107.0 521.76 107.5 521.91 108.0 522.07 108.5 522.23 109.0 522.39 109.5 522.56 110.0 522.72 110.5 522.90 111.0 523.07 111.5 523.25 112.0 523.44 112.5 523.62 113.0 523.81 113.5 524.00 114.0 524.20 114.5 524.39 115.0 524.59 115.5 524.80 116.0 525.00 116.5 525.21 117.0 525.42 117.5 525.64 118.0 525.85 118.5 526.07 119.0 526.29 119.5 526.52 120.0 526.75 120.5 526.97 121.0 527.21 121.5 527.44 122.0 527.68 122.5 527.91 123.0 528.16 123.5 528.40 124.0 528.64 124.5 528.89 125.0 529.14 125.5 529.39 126.0 529.64 126.5 529.90 127.0 530.16 127.5 530.41 128.0 530.68 128.5 530.94 129.0 531.20 129.5 531.47 130.0 531.74 130.5 532.01 131.0 532.28 131.5 532.55 132.0 532.82 132.5 533.10 133.0 533.37 133.5 533.65 134.0 533.93 134.5 534.21 135.0 534.49 135.5 534.78 136.0 535.06 136.5 535.35 137.0 535.63 137.5 535.92 138.0 536.21 138.5 536.50 139.0 536.79 139.5 537.08 140.0 537.37 140.5 537.67 141.0 537.96 141.5 538.26 142.0 538.55 142.5 538.85 143.0 539.14 143.5 539.44 144.0 539.74 144.5 540.04 145.0 540.33 145.5 540.63 146.0 540.93 146.5 541.23 147.0 541.53 147.5 541.83 148.0 542.13 148.5 542.43 149.0 542.73 149.5 543.03 150.0 543.33 150.5 543.63 151.0 543.94 151.5 544.24 152.0 544.54 152.5 544.84 153.0 545.14 153.5 545.44 154.0 545.74 154.5 546.04 155.0 546.33 155.5 546.63 156.0 546.93 156.5 547.23 157.0 547.53 157.5 547.82 158.0 548.12 158.5 548.41 159.0 548.71 159.5 549.00 160.0 549.29 160.5 549.59 161.0 549.88 161.5 550.17 162.0 550.46 162.5 550.75 163.0 551.03 163.5 551.32 164.0 551.60 164.5 551.89 165.0 552.17 165.5 552.45 166.0 552.73 166.5 553.01 167.0 553.29 167.5 553.57 168.0 553.84 168.5 554.12 169.0 554.39 169.5 554.66 170.0 554.93 170.5 555.20 171.0 555.46 171.5 555.72 172.0 555.99 172.5 556.25 173.0 556.51 173.5 556.76 174.0 557.02 174.5 557.27 175.0 557.52 175.5 557.77 176.0 558.02 176.5 558.26 177.0 558.50 177.5 558.75 178.0 558.98 178.5 559.22 179.0 559.45 179.5 559.68 180.0 559.91 180.5 560.14 181.0 560.36 181.5 560.58 182.0 560.80 182.5 561.02 183.0 561.23 183.5 561.44 184.0 561.65 184.5 561.86 185.0 562.06 185.5 562.26 186.0 562.46 186.5 562.65 187.0 562.84 187.5 563.03 188.0 563.22 188.5 563.40 189.0 563.58 189.5 563.75 190.0 563.93 190.5 564.09 191.0 564.26 191.5 564.42 192.0 564.58 192.5 564.74 193.0 564.89 193.5 565.04 194.0 565.19 194.5 565.33 195.0 565.47 195.5 565.60 196.0 565.73 196.5 565.86 197.0 565.98 197.5 566.10 198.0 566.22 198.5 566.33 199.0 566.44 199.5 566.54 200.0 566.64 200.5 566.74 201.0 566.83 201.5 566.92 202.0 567.00 202.5 567.08 203.0 567.15 203.5 567.22 204.0 567.29 204.5 567.35 205.0 567.41 205.5 567.46 206.0 567.51 206.5 567.56 207.0 567.60 207.5 567.63 208.0 567.66 208.5 567.69 209.0 567.71 209.5 567.72 210.0 567.74 210.5 567.74 211.0 567.75 211.5 567.75 212.0 567.74 212.5 567.73 213.0 567.72 213.5 567.70 214.0 567.68 214.5 567.65 215.0 567.63 215.5 567.59 216.0 567.56 216.5 567.52 217.0 567.48 217.5 567.43 218.0 567.38 218.5 567.33 219.0 567.27 219.5 567.21 220.0 567.15 220.5 567.09 221.0 567.02 221.5 566.95 222.0 566.88 222.5 566.81 223.0 566.73 223.5 566.65 224.0 566.57 224.5 566.49 225.0 566.40 225.5 566.31 226.0 566.22 226.5 566.13 227.0 566.04 227.5 565.95 228.0 565.85 228.5 565.75 229.0 565.65 229.5 565.55 230.0 565.45 230.5 565.35 231.0 565.24 231.5 565.14 232.0 565.03 232.5 564.92 233.0 564.81 233.5 564.70 234.0 564.59 234.5 564.48 235.0 564.37 235.5 564.26 236.0 564.15 236.5 564.04 237.0 563.93 237.5 563.82 238.0 563.70 238.5 563.59 239.0 563.48 239.5 563.37 240.0 563.26 240.5 563.15 241.0 563.04 241.5 562.93 242.0 562.82 242.5 562.71 243.0 562.60 243.5 562.50 244.0 562.39 244.5 562.28 245.0 562.18 245.5 562.08 246.0 561.98 246.5 561.88 247.0 561.78 247.5 561.68 248.0 561.59 248.5 561.49 249.0 561.40 249.5 561.31 250.0 561.22 250.5 561.14 251.0 561.05 251.5 560.97 252.0 560.89 252.5 560.81 253.0 560.74 253.5 560.66 254.0 560.59 254.5 560.53 255.0 560.46 255.5 560.40 256.0 560.34 256.5 560.28 257.0 560.23 257.5 560.18 258.0 560.13 258.5 560.09 259.0 560.05 259.5 560.01 260.0 559.98 260.5 559.95 261.0 559.92 261.5 559.90 262.0 559.88 262.5 559.86 263.0 559.85 263.5 559.85 264.0 559.84 264.5 559.84 265.0 559.85 265.5 559.86 266.0 559.88 266.5 559.89 267.0 559.92 267.5 559.95 268.0 559.98 268.5 560.02 269.0 560.06 269.5 560.11 270.0 560.16 270.5 560.22 271.0 560.28 271.5 560.35 272.0 560.43 272.5 560.51 273.0 560.59 273.5 560.68 274.0 560.78 274.5 560.88 275.0 560.99 275.5 561.11 276.0 561.23 276.5 561.35 277.0 561.49 277.5 561.62 278.0 561.77 278.5 561.92 279.0 562.08 279.5 562.25 280.0 562.42 280.5 562.60 281.0 562.78 281.5 562.97 282.0 563.17 282.5 563.38 283.0 563.59 283.5 563.81 284.0 564.04 284.5 564.27 285.0 564.51 285.5 564.76 286.0 565.01 286.5 565.27 287.0 565.54 287.5 565.82 288.0 566.10 288.5 566.39 289.0 566.69 289.5 566.99 290.0 567.30 290.5 567.62 291.0 567.94 291.5 568.27 292.0 568.61 292.5 568.96 293.0 569.31 293.5 569.67 294.0 570.04 294.5 570.41 295.0 570.79 295.5 571.18 296.0 571.58 296.5 571.98 297.0 572.39 297.5 572.81 298.0 573.23 298.5 573.66 299.0 574.10 299.5 574.55 300.0 575.00 300.5 575.46 301.0 575.93 301.5 576.40 302.0 576.89 302.5 577.38 303.0 577.87 303.5 578.38 304.0 578.89 304.5 579.41 305.0 579.94 305.5 580.47 306.0 581.01 306.5 581.56 307.0 582.11 307.5 582.68 308.0 583.25 308.5 583.83 309.0 584.41 309.5 585.00 310.0 585.60 310.5 586.21 311.0 586.83 311.5 587.45 312.0 588.08 312.5 588.72 313.0 589.36 313.5 590.02 314.0 590.68 314.5 591.34 315.0 592.02 315.5 592.70 316.0 593.39 316.5 594.09 317.0 594.80 317.5 595.51 318.0 596.23 318.5 596.96 319.0 597.70 319.5 598.44 320.0 599.19 320.5 599.95 321.0 600.72 321.5 601.49 322.0 602.28 322.5 603.07 323.0 603.86 323.5 604.67 324.0 605.48 324.5 606.30 325.0 607.13 325.5 607.97 326.0 608.81 326.5 609.66 327.0 610.52 327.5 611.39 328.0 612.26 328.5 613.14 329.0 614.03 329.5 614.92 330.0 615.82 330.5 616.72 331.0 617.63 331.5 618.55 332.0 619.47 332.5 620.39 333.0 621.32 333.5 622.26 334.0 623.19 334.5 624.14 335.0 625.08 335.5 626.03 336.0 626.99 336.5 627.94 337.0 628.91 337.5 629.87 338.0 630.83 338.5 631.80 339.0 632.77 339.5 633.75 340.0 634.72 340.5 635.70 341.0 636.67 341.5 637.65 342.0 638.63 342.5 639.61 343.0 640.59 343.5 641.57 344.0 642.55 344.5 643.53 345.0 644.52 345.5 645.50 346.0 646.48 346.5 647.45 347.0 648.43 347.5 649.41 348.0 650.38 348.5 651.36 349.0 652.33 349.5 653.29 350.0 654.26 350.5 655.22 351.0 656.19 351.5 657.14 352.0 658.10 352.5 659.05 353.0 660.00 353.5 660.94 354.0 661.88 354.5 662.81 355.0 663.75 355.5 664.67 356.0 665.59 356.5 666.51 357.0 667.42 357.5 668.32 358.0 669.22 358.5 670.12 359.0 671.00 359.5 671.88 360.0 672.76 360.5 673.63 361.0 674.49 361.5 675.34 362.0 676.19 362.5 677.02 363.0 677.85 363.5 678.68 364.0 679.49 364.5 680.29 365.0 681.09 365.5 681.88 366.0 682.66 366.5 683.43 367.0 684.19 367.5 684.94 368.0 685.68 368.5 686.41 369.0 687.12 369.5 687.83 370.0 688.53 370.5 689.22 371.0 689.90 371.5 690.56 372.0 691.22 372.5 691.86 373.0 692.50 373.5 693.12 374.0 693.73 374.5 694.33 375.0 694.92 375.5 695.50 376.0 696.07 376.5 696.63 377.0 697.17 377.5 697.71 378.0 698.23 378.5 698.74 379.0 699.25 379.5 699.74 380.0 700.21 380.5 700.68 381.0 701.14 381.5 701.58 382.0 702.01 382.5 702.43 383.0 702.84 383.5 703.24 384.0 703.62 384.5 704.00 385.0 704.36 385.5 704.71 386.0 705.05 386.5 705.38 387.0 705.69 387.5 705.99 388.0 706.28 388.5 706.56 389.0 706.83 389.5 707.08 390.0 707.32 390.5 707.55 391.0 707.77 391.5 707.98 392.0 708.17 392.5 708.35 393.0 708.52 393.5 708.67 394.0 708.82 394.5 708.95 395.0 709.06 395.5 709.17 396.0 709.26 396.5 709.34 397.0 709.41 397.5 709.46 398.0 709.50 398.5 709.53 399.0 709.55 399.5 709.55 400.0 709.54 400.5 709.51 401.0 709.48 401.5 709.43 402.0 709.36 402.5 709.29 403.0 709.20 403.5 709.09 404.0 708.98 404.5 708.85 405.0 708.71 405.5 708.55 406.0 708.38 406.5 708.20 407.0 708.00 407.5 707.79 408.0 707.56 408.5 707.32 409.0 707.07 409.5 706.81 410.0 706.53 410.5 706.23 411.0 705.93 411.5 705.60 412.0 705.27 412.5 704.92 413.0 704.56 413.5 704.18 414.0 703.79 414.5 703.38 415.0 702.96 415.5 702.53 416.0 702.08 416.5 701.61 417.0 701.14 417.5 700.64 418.0 700.14 418.5 699.62 419.0 699.08 419.5 698.53 420.0 697.97 420.5 697.39 421.0 696.79 421.5 696.18 422.0 695.56 422.5 694.92 423.0 694.27 423.5 693.60 424.0 692.91 424.5 692.22 425.0 691.50 425.5 690.77 426.0 690.03 426.5 689.27 427.0 688.50 427.5 687.71 428.0 686.91 428.5 686.09 429.0 685.27 429.5 684.44 430.0 683.60 430.5 682.75 431.0 681.89 431.5 681.03 432.0 680.17 432.5 679.30 433.0 678.44 433.5 677.57 434.0 676.70 434.5 675.83 435.0 674.97 435.5 674.11 436.0 673.25 436.5 672.38 437.0 671.52 437.5 670.66 438.0 669.79 438.5 668.93 439.0 668.06 439.5 667.18 440.0 666.31 440.5 665.42 441.0 664.54 441.5 663.64 442.0 662.74 442.5 661.84 443.0 660.92 443.5 660.00 444.0 659.07 444.5 658.12 445.0 657.17 445.5 656.21 446.0 655.24 446.5 654.25 447.0 653.26 447.5 652.25 448.0 651.24 448.5 650.22 449.0 649.19 449.5 648.15 450.0 647.11 450.5 646.07 451.0 645.02 451.5 643.96 452.0 642.90 452.5 641.84 453.0 640.78 453.5 639.71 454.0 638.65 454.5 637.58 455.0 636.52 455.5 635.45 456.0 634.38 456.5 633.31 457.0 632.24 457.5 631.17 458.0 630.10 458.5 629.03 459.0 627.95 459.5 626.88 460.0 625.81 460.5 624.74 461.0 623.67 461.5 622.60 462.0 621.53 462.5 620.46 463.0 619.39 463.5 618.32 464.0 617.25 464.5 616.19 465.0 615.12 465.5 614.06 466.0 612.99 466.5 611.93 467.0 610.87 467.5 609.81 468.0 608.75 468.5 607.70 469.0 606.64 469.5 605.59 470.0 604.54 470.5 603.49 471.0 602.44 471.5 601.40 472.0 600.36 472.5 599.32 473.0 598.28 473.5 597.25 474.0 596.22 474.5 595.19 475.0 594.16 475.5 593.14 476.0 592.12 476.5 591.11 477.0 590.09 477.5 589.08 478.0 588.07 478.5 587.07 479.0 586.07 479.5 585.07 480.0 584.07 480.5 583.08 481.0 582.09 481.5 581.10 482.0 580.12 482.5 579.14 483.0 578.16 483.5 577.19 484.0 576.22 484.5 575.25 485.0 574.29 485.5 573.33 486.0 572.37 486.5 571.42 487.0 570.47 487.5 569.52 488.0 568.58 488.5 567.65 489.0 566.72 489.5 565.81 490.0 564.90 490.5 564.00 491.0 563.12 491.5 562.25 492.0 561.39 492.5 560.55 493.0 559.73 493.5 558.92 494.0 558.14 494.5 557.37 495.0 556.62 495.5 555.89 496.0 555.18 496.5 554.49 497.0 553.83 497.5 553.18 498.0 552.56 498.5 551.97 499.0 551.39 499.5 550.84 500.0 550.32 500.5 549.82 501.0 549.34 501.5 548.89 502.0 548.47 502.5 548.08 503.0 547.71 503.5 547.38 504.0 547.07 504.5 546.79 505.0 546.54 505.5 546.33 506.0 546.14 506.5 545.98 507.0 545.86 507.5 545.77 508.0 545.72 508.5 545.69 509.0 545.70" stroke="#9c189c" stroke-dasharray="4.9 2.15"/>
<path d="M71.50 566.89 L72.0 566.88 72.5 566.88 73.0 566.88 73.5 566.87 74.0 566.87 74.5 566.86 75.0 566.86 75.5 566.86 76.0 566.86 76.5 566.85 77.0 566.85 77.5 566.85 78.0 566.85 78.5 566.85 79.0 566.85 79.5 566.85 80.0 566.85 80.5 566.85 81.0 566.85 81.5 566.85 82.0 566.85 82.5 566.85 83.0 566.86 83.5 566.86 84.0 566.86 84.5 566.87 85.0 566.87 85.5 566.87 86.0 566.88 86.5 566.88 87.0 566.89 87.5 566.89 88.0 566.90 88.5 566.90 89.0 566.91 89.5 566.92 90.0 566.92 90.5 566.93 91.0 566.94 91.5 566.95 92.0 566.95 92.5 566.96 93.0 566.97 93.5 566.98 94.0 566.99 94.5 567.00 95.0 567.01 95.5 567.02 96.0 567.03 96.5 567.04 97.0 567.05 97.5 567.06 98.0 567.08 98.5 567.09 99.0 567.10 99.5 567.11 100.0 567.13 100.5 567.14 101.0 567.15 101.5 567.17 102.0 567.18 102.5 567.20 103.0 567.21 103.5 567.23 104.0 567.24 104.5 567.26 105.0 567.28 105.5 567.29 106.0 567.31 106.5 567.33 107.0 567.34 107.5 567.36 108.0 567.38 108.5 567.40 109.0 567.42 109.5 567.43 110.0 567.45 110.5 567.47 111.0 567.49 111.5 567.51 112.0 567.53 112.5 567.55 113.0 567.57 113.5 567.60 114.0 567.62 114.5 567.64 115.0 567.66 115.5 567.68 116.0 567.71 116.5 567.73 117.0 567.75 117.5 567.78 118.0 567.80 118.5 567.82 119.0 567.85 119.5 567.87 120.0 567.90 120.5 567.92 121.0 567.95 121.5 567.97 122.0 568.00 122.5 568.03 123.0 568.05 123.5 568.08 124.0 568.11 124.5 568.13 125.0 568.16 125.5 568.19 126.0 568.22 126.5 568.25 127.0 568.27 127.5 568.30 128.0 568.33 128.5 568.36 129.0 568.39 129.5 568.42 130.0 568.45 130.5 568.48 131.0 568.51 131.5 568.54 132.0 568.58 132.5 568.61 133.0 568.64 133.5 568.67 134.0 568.70 134.5 568.74 135.0 568.77 135.5 568.80 136.0 568.83 136.5 568.87 137.0 568.90 137.5 568.94 138.0 568.97 138.5 569.00 139.0 569.04 139.5 569.07 140.0 569.11 140.5 569.15 141.0 569.18 141.5 569.22 142.0 569.25 142.5 569.29 143.0 569.33 143.5 569.36 144.0 569.40 144.5 569.44 145.0 569.48 145.5 569.51 146.0 569.55 146.5 569.59 147.0 569.63 147.5 569.67 148.0 569.71 148.5 569.75 149.0 569.79 149.5 569.83 150.0 569.87 150.5 569.91 151.0 569.95 151.5 569.99 152.0 570.03 152.5 570.07 153.0 570.11 153.5 570.15 154.0 570.20 154.5 570.24 155.0 570.28 155.5 570.32 156.0 570.37 156.5 570.41 157.0 570.45 157.5 570.49 158.0 570.54 158.5 570.58 159.0 570.63 159.5 570.67 160.0 570.72 160.5 570.76 161.0 570.81 161.5 570.85 162.0 570.90 162.5 570.94 163.0 570.99 163.5 571.03 164.0 571.08 164.5 571.13 165.0 571.17 165.5 571.22 166.0 571.27 166.5 571.31 167.0 571.36 167.5 571.41 168.0 571.46 168.5 571.50 169.0 571.55 169.5 571.60 170.0 571.65 170.5 571.70 171.0 571.75 171.5 571.80 172.0 571.85 172.5 571.90 173.0 571.95 173.5 572.00 174.0 572.05 174.5 572.10 175.0 572.15 175.5 572.20 176.0 572.25 176.5 572.30 177.0 572.35 177.5 572.40 178.0 572.45 178.5 572.51 179.0 572.56 179.5 572.61 180.0 572.66 180.5 572.72 181.0 572.77 181.5 572.82 182.0 572.88 182.5 572.93 183.0 572.98 183.5 573.04 184.0 573.09 184.5 573.14 185.0 573.20 185.5 573.25 186.0 573.31 186.5 573.36 187.0 573.42 187.5 573.47 188.0 573.53 188.5 573.58 189.0 573.64 189.5 573.69 190.0 573.75 190.5 573.81 191.0 573.86 191.5 573.92 192.0 573.98 192.5 574.03 193.0 574.09 193.5 574.15 194.0 574.20 194.5 574.26 195.0 574.32 195.5 574.38 196.0 574.44 196.5 574.49 197.0 574.55 197.5 574.61 198.0 574.67 198.5 574.73 199.0 574.79 199.5 574.85 200.0 574.91 200.5 574.96 201.0 575.02 201.5 575.08 202.0 575.14 202.5 575.20 203.0 575.26 203.5 575.32 204.0 575.38 204.5 575.44 205.0 575.51 205.5 575.57 206.0 575.63 206.5 575.69 207.0 575.75 207.5 575.81 208.0 575.87 208.5 575.93 209.0 576.00 209.5 576.06 210.0 576.12 210.5 576.18 211.0 576.25 211.5 576.31 212.0 576.37 212.5 576.43 213.0 576.50 213.5 576.56 214.0 576.62 214.5 576.69 215.0 576.75 215.5 576.81 216.0 576.88 216.5 576.94 217.0 577.00 217.5 577.07 218.0 577.13 218.5 577.20 219.0 577.26 219.5 577.33 220.0 577.39 220.5 577.46 221.0 577.52 221.5 577.59 222.0 577.65 222.5 577.72 223.0 577.78 223.5 577.85 224.0 577.91 224.5 577.98 225.0 578.04 225.5 578.11 226.0 578.18 226.5 578.24 227.0 578.31 227.5 578.38 228.0 578.44 228.5 578.51 229.0 578.58 229.5 578.64 230.0 578.71 230.5 578.78 231.0 578.84 231.5 578.91 232.0 578.98 232.5 579.05 233.0 579.11 233.5 579.18 234.0 579.25 234.5 579.32 235.0 579.38 235.5 579.45 236.0 579.52 236.5 579.59 237.0 579.66 237.5 579.73 238.0 579.79 238.5 579.86 239.0 579.93 239.5 580.00 240.0 580.07 240.5 580.14 241.0 580.21 241.5 580.28 242.0 580.35 242.5 580.42 243.0 580.49 243.5 580.56 244.0 580.62 244.5 580.69 245.0 580.76 245.5 580.83 246.0 580.90 246.5 580.97 247.0 581.04 247.5 581.11 248.0 581.19 248.5 581.26 249.0 581.33 249.5 581.40 250.0 581.47 250.5 581.54 251.0 581.61 251.5 581.68 252.0 581.75 252.5 581.82 253.0 581.89 253.5 581.96 254.0 582.03 254.5 582.11 255.0 582.18 255.5 582.25 256.0 582.32 256.5 582.39 257.0 582.46 257.5 582.54 258.0 582.61 258.5 582.68 259.0 582.75 259.5 582.82 260.0 582.89 260.5 582.97 261.0 583.04 261.5 583.11 262.0 583.18 262.5 583.26 263.0 583.33 263.5 583.40 264.0 583.47 264.5 583.54 265.0 583.62 265.5 583.69 266.0 583.76 266.5 583.84 267.0 583.91 267.5 583.98 268.0 584.05 268.5 584.13 269.0 584.20 269.5 584.27 270.0 584.35 270.5 584.42 271.0 584.49 271.5 584.56 272.0 584.64 272.5 584.71 273.0 584.78 273.5 584.86 274.0 584.93 274.5 585.00 275.0 585.08 275.5 585.15 276.0 585.22 276.5 585.30 277.0 585.37 277.5 585.45 278.0 585.52 278.5 585.59 279.0 585.67 279.5 585.74 280.0 585.81 280.5 585.89 281.0 585.96 281.5 586.04 282.0 586.11 282.5 586.18 283.0 586.26 283.5 586.33 284.0 586.40 284.5 586.48 285.0 586.55 285.5 586.63 286.0 586.70 286.5 586.77 287.0 586.85 287.5 586.92 288.0 587.00 288.5 587.07 289.0 587.15 289.5 587.22 290.0 587.29 290.5 587.37 291.0 587.44 291.5 587.52 292.0 587.59 292.5 587.66 293.0 587.74 293.5 587.81 294.0 587.89 294.5 587.96 295.0 588.04 295.5 588.11 296.0 588.18 296.5 588.26 297.0 588.33 297.5 588.41 298.0 588.48 298.5 588.56 299.0 588.63 299.5 588.70 300.0 588.78 300.5 588.85 301.0 588.93 301.5 589.00 302.0 589.08 302.5 589.15 303.0 589.22 303.5 589.30 304.0 589.37 304.5 589.45 305.0 589.52 305.5 589.60 306.0 589.67 306.5 589.74 307.0 589.82 307.5 589.89 308.0 589.97 308.5 590.04 309.0 590.11 309.5 590.19 310.0 590.26 310.5 590.34 311.0 590.41 311.5 590.48 312.0 590.56 312.5 590.63 313.0 590.71 313.5 590.78 314.0 590.85 314.5 590.93 315.0 591.00 315.5 591.08 316.0 591.15 316.5 591.22 317.0 591.30 317.5 591.37 318.0 591.44 318.5 591.52 319.0 591.59 319.5 591.67 320.0 591.74 320.5 591.81 321.0 591.89 321.5 591.96 322.0 592.03 322.5 592.11 323.0 592.18 323.5 592.25 324.0 592.33 324.5 592.40 325.0 592.47 325.5 592.55 326.0 592.62 326.5 592.69 327.0 592.77 327.5 592.84 328.0 592.91 328.5 592.98 329.0 593.06 329.5 593.13 330.0 593.20 330.5 593.28 331.0 593.35 331.5 593.42 332.0 593.49 332.5 593.57 333.0 593.64 333.5 593.71 334.0 593.78 334.5 593.85 335.0 593.93 335.5 594.00 336.0 594.07 336.5 594.14 337.0 594.22 337.5 594.29 338.0 594.36 338.5 594.43 339.0 594.50 339.5 594.57 340.0 594.65 340.5 594.72 341.0 594.79 341.5 594.86 342.0 594.93 342.5 595.00 343.0 595.07 343.5 595.15 344.0 595.22 344.5 595.29 345.0 595.36 345.5 595.43 346.0 595.50 346.5 595.57 347.0 595.64 347.5 595.71 348.0 595.78 348.5 595.85 349.0 595.92 349.5 595.99 350.0 596.06 350.5 596.13 351.0 596.20 351.5 596.27 352.0 596.34 352.5 596.41 353.0 596.48 353.5 596.55 354.0 596.62 354.5 596.69 355.0 596.76 355.5 596.83 356.0 596.90 356.5 596.97 357.0 597.04 357.5 597.11 358.0 597.18 358.5 597.24 359.0 597.31 359.5 597.38 360.0 597.45 360.5 597.52 361.0 597.59 361.5 597.65 362.0 597.72 362.5 597.79 363.0 597.86 363.5 597.93 364.0 597.99 364.5 598.06 365.0 598.13 365.5 598.20 366.0 598.26 366.5 598.33 367.0 598.40 367.5 598.46 368.0 598.53 368.5 598.60 369.0 598.66 369.5 598.73 370.0 598.80 370.5 598.86 371.0 598.93 371.5 599.00 372.0 599.06 372.5 599.13 373.0 599.19 373.5 599.26 374.0 599.32 374.5 599.39 375.0 599.46 375.5 599.52 376.0 599.59 376.5 599.65 377.0 599.72 377.5 599.78 378.0 599.84 378.5 599.91 379.0 599.97 379.5 600.04 380.0 600.10 380.5 600.17 381.0 600.23 381.5 600.29 382.0 600.36 382.5 600.42 383.0 600.48 383.5 600.55 384.0 600.61 384.5 600.67 385.0 600.73 385.5 600.80 386.0 600.86 386.5 600.92 387.0 600.98 387.5 601.05 388.0 601.11 388.5 601.17 389.0 601.23 389.5 601.29 390.0 601.35 390.5 601.42 391.0 601.48 391.5 601.54 392.0 601.60 392.5 601.66 393.0 601.72 393.5 601.78 394.0 601.84 394.5 601.90 395.0 601.96 395.5 602.02 396.0 602.08 396.5 602.14 397.0 602.20 397.5 602.26 398.0 602.32 398.5 602.37 399.0 602.43 399.5 602.49 400.0 602.55 400.5 602.61 401.0 602.67 401.5 602.72 402.0 602.78 402.5 602.84 403.0 602.90 403.5 602.95 404.0 603.01 404.5 603.07 405.0 603.12 405.5 603.18 406.0 603.24 406.5 603.29 407.0 603.35 407.5 603.41 408.0 603.46 408.5 603.52 409.0 603.57 409.5 603.63 410.0 603.68 410.5 603.74 411.0 603.79 411.5 603.85 412.0 603.90 412.5 603.96 413.0 604.01 413.5 604.06 414.0 604.12 414.5 604.17 415.0 604.22 415.5 604.28 416.0 604.33 416.5 604.38 417.0 604.44 417.5 604.49 418.0 604.54 418.5 604.59 419.0 604.64 419.5 604.70 420.0 604.75 420.5 604.80 421.0 604.85 421.5 604.90 422.0 604.95 422.5 605.00 423.0 605.05 423.5 605.10 424.0 605.15 424.5 605.20 425.0 605.25 425.5 605.30 426.0 605.35 426.5 605.40 427.0 605.45 427.5 605.50 428.0 605.54 428.5 605.59 429.0 605.64 429.5 605.69 430.0 605.73 430.5 605.78 431.0 605.83 431.5 605.88 432.0 605.92 432.5 605.97 433.0 606.02 433.5 606.06 434.0 606.11 434.5 606.15 435.0 606.20 435.5 606.24 436.0 606.29 436.5 606.33 437.0 606.38 437.5 606.42 438.0 606.47 438.5 606.51 439.0 606.55 439.5 606.60 440.0 606.64 440.5 606.68 441.0 606.73 441.5 606.77 442.0 606.81 442.5 606.86 443.0 606.90 443.5 606.94 444.0 606.98 444.5 607.02 445.0 607.06 445.5 607.10 446.0 607.14 446.5 607.18 447.0 607.22 447.5 607.26 448.0 607.30 448.5 607.34 449.0 607.38 449.5 607.42 450.0 607.46 450.5 607.50 451.0 607.54 451.5 607.58 452.0 607.61 452.5 607.65 453.0 607.69 453.5 607.73 454.0 607.76 454.5 607.80 455.0 607.84 455.5 607.87 456.0 607.91 456.5 607.94 457.0 607.98 457.5 608.01 458.0 608.05 458.5 608.08 459.0 608.12 459.5 608.15 460.0 608.19 460.5 608.22 461.0 608.25 461.5 608.29 462.0 608.32 462.5 608.35 463.0 608.38 463.5 608.42 464.0 608.45 464.5 608.48 465.0 608.51 465.5 608.54 466.0 608.57 466.5 608.60 467.0 608.63 467.5 608.66 468.0 608.69 468.5 608.72 469.0 608.75 469.5 608.78 470.0 608.81 470.5 608.84 471.0 608.87 471.5 608.90 472.0 608.92 472.5 608.95 473.0 608.98 473.5 609.00 474.0 609.03 474.5 609.06 475.0 609.08 475.5 609.11 476.0 609.14 476.5 609.16 477.0 609.19 477.5 609.21 478.0 609.23 478.5 609.26 479.0 609.28 479.5 609.31 480.0 609.33 480.5 609.35 481.0 609.38 481.5 609.40 482.0 609.42 482.5 609.44 483.0 609.46 483.5 609.48 484.0 609.51 484.5 609.53 485.0 609.55 485.5 609.57 486.0 609.59 486.5 609.61 487.0 609.63 487.5 609.64 488.0 609.66 488.5 609.68 489.0 609.70 489.5 609.72 490.0 609.74 490.5 609.75 491.0 609.77 491.5 609.79 492.0 609.80 492.5 609.82 493.0 609.83 493.5 609.85 494.0 609.87 494.5 609.88 495.0 609.89 495.5 609.91 496.0 609.92 496.5 609.94 497.0 609.95 497.5 609.96 498.0 609.98 498.5 609.99 499.0 610.00 499.5 610.01 500.0 610.02 500.5 610.03 501.0 610.04 501.5 610.06 502.0 610.07 502.5 610.08 503.0 610.08 503.5 610.09 504.0 610.10 504.5 610.11 505.0 610.12 505.5 610.13 506.0 610.14 506.5 610.14 507.0 610.15 507.5 610.16 508.0 610.16 508.5 610.17 509.0 610.17" stroke="#22a4ac" stroke-dasharray="4.9 2.15"/>
</g>
<rect x="71.50" y="420.60" width="436.90" height="317.30" fill="none" stroke="#222" stroke-width="1.1"/>
<path d="M71.50 737.90 v3.4 M133.55 737.90 v3.4 M196.20 737.90 v3.4 M258.10 737.90 v3.4 M320.50 737.90 v3.4 M382.60 737.90 v3.4 M445.20 737.90 v3.4 M507.70 737.90 v3.4 M71.50 439.10 h-3.4 M71.50 512.05 h-3.4 M71.50 584.95 h-3.4 M71.50 657.90 h-3.4 M71.50 730.80 h-3.4" stroke="#222" stroke-width="1.1" fill="none"/>
<text transform="translate(71.20 760.50) scale(1 1.075)" text-anchor="middle" class="t">0.5</text>
<text transform="translate(133.25 760.50) scale(1 1.075)" text-anchor="middle" class="t">1.0</text>
<text transform="translate(195.90 760.50) scale(1 1.075)" text-anchor="middle" class="t">1.5</text>
<text transform="translate(257.80 760.50) scale(1 1.075)" text-anchor="middle" class="t">2.0</text>
<text transform="translate(320.20 760.50) scale(1 1.075)" text-anchor="middle" class="t">2.5</text>
<text transform="translate(382.30 760.50) scale(1 1.075)" text-anchor="middle" class="t">3.0</text>
<text transform="translate(444.90 760.50) scale(1 1.075)" text-anchor="middle" class="t">3.5</text>
<text transform="translate(507.40 760.50) scale(1 1.075)" text-anchor="middle" class="t">4.0</text>
<text transform="translate(64.00 446.60) scale(1 1.075)" text-anchor="end" class="t">0.4</text>
<text transform="translate(64.00 519.55) scale(1 1.075)" text-anchor="end" class="t">0.2</text>
<text transform="translate(64.00 592.45) scale(1 1.075)" text-anchor="end" class="t">0.0</text>
<text transform="translate(64.00 667.40) scale(1 1.075)" text-anchor="end" class="t">0.2</text>
<rect x="24.3" y="661.45" width="13" height="1.15" fill="#1a1a1a"/>
<text transform="translate(64.00 740.30) scale(1 1.075)" text-anchor="end" class="t">0.4</text>
<rect x="24.3" y="734.35" width="13" height="1.15" fill="#1a1a1a"/>
<text x="263.4" y="784.10" class="t" style="font-size:20px;font-style:italic">ω</text>
<path d="M288.1 769.10 H285.75 V788.90 H288.1 M311.2 769.10 H313.35 V788.90 H311.2" stroke="#1a1a1a" stroke-width="1.05" fill="none"/>
<text x="288.0" y="784.10" class="t" style="font-size:20px" textLength="22.4" lengthAdjust="spacingAndGlyphs">eV</text>
<g transform="translate(15.7 0) rotate(-90)"><text x="-621.15" y="0" class="t" style="font-size:20px;font-style:italic">η</text><text x="-604.12" y="0" class="t" style="font-size:20px;font-style:italic">ω</text><text x="-571.50" y="-0.8" class="t" style="font-size:19.5px" textLength="27.6" lengthAdjust="spacingAndGlyphs">deg</text></g>
<path d="M0.4 605.00 Q10.5 613.00 20.7 605.00 M0.4 588.80 Q10.5 580.80 20.7 588.80 M0.6 571.30 V573.50 H20.2 V571.30 M0.6 543.90 V541.70 H20.2 V543.90" stroke="#1a1a1a" stroke-width="1.05" fill="none"/>
<text x="70.30" y="415.20" class="t" style="font-size:21px">(b)</text>
</svg>
</body></html>
